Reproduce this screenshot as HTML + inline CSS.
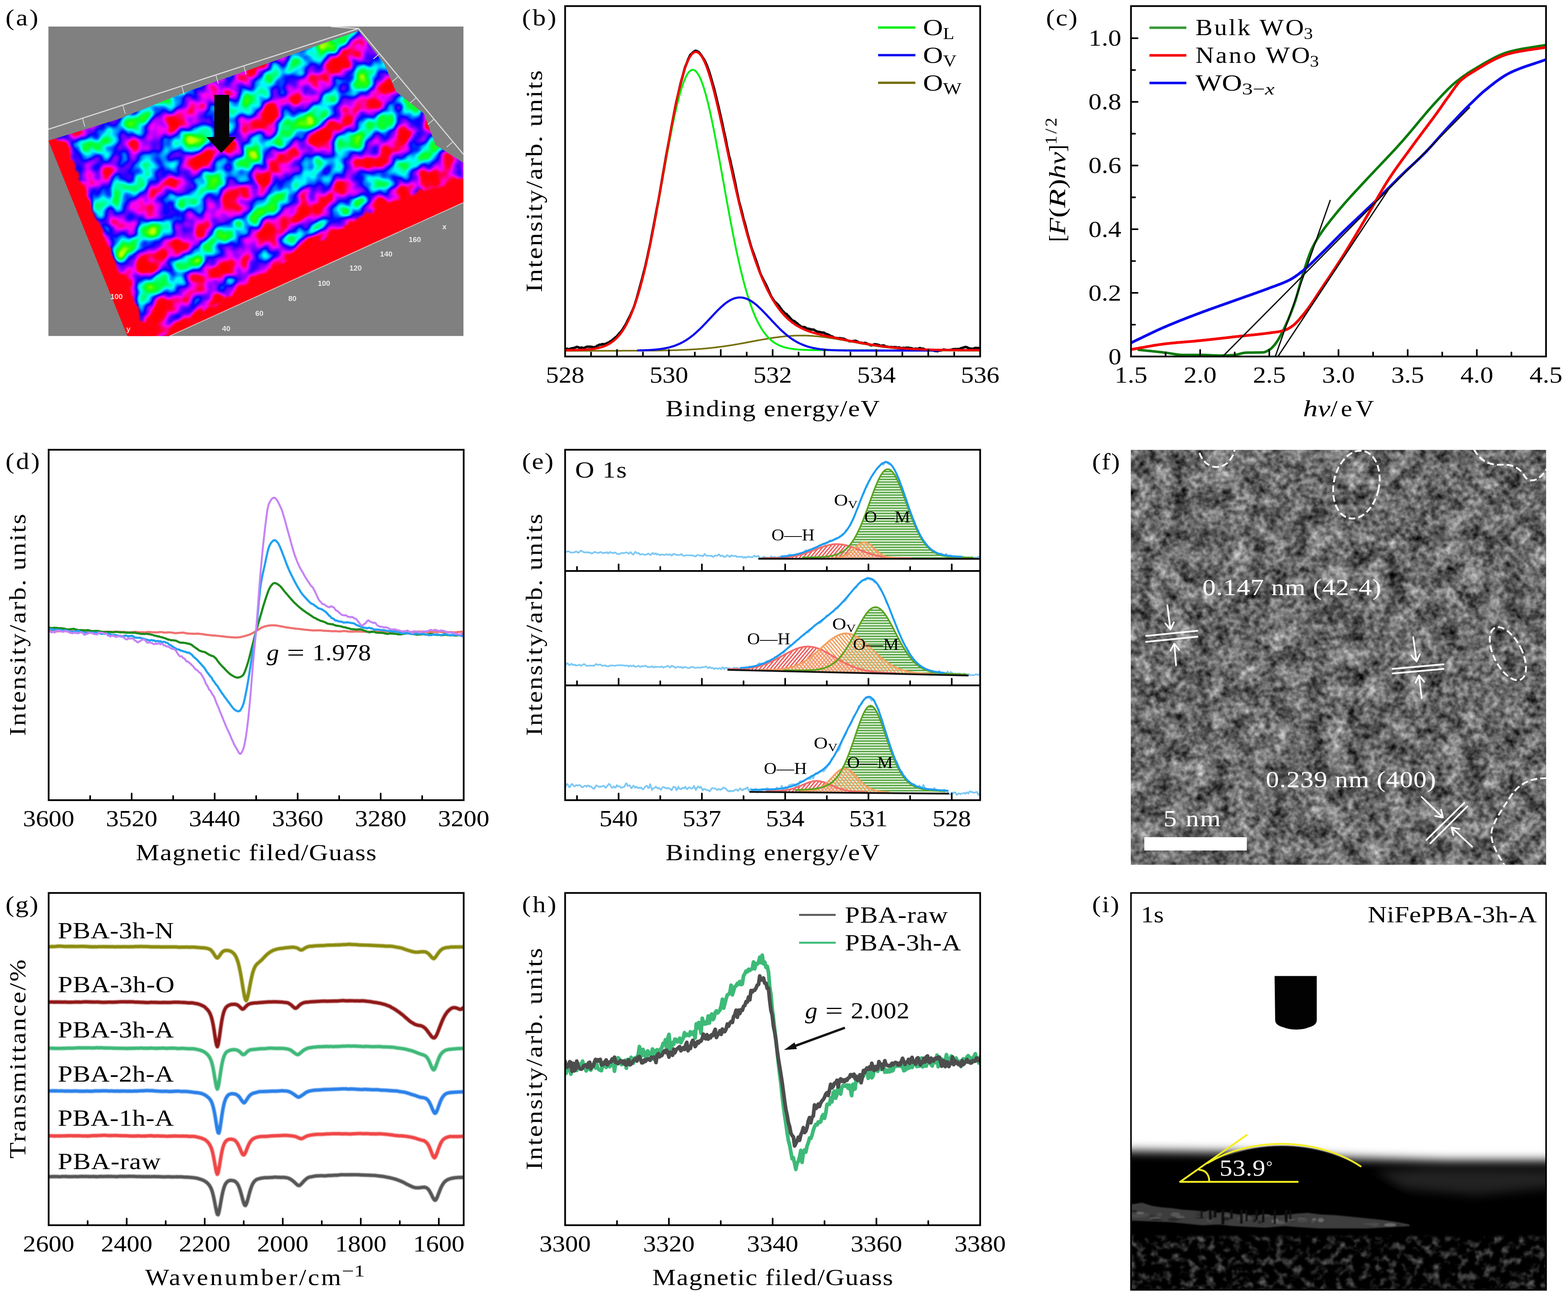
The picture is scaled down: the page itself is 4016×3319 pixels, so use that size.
<!DOCTYPE html>
<html lang="en"><head><meta charset="utf-8"><title>Figure</title>
<style>html,body{margin:0;padding:0;background:#fff}svg{display:block}text{font-family:"Liberation Serif", "DejaVu Serif", serif;white-space:pre}</style></head>
<body>
<svg width="4016" height="3319" viewBox="0 0 4016 3319">
<defs>
<clipPath id="ca"><rect x="124" y="68" width="1063" height="792.4"/></clipPath>
<linearGradient id="ga" gradientUnits="userSpaceOnUse" x1="885.7" y1="308.6" x2="958.9" y2="411.2" spreadMethod="repeat"><stop offset="0.0000" stop-color="rgb(255,255,255)"/><stop offset="0.0625" stop-color="rgb(246,246,246)"/><stop offset="0.1250" stop-color="rgb(221,221,221)"/><stop offset="0.1875" stop-color="rgb(183,183,183)"/><stop offset="0.2500" stop-color="rgb(137,137,137)"/><stop offset="0.3125" stop-color="rgb(89,89,89)"/><stop offset="0.3750" stop-color="rgb(45,45,45)"/><stop offset="0.4375" stop-color="rgb(13,13,13)"/><stop offset="0.5000" stop-color="rgb(0,0,0)"/><stop offset="0.5625" stop-color="rgb(13,13,13)"/><stop offset="0.6250" stop-color="rgb(45,45,45)"/><stop offset="0.6875" stop-color="rgb(89,89,89)"/><stop offset="0.7500" stop-color="rgb(137,137,137)"/><stop offset="0.8125" stop-color="rgb(183,183,183)"/><stop offset="0.8750" stop-color="rgb(221,221,221)"/><stop offset="0.9375" stop-color="rgb(246,246,246)"/><stop offset="1.0000" stop-color="rgb(255,255,255)"/></linearGradient>
<filter id="afm" x="0" y="0" width="100%" height="100%" filterUnits="objectBoundingBox" color-interpolation-filters="sRGB">
<feTurbulence type="fractalNoise" baseFrequency="0.021" numOctaves="2" seed="5" result="t0"/>
<feColorMatrix in="t0" type="matrix" values="1 0 0 0 0  1 0 0 0 0  1 0 0 0 0  0 0 0 0 1" result="n"/>
<feComposite in="SourceGraphic" in2="n" operator="arithmetic" k1="0" k2="0.60" k3="1.0" k4="-0.235" result="h"/>
<feGaussianBlur in="h" stdDeviation="2.2" result="hb"/>
<feComponentTransfer in="hb"><feFuncR type="table" tableValues="0.745 0.561 0.377 0.194 0.118 0.069 0.020 0.000 0.000 0.000 0.000 0.000 0.000 0.000 0.000 0.000 0.000 0.048 0.181 0.313 0.446 0.589 0.743 0.896 1.000 1.000 1.000 1.000 1.000 1.000 1.000 1.000 1.000"/><feFuncG type="table" tableValues="1.000 1.000 1.000 1.000 1.000 1.000 1.000 1.000 1.000 1.000 1.000 0.979 0.806 0.632 0.458 0.285 0.111 0.000 0.000 0.000 0.000 0.000 0.000 0.000 0.000 0.000 0.000 0.000 0.000 0.000 0.000 0.000 0.000"/><feFuncB type="table" tableValues="0.000 0.000 0.000 0.000 0.059 0.132 0.206 0.338 0.508 0.679 0.850 1.000 1.000 1.000 1.000 1.000 1.000 1.000 1.000 1.000 1.000 1.000 1.000 1.000 0.930 0.710 0.491 0.271 0.140 0.105 0.070 0.035 0.000"/><feFuncA type="linear" slope="0" intercept="1"/></feComponentTransfer>
</filter>
<filter id="ab" x="-20%" y="-20%" width="140%" height="140%"><feGaussianBlur stdDeviation="9"/></filter>
<filter id="afm2" x="-5%" y="-5%" width="110%" height="110%" color-interpolation-filters="sRGB">
<feTurbulence type="fractalNoise" baseFrequency="0.035" numOctaves="2" seed="11" result="t0"/>
<feColorMatrix in="t0" type="matrix" values="1 0 0 0 0  0 1 0 0 0  0 0 1 0 0  0 0 0 0 1" result="t"/>
<feDisplacementMap in="SourceGraphic" in2="t" scale="30" xChannelSelector="R" yChannelSelector="G" result="d"/>
<feGaussianBlur in="d" stdDeviation="2.5"/>
</filter>
<linearGradient id="gad" gradientUnits="userSpaceOnUse" x1="300" y1="150" x2="800" y2="760"><stop offset="0" stop-color="#000" stop-opacity="0.22"/><stop offset="0.55" stop-color="#000" stop-opacity="0.08"/><stop offset="1" stop-color="#000" stop-opacity="0"/></linearGradient>
<clipPath id="cas"><path d="M103.8 366.5 L301.1 305.8 L478.2 235 L680.5 164.1 L918.3 79.1 L984.1 164.1 L1014.5 235 L1085.3 290.6 L1115.7 371.6 L1187 417.1 L1211.8 432.3 L1237.1 495.5 L351.7 897.7 L341.6 897.7 L124 360.4 Z"/></clipPath>
<clipPath id="cb"><rect x="1447.4" y="15.6" width="1063" height="897.4"/></clipPath>
<clipPath id="cc"><rect x="2896.7" y="15.6" width="1063" height="897.4"/></clipPath>
<clipPath id="cd"><rect x="124.6" y="1151.8" width="1063" height="897.4"/></clipPath>
<clipPath id="ce"><rect x="1447.4" y="1151.8" width="1063" height="897.4"/></clipPath>
<pattern id="hg" width="8" height="6.7" patternUnits="userSpaceOnUse"><rect width="8" height="6.7" fill="#e6f6e0"/><rect y="0" width="8" height="3.3" fill="#4fa03c"/></pattern>
<pattern id="hr" width="7" height="7" patternUnits="userSpaceOnUse" patternTransform="rotate(-50)"><rect width="7" height="7" fill="#fff" fill-opacity="0.55"/><rect width="7" height="3.4" fill="#ee5555"/></pattern>
<pattern id="ho" width="7" height="7" patternUnits="userSpaceOnUse" patternTransform="rotate(50)"><rect width="7" height="7" fill="#fff" fill-opacity="0.45"/><rect width="7" height="3.2" fill="#f29a55"/></pattern>
<clipPath id="cf"><rect x="2896.8" y="1152.3" width="1063.2" height="1061.9"/></clipPath>
<filter id="tem" x="0" y="0" width="100%" height="100%" filterUnits="objectBoundingBox" color-interpolation-filters="sRGB">
<feTurbulence type="fractalNoise" baseFrequency="0.075" numOctaves="2" seed="7" result="n1"/>
<feColorMatrix in="n1" type="matrix" values="1 0 0 0 0  1 0 0 0 0  1 0 0 0 0  0 0 0 0 1" result="g1"/>
<feTurbulence type="fractalNoise" baseFrequency="0.02" numOctaves="2" seed="19" result="n2"/>
<feColorMatrix in="n2" type="matrix" values="0 1 0 0 0  0 1 0 0 0  0 1 0 0 0  0 0 0 0 1" result="g2"/>
<feComposite in="g1" in2="g2" operator="arithmetic" k1="0" k2="0.72" k3="0.72" k4="-0.305" result="s"/>
<feGaussianBlur in="s" stdDeviation="1.3"/>
</filter>
<filter id="blb" x="-50%" y="-50%" width="200%" height="200%"><feGaussianBlur stdDeviation="14"/></filter>
<clipPath id="cg"><rect x="124.6" y="2286.8" width="1063" height="850.9"/></clipPath>
<filter id="soft" x="-2%" y="-20%" width="104%" height="140%"><feGaussianBlur stdDeviation="1.1"/></filter>
<clipPath id="ch"><rect x="1447.4" y="2286.8" width="1063" height="850.9"/></clipPath>
<clipPath id="ci"><rect x="2896.7" y="2286.8" width="1063.2" height="1016.5"/></clipPath>
<filter id="b14" x="-10%" y="-30%" width="120%" height="160%"><feGaussianBlur stdDeviation="13"/></filter>
<filter id="b3" x="-10%" y="-50%" width="120%" height="200%"><feGaussianBlur stdDeviation="1.8"/></filter>
<filter id="b5" x="-10%" y="-50%" width="120%" height="200%"><feGaussianBlur stdDeviation="3.5"/></filter>
<filter id="spk" x="0" y="0" width="100%" height="100%" color-interpolation-filters="sRGB">
<feTurbulence type="fractalNoise" baseFrequency="0.045 0.05" numOctaves="3" seed="4" result="n"/>
<feColorMatrix in="n" type="matrix" values="1.0 0 0 0 -0.48  1.0 0 0 0 -0.48  1.0 0 0 0 -0.48  0 0 0 0 1"/>
<feGaussianBlur stdDeviation="1.6"/>
</filter>
</defs>
<rect width="4016" height="3319" fill="#fff"/>
<rect x="124" y="68" width="1063" height="792.4" fill="#808080"/>
<g clip-path="url(#ca)">
<g clip-path="url(#cas)">
<g filter="url(#afm)">
<rect x="114" y="58" width="1083" height="812.4" fill="url(#ga)"/>
<rect x="114" y="58" width="1083" height="812.4" fill="url(#gad)"/>
<g filter="url(#ab)">
<path d="M351.7 897.7 1237.1 495.5 1237.1 412 984.1 498.1 781.7 614.4 629.9 705.5 498.4 791.5 316.3 897.7Z" stroke="none" stroke-width="0" fill="#fff" stroke-linejoin="round" stroke-linecap="round"/>
<path d="M93.6 341.2 164.5 371.6 215.1 487.9 275.8 629.6 346.6 776.3 412.4 897.7 275.8 897.7 93.6 432.3Z" stroke="none" stroke-width="0" fill="#fff" stroke-linejoin="round" stroke-linecap="round"/>
</g>
</g>
<g filter="url(#afm2)">
<path d="M351.7 907.9 1247.2 495.5 1247.2 434.8 984.1 520.8 781.7 637.2 629.9 728.3 508.5 809.2 336.5 907.9Z" stroke="none" stroke-width="0" fill="#ff0010" stroke-linejoin="round" stroke-linecap="round"/>
<path d="M103.8 341.2 169.5 366.5 217.6 493 275.8 629.6 346.6 776.3 412.4 897.7 275.8 897.7 93.6 412Z" stroke="none" stroke-width="0" fill="#ff0010" stroke-linejoin="round" stroke-linecap="round"/>
</g>
</g>
<path d="M124 331.1L918.3 73.1L1187 395.3" stroke="#d8d8d8" stroke-width="3" fill="none"/>
<path d="M847.5 68L918.3 73.1" stroke="#d8d8d8" stroke-width="3" fill="none"/>
<path d="M435.2 860.3L1187 518.8" stroke="#d8c8c8" stroke-width="2.4" fill="none" opacity="0.85"/>
<path d="M211.4 302.6l6 22" stroke="#d0d0d0" stroke-width="2.2"/>
<path d="M314.6 269.1l6 22" stroke="#d0d0d0" stroke-width="2.2"/>
<path d="M465.5 220.1l6 22" stroke="#d0d0d0" stroke-width="2.2"/>
<path d="M552.9 191.7l6 22" stroke="#d0d0d0" stroke-width="2.2"/>
<path d="M624.4 168.5l6 22" stroke="#d0d0d0" stroke-width="2.2"/>
<path d="M972 137.4l-16 14" stroke="#d0d0d0" stroke-width="2.2"/>
<path d="M1020.4 195.4l-16 14" stroke="#d0d0d0" stroke-width="2.2"/>
<path d="M1066.1 250.1l-16 14" stroke="#d0d0d0" stroke-width="2.2"/>
<path d="M1111.8 304.8l-16 14" stroke="#d0d0d0" stroke-width="2.2"/>
<path d="M1160.1 362.8l-16 14" stroke="#d0d0d0" stroke-width="2.2"/>
<path d="M549 243H587V351H605L566.7 392L528.5 351H549Z" fill="#050505"/>
</g>
<text x="1138.4" y="587" style="font-family:'Liberation Sans', 'DejaVu Sans', sans-serif;font-weight:bold" font-size="19" text-anchor="middle" fill="#f4f4f4" opacity="0.9">x</text>
<text x="1062.5" y="620.4" style="font-family:'Liberation Sans', 'DejaVu Sans', sans-serif;font-weight:bold" font-size="19" text-anchor="middle" fill="#f4f4f4" opacity="0.9">160</text>
<text x="989.2" y="656.8" style="font-family:'Liberation Sans', 'DejaVu Sans', sans-serif;font-weight:bold" font-size="19" text-anchor="middle" fill="#f4f4f4" opacity="0.9">140</text>
<text x="910.7" y="693.3" style="font-family:'Liberation Sans', 'DejaVu Sans', sans-serif;font-weight:bold" font-size="19" text-anchor="middle" fill="#f4f4f4" opacity="0.9">120</text>
<text x="829.8" y="731.7" style="font-family:'Liberation Sans', 'DejaVu Sans', sans-serif;font-weight:bold" font-size="19" text-anchor="middle" fill="#f4f4f4" opacity="0.9">100</text>
<text x="748.8" y="770.7" style="font-family:'Liberation Sans', 'DejaVu Sans', sans-serif;font-weight:bold" font-size="19" text-anchor="middle" fill="#f4f4f4" opacity="0.9">80</text>
<text x="664.3" y="808.6" style="font-family:'Liberation Sans', 'DejaVu Sans', sans-serif;font-weight:bold" font-size="19" text-anchor="middle" fill="#f4f4f4" opacity="0.9">60</text>
<text x="579.4" y="848.1" style="font-family:'Liberation Sans', 'DejaVu Sans', sans-serif;font-weight:bold" font-size="19" text-anchor="middle" fill="#f4f4f4" opacity="0.9">40</text>
<text x="298.6" y="765.6" style="font-family:'Liberation Sans', 'DejaVu Sans', sans-serif;font-weight:bold" font-size="19" text-anchor="middle" fill="#f4f4f4" opacity="0.9">100</text>
<text x="328.9" y="849.1" style="font-family:'Liberation Sans', 'DejaVu Sans', sans-serif;font-weight:bold" font-size="19" text-anchor="middle" fill="#f4f4f4" opacity="0.9">y</text>
<text transform="translate(14,64.8) scale(1.130,1)" x="0" y="0" font-size="60" textLength="74.5" lengthAdjust="spacing">(a)</text>
<g clip-path="url(#cb)">
<path d="M1447.4 894.7 1450.1 893.6 1452.7 893 1455.4 894.1 1458.1 894.3 1460.7 893 1463.4 892.4 1466 891.6 1468.7 891.5 1471.4 890.6 1474 889.8 1476.7 888.5 1479.4 888.7 1482 889.8 1484.7 890.8 1487.4 890.5 1490 890 1492.7 891.4 1495.4 891 1498 890.2 1500.7 888.9 1503.3 888 1506 887.7 1508.7 888.3 1511.3 887.6 1514 888.2 1516.7 888.4 1519.3 889.6 1522 889.3 1524.7 888.4 1527.3 888.3 1530 885.1 1532.7 884.6 1535.3 882.7 1538 882.9 1540.6 882 1543.3 881 1546 882.2 1548.6 881.1 1551.3 880.6 1554 879.3 1556.6 877.7 1559.3 877.3 1562 874.8 1564.6 873.8 1567.3 871.8 1570 869.4 1572.6 867.2 1575.3 865 1577.9 863.2 1580.6 860.4 1583.3 857.4 1585.9 854.1 1588.6 851.4 1591.3 848.1 1593.9 844.6 1596.6 840.4 1599.3 836 1601.9 832.1 1604.6 827.1 1607.3 821.3 1609.9 816.2 1612.6 810.7 1615.3 805.5 1617.9 799.3 1620.6 793.5 1623.3 787 1625.9 779.4 1628.6 770.8 1631.3 762.2 1633.9 752.7 1636.6 742.8 1639.3 732.9 1641.9 723.4 1644.6 713.7 1647.3 702.8 1649.9 692.8 1652.6 682.4 1655.3 670.1 1658 658.1 1660.6 645.6 1663.3 633.5 1666 621 1668.7 605.9 1671.3 592.4 1674 578.5 1676.7 564.5 1679.3 550.5 1682 535.7 1684.7 522.3 1687.4 508.1 1690.1 492.5 1692.7 477.2 1695.4 461.9 1698.1 445.3 1700.8 430.2 1703.5 414.6 1706.1 399.3 1708.8 384.6 1711.5 370.5 1714.2 356.8 1716.9 341.5 1719.6 327.1 1722.3 312.6 1724.9 299.1 1727.6 284.4 1730.3 270.3 1733 257.7 1735.7 247 1738.4 235.6 1741.1 222.4 1743.8 211 1746.5 201.7 1749.2 192.2 1751.9 181.8 1754.5 172.5 1757.2 165.9 1759.9 159.4 1762.6 151.8 1765.3 146.2 1768 140.5 1770.7 138.3 1773.4 135.7 1776.1 132.9 1778.8 131.3 1781.5 130 1784.2 130.7 1786.9 132 1789.6 133.4 1792.3 136.3 1795 140.2 1797.6 143.7 1800.3 148.3 1803 151.7 1805.7 156.7 1808.4 162.7 1811.1 169.1 1813.8 176.5 1816.4 183.6 1819.1 192.7 1821.8 201.8 1824.5 211.7 1827.2 220.6 1829.8 230.1 1832.5 241.2 1835.2 252 1837.9 263.7 1840.5 274.2 1843.2 286.6 1845.9 298 1848.5 309.7 1851.2 322 1853.8 334.9 1856.5 346.5 1859.2 358.9 1861.8 373.5 1864.5 385.9 1867.1 398.8 1869.8 407.8 1872.4 420.3 1875.1 432.3 1877.7 443.6 1880.4 456.9 1883 468 1885.7 482.6 1888.3 494.5 1890.9 507.4 1893.6 519.1 1896.2 528.2 1898.9 538.1 1901.5 548.5 1904.1 560.2 1906.8 568.7 1909.4 577.7 1912 588.7 1914.7 599.6 1917.3 608.7 1919.9 617.6 1922.6 627.4 1925.2 635.8 1927.8 643.3 1930.5 649.9 1933.1 657.5 1935.7 664.6 1938.4 672.3 1941 680.4 1943.7 688.6 1946.3 697.6 1948.9 703.7 1951.6 709.2 1954.2 714.4 1956.8 719.5 1959.5 724.3 1962.1 729.3 1964.7 734.9 1967.4 741.1 1970 747.1 1972.7 753.6 1975.3 759.2 1978 763.1 1980.6 767.3 1983.2 771.4 1985.9 773.8 1988.5 776.4 1991.2 778.8 1993.8 781.5 1996.5 785.3 1999.1 789.3 2001.8 792.8 2004.4 796.2 2007.1 798.6 2009.7 801.8 2012.4 803.4 2015 804.4 2017.7 808.5 2020.3 810.1 2023 813.6 2025.6 816.4 2028.3 819.4 2031 821.5 2033.6 821.9 2036.3 823.7 2038.9 826.1 2041.6 827.8 2044.2 830.7 2046.9 832.8 2049.6 834.5 2052.2 837 2054.9 837.3 2057.5 838.1 2060.2 837.4 2062.9 839 2065.5 840.8 2068.2 841.8 2070.8 841.9 2073.5 842.2 2076.2 843.7 2078.8 843.8 2081.5 844 2084.2 844.1 2086.8 846 2089.5 847.5 2092.1 848.8 2094.8 850 2097.5 849.8 2100.1 850.4 2102.8 851 2105.5 851.7 2108.1 851.7 2110.8 852 2113.4 854.1 2116.1 855.2 2118.8 856 2121.4 857.2 2124.1 858.5 2126.8 860.2 2129.4 861.3 2132.1 861.7 2134.8 864 2137.4 864.6 2140.1 865.3 2142.7 865.8 2145.4 865.9 2148.1 866.5 2150.7 865.8 2153.4 866.4 2156.1 867 2158.7 867.3 2161.4 867.5 2164.1 868.9 2166.7 870.2 2169.4 871.4 2172.1 872.3 2174.7 873.5 2177.4 874 2180 874.1 2182.7 874.1 2185.4 873.1 2188 873.3 2190.7 872.6 2193.4 873.3 2196 874.9 2198.7 876.1 2201.4 878 2204 877.6 2206.7 877.7 2209.3 879.4 2212 878.4 2214.7 878.2 2217.3 878.3 2220 879.6 2222.7 881 2225.3 881.8 2228 883.4 2230.7 884.3 2233.3 884.2 2236 883.1 2238.7 881.8 2241.3 881.4 2244 882.2 2246.6 882.1 2249.3 883.3 2252 883.7 2254.6 885.3 2257.3 885.9 2260 884.8 2262.6 884.6 2265.3 885.3 2268 887.1 2270.6 887.8 2273.3 887.7 2276 888.5 2278.6 889.3 2281.3 888.5 2283.9 888.9 2286.6 889.5 2289.3 888.9 2291.9 889.1 2294.6 888.9 2297.3 890.1 2299.9 890.1 2302.6 889.4 2305.3 891.2 2307.9 891 2310.6 891.7 2313.3 890.8 2315.9 890.9 2318.6 891.5 2321.2 890.2 2323.9 891.3 2326.6 890.3 2329.2 891.2 2331.9 891.8 2334.6 891.6 2337.2 893.1 2339.9 893.2 2342.6 893.7 2345.2 892.7 2347.9 893.4 2350.6 893.6 2353.2 892.1 2355.9 891.4 2358.5 892.2 2361.2 893.4 2363.9 892.7 2366.5 893.9 2369.2 895.4 2371.9 896.4 2374.5 896.6 2377.2 895.9 2379.9 896.2 2382.5 896.6 2385.2 896.2 2387.8 897 2390.5 897.5 2393.2 898.5 2395.8 898.8 2398.5 898.7 2401.2 899.6 2403.8 897.8 2406.5 897.9 2409.2 897.9 2411.8 897 2414.5 895.8 2417.2 895.1 2419.8 895.7 2422.5 896.2 2425.1 896.4 2427.8 896.8 2430.5 896.7 2433.1 896.2 2435.8 896.2 2438.5 895 2441.1 894.2 2443.8 894.1 2446.5 893.9 2449.1 893.9 2451.8 893.9 2454.5 893.8 2457.1 893.8 2459.8 892.6 2462.4 891.5 2465.1 891 2467.8 890.1 2470.4 889 2473.1 888.6 2475.8 889 2478.4 890.6 2481.1 891.5 2483.8 892.7 2486.4 892.8 2489.1 893.1 2491.8 893.4 2494.4 892.3 2497.1 891.1 2499.7 890.9 2502.4 891.7 2505.1 891 2507.7 891.9 2510.4 892.3" stroke="#0a0a0a" stroke-width="6.4" fill="none" stroke-linejoin="round" stroke-linecap="round"/>
<path d="M1447.4 898.3 1450.1 898.3 1452.7 898.3 1455.4 898.3 1458.1 898.3 1460.7 898.3 1463.4 898.3 1466 898.3 1468.7 898.3 1471.4 898.3 1474 898.3 1476.7 898.3 1479.4 898.3 1482 898.3 1484.7 898.3 1487.4 898.3 1490 898.3 1492.7 898.3 1495.4 898.3 1498 898.3 1500.7 898.3 1503.3 898.3 1506 898.3 1508.7 898.3 1511.3 898.3 1514 898.3 1516.7 898.3 1519.3 898.3 1522 898.3 1524.7 898.3 1527.3 898.3 1530 898.3 1532.7 898.3 1535.3 898.3 1538 898.3 1540.6 898.3 1543.3 898.3 1546 898.3 1548.6 898.3 1551.3 898.3 1554 898.3 1556.6 898.3 1559.3 898.3 1562 898.3 1564.6 898.3 1567.3 898.3 1570 898.3 1572.6 898.3 1575.3 898.3 1577.9 898.3 1580.6 898.3 1583.3 898.3 1585.9 898.3 1588.6 898.3 1591.3 898.3 1593.9 898.2 1596.6 898.2 1599.3 898.2 1601.9 898.2 1604.6 898.2 1607.2 898.2 1609.9 898.2 1612.6 898.2 1615.2 898.2 1617.9 898.2 1620.6 898.2 1623.2 898.2 1625.9 898.2 1628.6 898.2 1631.2 898.1 1633.9 898.1 1636.6 898.1 1639.2 898.1 1641.9 898.1 1644.5 898.1 1647.2 898.1 1649.9 898.1 1652.5 898 1655.2 898 1657.9 898 1660.5 898 1663.2 898 1665.9 897.9 1668.5 897.9 1671.2 897.9 1673.9 897.9 1676.5 897.8 1679.2 897.8 1681.8 897.8 1684.5 897.7 1687.2 897.7 1689.8 897.7 1692.5 897.6 1695.2 897.6 1697.8 897.5 1700.5 897.5 1703.2 897.4 1705.8 897.4 1708.5 897.3 1711.2 897.3 1713.8 897.2 1716.5 897.2 1719.1 897.1 1721.8 897 1724.5 897 1727.1 896.9 1729.8 896.8 1732.5 896.7 1735.1 896.6 1737.8 896.5 1740.5 896.4 1743.1 896.3 1745.8 896.2 1748.5 896.1 1751.1 896 1753.8 895.9 1756.4 895.8 1759.1 895.7 1761.8 895.5 1764.4 895.4 1767.1 895.2 1769.8 895.1 1772.4 894.9 1775.1 894.8 1777.8 894.6 1780.4 894.4 1783.1 894.3 1785.7 894.1 1788.4 893.9 1791.1 893.7 1793.7 893.5 1796.4 893.3 1799.1 893.1 1801.7 892.8 1804.4 892.6 1807.1 892.4 1809.7 892.1 1812.4 891.9 1815.1 891.6 1817.7 891.3 1820.4 891.1 1823 890.8 1825.7 890.5 1828.4 890.2 1831 889.9 1833.7 889.6 1836.4 889.2 1839 888.9 1841.7 888.6 1844.4 888.2 1847 887.9 1849.7 887.5 1852.4 887.1 1855 886.8 1857.7 886.4 1860.3 886 1863 885.6 1865.7 885.2 1868.3 884.8 1871 884.3 1873.7 883.9 1876.3 883.5 1879 883.1 1881.7 882.6 1884.3 882.2 1887 881.7 1889.7 881.2 1892.3 880.8 1895 880.3 1897.6 879.8 1900.3 879.4 1903 878.9 1905.6 878.4 1908.3 877.9 1911 877.4 1913.6 876.9 1916.3 876.4 1919 875.9 1921.6 875.4 1924.3 874.9 1926.9 874.4 1929.6 873.9 1932.3 873.4 1934.9 872.9 1937.6 872.4 1940.3 871.9 1942.9 871.4 1945.6 871 1948.3 870.5 1950.9 870 1953.6 869.5 1956.3 869 1958.9 868.6 1961.6 868.1 1964.2 867.7 1966.9 867.2 1969.6 866.8 1972.2 866.4 1974.9 865.9 1977.6 865.5 1980.2 865.1 1982.9 864.7 1985.6 864.3 1988.2 864 1990.9 863.6 1993.6 863.3 1996.2 862.9 1998.9 862.6 2001.5 862.3 2004.2 862 2006.9 861.7 2009.5 861.4 2012.2 861.2 2014.9 860.9 2017.5 860.7 2020.2 860.5 2022.9 860.3 2025.5 860.1 2028.2 860 2030.9 859.8 2033.5 859.7 2036.2 859.6 2038.8 859.5 2041.5 859.4 2044.2 859.4 2046.8 859.3 2049.5 859.3 2052.2 859.3 2054.8 859.3 2057.5 859.3 2060.2 859.4 2062.8 859.4 2065.5 859.5 2068.1 859.6 2070.8 859.7 2073.5 859.9 2076.1 860 2078.8 860.2 2081.5 860.3 2084.1 860.5 2086.8 860.8 2089.5 861 2092.1 861.2 2094.8 861.5 2097.5 861.8 2100.1 862 2102.8 862.3 2105.4 862.6 2108.1 863 2110.8 863.3 2113.4 863.7 2116.1 864 2118.8 864.4 2121.4 864.8 2124.1 865.2 2126.8 865.6 2129.4 866 2132.1 866.4 2134.8 866.8 2137.4 867.3 2140.1 867.7 2142.7 868.2 2145.4 868.6 2148.1 869.1 2150.7 869.6 2153.4 870.1 2156.1 870.5 2158.7 871 2161.4 871.5 2164.1 872 2166.7 872.5 2169.4 873 2172.1 873.5 2174.7 874 2177.4 874.5 2180 875 2182.7 875.5 2185.4 876 2188 876.5 2190.7 877 2193.4 877.5 2196 878 2198.7 878.5 2201.4 878.9 2204 879.4 2206.7 879.9 2209.3 880.4 2212 880.8 2214.7 881.3 2217.3 881.8 2220 882.2 2222.7 882.7 2225.3 883.1 2228 883.5 2230.7 884 2233.3 884.4 2236 884.8 2238.7 885.2 2241.3 885.6 2244 886 2246.6 886.4 2249.3 886.8 2252 887.2 2254.6 887.6 2257.3 887.9 2260 888.3 2262.6 888.6 2265.3 888.9 2268 889.3 2270.6 889.6 2273.3 889.9 2276 890.2 2278.6 890.5 2281.3 890.8 2283.9 891.1 2286.6 891.4 2289.3 891.6 2291.9 891.9 2294.6 892.2 2297.3 892.4 2299.9 892.6 2302.6 892.9 2305.3 893.1 2307.9 893.3 2310.6 893.5 2313.3 893.7 2315.9 893.9 2318.6 894.1 2321.2 894.3 2323.9 894.5 2326.6 894.6 2329.2 894.8 2331.9 895 2334.6 895.1 2337.2 895.3 2339.9 895.4 2342.6 895.5 2345.2 895.7 2347.9 895.8 2350.6 895.9 2353.2 896 2355.9 896.1 2358.5 896.3 2361.2 896.4 2363.9 896.5 2366.5 896.6 2369.2 896.6 2371.9 896.7 2374.5 896.8 2377.2 896.9 2379.9 897 2382.5 897 2385.2 897.1 2387.8 897.2 2390.5 897.2 2393.2 897.3 2395.8 897.3 2398.5 897.4 2401.2 897.5 2403.8 897.5 2406.5 897.5 2409.2 897.6 2411.8 897.6 2414.5 897.7 2417.2 897.7 2419.8 897.7 2422.5 897.8 2425.1 897.8 2427.8 897.8 2430.5 897.9 2433.1 897.9 2435.8 897.9 2438.5 897.9 2441.1 898 2443.8 898 2446.5 898 2449.1 898 2451.8 898 2454.5 898.1 2457.1 898.1 2459.8 898.1 2462.4 898.1 2465.1 898.1 2467.8 898.1 2470.4 898.1 2473.1 898.2 2475.8 898.2 2478.4 898.2 2481.1 898.2 2483.8 898.2 2486.4 898.2 2489.1 898.2 2491.8 898.2 2494.4 898.2 2497.1 898.2 2499.7 898.2 2502.4 898.2 2505.1 898.2 2507.7 898.2 2510.4 898.2" stroke="#77700a" stroke-width="4.2" fill="none" stroke-linejoin="round" stroke-linecap="round"/>
<path d="M1487.4 896 1490 895.9 1492.7 895.8 1495.4 895.7 1498 895.5 1500.7 895.3 1503.3 895.1 1506 894.9 1508.7 894.7 1511.3 894.4 1514 894.2 1516.7 893.8 1519.3 893.5 1522 893.1 1524.7 892.7 1527.3 892.2 1530 891.7 1532.7 891.1 1535.3 890.4 1538 889.7 1540.6 889 1543.3 888.1 1546 887.2 1548.6 886.2 1551.3 885.1 1554 883.9 1556.6 882.6 1559.3 881.1 1562 879.6 1564.6 877.9 1567.3 876.1 1570 874.1 1572.6 872 1575.3 869.7 1577.9 867.2 1580.6 864.6 1583.3 861.7 1585.9 858.7 1588.6 855.4 1591.3 851.9 1593.9 848.1 1596.6 844.1 1599.3 839.9 1601.9 835.3 1604.6 830.5 1607.2 825.4 1609.9 820 1612.6 814.3 1615.2 808.2 1617.9 801.9 1620.6 795.1 1623.2 788.1 1625.9 780.7 1628.6 772.9 1631.2 764.7 1633.9 756.2 1636.6 747.3 1639.2 738.1 1641.9 728.4 1644.5 718.4 1647.2 708 1649.9 697.3 1652.5 686.1 1655.2 674.7 1657.9 662.8 1660.5 650.6 1663.2 638.1 1665.9 625.3 1668.5 612.2 1671.2 598.8 1673.9 585.1 1676.5 571.2 1679.2 557 1681.8 542.7 1684.5 528.2 1687.2 513.5 1689.8 498.8 1692.5 483.9 1695.2 469 1697.8 454.1 1700.5 439.2 1703.2 424.3 1705.8 409.6 1708.5 394.9 1711.2 380.5 1713.8 366.2 1716.5 352.2 1719.1 338.5 1721.8 325.1 1724.5 312 1727.1 299.4 1729.8 287.2 1732.5 275.5 1735.1 264.3 1737.8 253.7 1740.5 243.6 1743.1 234.2 1745.8 225.4 1748.5 217.3 1751.1 210 1753.8 203.3 1756.4 197.4 1759.1 192.3 1761.8 188 1764.4 184.5 1767.1 181.9 1769.8 180 1772.4 179 1775.1 178.8 1777.8 179.5 1780.4 181 1783.1 183.4 1785.7 186.6 1788.4 190.6 1791.1 195.4 1793.7 201 1796.4 207.3 1799.1 214.4 1801.7 222.2 1804.4 230.7 1807.1 239.9 1809.7 249.7 1812.4 260.1 1815.1 271.1 1817.7 282.6 1820.4 294.6 1823 307.1 1825.7 320 1828.4 333.3 1831 346.9 1833.7 360.8 1836.4 374.9 1839 389.3 1841.7 403.9 1844.4 418.6 1847 433.4 1849.7 448.3 1852.4 463.3 1855 478.2 1857.7 493.1 1860.3 507.9 1863 522.6 1865.7 537.1 1868.3 551.5 1871 565.8 1873.7 579.8 1876.3 593.5 1879 607.1 1881.7 620.3 1884.3 633.2 1887 645.9 1889.7 658.2 1892.3 670.1 1895 681.8 1897.6 693 1900.3 703.9 1903 714.5 1905.6 724.6 1908.3 734.4 1911 743.8 1913.6 752.9 1916.3 761.5 1919 769.8 1921.6 777.7 1924.3 785.3 1926.9 792.5 1929.6 799.3 1932.3 805.8 1934.9 812 1937.6 817.8 1940.3 823.4 1942.9 828.6 1945.6 833.5 1948.3 838.2 1950.9 842.5 1953.6 846.6 1956.3 850.5 1958.9 854.1 1961.6 857.4 1964.2 860.6 1966.9 863.5 1969.6 866.2 1972.2 868.8 1974.9 871.1 1977.6 873.3 1980.2 875.3 1982.9 877.2 1985.6 878.9 1988.2 880.5 1990.9 882 1993.6 883.4 1996.2 884.6 1998.9 885.8 2001.5 886.8 2004.2 887.8 2006.9 888.6 2009.5 889.4 2012.2 890.2 2014.9 890.8 2017.5 891.4 2020.2 892 2022.9 892.5 2025.5 892.9 2028.2 893.3 2030.9 893.7 2033.5 894 2036.2 894.3 2038.8 894.6 2041.5 894.9 2044.2 895.1 2046.8 895.3 2049.5 895.4 2052.2 895.6 2054.8 895.7 2057.5 895.9 2060.2 896 2062.8 896.1 2065.5 896.2 2068.1 896.2 2070.8 896.3 2073.5 896.4 2076.1 896.4 2078.8 896.5 2081.5 896.5 2084.1 896.5 2086.8 896.6 2089.5 896.6 2092.1 896.6 2094.8 896.7 2097.5 896.7 2100.1 896.7 2102.8 896.7 2105.4 896.7 2108.1 896.7 2110.8 896.7 2113.4 896.7 2116.1 896.8 2118.8 896.8 2121.4 896.8 2124.1 896.8 2126.8 896.8 2129.4 896.8 2132.1 896.8 2134.8 896.8 2137.4 896.8 2140.1 896.8 2142.7 896.8 2145.4 896.8 2148.1 896.8 2150.7 896.8 2153.4 896.8 2156.1 896.8 2158.7 896.8 2161.4 896.8 2164.1 896.8 2166.7 896.8 2169.4 896.8 2172.1 896.8 2174.7 896.8 2177.4 896.8 2180 896.8 2182.7 896.8 2185.4 896.8 2188 896.8 2190.7 896.8 2193.4 896.8 2196 896.8 2198.7 896.8 2201.4 896.8 2204 896.8 2206.7 896.8 2209.3 896.8 2212 896.8 2214.7 896.8 2217.3 896.8 2220 896.8 2222.7 896.8 2225.3 896.8 2228 896.8 2230.7 896.8 2233.3 896.8 2236 896.8 2238.7 896.8 2241.3 896.8 2244 896.8" stroke="#00ee10" stroke-width="4.8" fill="none" stroke-linejoin="round" stroke-linecap="round"/>
<path d="M1633.9 897.4 1636.6 897.4 1639.2 897.3 1641.9 897.2 1644.5 897.2 1647.2 897.1 1649.9 897 1652.5 896.9 1655.2 896.8 1657.9 896.7 1660.5 896.6 1663.2 896.4 1665.9 896.3 1668.5 896.1 1671.2 896 1673.9 895.8 1676.5 895.5 1679.2 895.3 1681.8 895 1684.5 894.8 1687.2 894.5 1689.8 894.1 1692.5 893.8 1695.2 893.4 1697.8 893 1700.5 892.5 1703.2 892 1705.8 891.5 1708.5 890.9 1711.2 890.3 1713.8 889.7 1716.5 889 1719.1 888.2 1721.8 887.4 1724.5 886.6 1727.1 885.7 1729.8 884.7 1732.5 883.7 1735.1 882.6 1737.8 881.5 1740.5 880.3 1743.1 879 1745.8 877.7 1748.5 876.3 1751.1 874.8 1753.8 873.3 1756.4 871.7 1759.1 870 1761.8 868.2 1764.4 866.4 1767.1 864.4 1769.8 862.5 1772.4 860.4 1775.1 858.3 1777.8 856.1 1780.4 853.8 1783.1 851.5 1785.7 849 1788.4 846.6 1791.1 844.1 1793.7 841.5 1796.4 838.8 1799.1 836.2 1801.7 833.4 1804.4 830.7 1807.1 827.9 1809.7 825 1812.4 822.2 1815.1 819.3 1817.7 816.5 1820.4 813.6 1823 810.7 1825.7 807.9 1828.4 805 1831 802.2 1833.7 799.4 1836.4 796.7 1839 794 1841.7 791.4 1844.4 788.8 1847 786.3 1849.7 783.9 1852.4 781.6 1855 779.4 1857.7 777.2 1860.3 775.2 1863 773.3 1865.7 771.6 1868.3 769.9 1871 768.4 1873.7 767.1 1876.3 765.9 1879 764.8 1881.7 763.9 1884.3 763.2 1887 762.6 1889.7 762.2 1892.3 761.9 1895 761.8 1897.6 761.9 1900.3 762.1 1903 762.5 1905.6 763.1 1908.3 763.8 1911 764.7 1913.6 765.7 1916.3 766.9 1919 768.2 1921.6 769.7 1924.3 771.3 1926.9 773.1 1929.6 774.9 1932.3 776.9 1934.9 779 1937.6 781.2 1940.3 783.5 1942.9 785.9 1945.6 788.4 1948.3 791 1950.9 793.6 1953.6 796.3 1956.3 799 1958.9 801.8 1961.6 804.6 1964.2 807.4 1966.9 810.3 1969.6 813.1 1972.2 816 1974.9 818.9 1977.6 821.8 1980.2 824.6 1982.9 827.4 1985.6 830.2 1988.2 833 1990.9 835.7 1993.6 838.4 1996.2 841.1 1998.9 843.7 2001.5 846.2 2004.2 848.7 2006.9 851.1 2009.5 853.4 2012.2 855.7 2014.9 857.9 2017.5 860.1 2020.2 862.1 2022.9 864.1 2025.5 866.1 2028.2 867.9 2030.9 869.7 2033.5 871.4 2036.2 873 2038.8 874.6 2041.5 876.1 2044.2 877.5 2046.8 878.8 2049.5 880.1 2052.2 881.3 2054.8 882.5 2057.5 883.6 2060.2 884.6 2062.8 885.5 2065.5 886.5 2068.1 887.3 2070.8 888.1 2073.5 888.9 2076.1 889.6 2078.8 890.2 2081.5 890.8 2084.1 891.4 2086.8 891.9 2089.5 892.4 2092.1 892.9 2094.8 893.3 2097.5 893.7 2100.1 894.1 2102.8 894.4 2105.4 894.7 2108.1 895 2110.8 895.3 2113.4 895.5 2116.1 895.7 2118.8 895.9 2121.4 896.1 2124.1 896.3 2126.8 896.4 2129.4 896.6 2132.1 896.7 2134.8 896.8 2137.4 896.9 2140.1 897 2142.7 897.1 2145.4 897.2 2148.1 897.2 2150.7 897.3 2153.4 897.3 2156.1 897.4 2158.7 897.4 2161.4 897.5 2164.1 897.5 2166.7 897.6 2169.4 897.6 2172.1 897.6 2174.7 897.6 2177.4 897.7 2180 897.7 2182.7 897.7 2185.4 897.7 2188 897.7 2190.7 897.7 2193.4 897.7 2196 897.7 2198.7 897.7 2201.4 897.8 2204 897.8 2206.7 897.8 2209.3 897.8 2212 897.8 2214.7 897.8 2217.3 897.8 2220 897.8 2222.7 897.8 2225.3 897.8 2228 897.8 2230.7 897.8 2233.3 897.8 2236 897.8 2238.7 897.8 2241.3 897.8 2244 897.8 2246.6 897.8 2249.3 897.8 2252 897.8 2254.6 897.8 2257.3 897.8 2260 897.8 2262.6 897.8 2265.3 897.8 2268 897.8 2270.6 897.8 2273.3 897.8 2276 897.8 2278.6 897.8 2281.3 897.8 2283.9 897.8 2286.6 897.8 2289.3 897.8 2291.9 897.8 2294.6 897.8 2297.3 897.8 2299.9 897.8 2302.6 897.8 2305.3 897.8 2307.9 897.8 2310.6 897.8 2313.3 897.8 2315.9 897.8 2318.6 897.8 2321.2 897.8 2323.9 897.8 2326.6 897.8 2329.2 897.8 2331.9 897.8 2334.6 897.8 2337.2 897.8 2339.9 897.8 2342.6 897.8 2345.2 897.8 2347.9 897.8 2350.6 897.8 2353.2 897.8 2355.9 897.8 2358.5 897.8 2361.2 897.8 2363.9 897.8 2366.5 897.8 2369.2 897.8 2371.9 897.8 2374.5 897.8 2377.2 897.8 2379.9 897.8 2382.5 897.8 2385.2 897.8 2387.8 897.8 2390.5 897.8 2393.2 897.8 2395.8 897.8 2398.5 897.8 2401.2 897.8 2403.8 897.8" stroke="#0a0aee" stroke-width="5.4" fill="none" stroke-linejoin="round" stroke-linecap="round"/>
<path d="M1447.4 896.7 1450.1 896.7 1452.7 896.7 1455.4 896.6 1458.1 896.6 1460.7 896.6 1463.4 896.6 1466 896.5 1468.7 896.5 1471.4 896.4 1474 896.4 1476.7 896.3 1479.4 896.3 1482 896.2 1484.7 896.1 1487.4 896 1490 895.9 1492.7 895.8 1495.4 895.6 1498 895.5 1500.7 895.3 1503.3 895.1 1506 894.9 1508.7 894.7 1511.3 894.4 1514 894.2 1516.7 893.8 1519.3 893.5 1522 893.1 1524.7 892.7 1527.3 892.2 1530 891.6 1532.7 891.1 1535.3 890.4 1538 889.7 1540.6 888.9 1543.3 888.1 1546 887.2 1548.6 886.2 1551.3 885 1554 883.8 1556.6 882.5 1559.3 881.1 1562 879.5 1564.6 877.9 1567.3 876 1570 874.1 1572.6 871.9 1575.3 869.6 1577.9 867.2 1580.6 864.5 1583.3 861.6 1585.9 858.6 1588.6 855.3 1591.3 851.8 1593.9 848 1596.6 844 1599.3 839.7 1601.9 835.2 1604.6 830.4 1607.2 825.2 1609.9 819.8 1612.6 814.1 1615.2 808 1617.9 801.6 1620.6 794.8 1623.2 787.7 1625.9 780.3 1628.6 772.4 1631.2 764.2 1633.9 755.7 1636.6 746.7 1639.2 737.4 1641.9 727.7 1644.5 717.6 1647.2 707.1 1649.9 696.2 1652.5 685 1655.2 673.4 1657.9 661.4 1660.5 649.1 1663.2 636.4 1665.9 623.5 1668.5 610.1 1671.2 596.5 1673.9 582.6 1676.5 568.5 1679.2 554 1681.8 539.4 1684.5 524.6 1687.2 509.6 1689.8 494.5 1692.5 479.2 1695.2 463.9 1697.8 448.5 1700.5 433.1 1703.2 417.7 1705.8 402.3 1708.5 387.1 1711.2 372 1713.8 357 1716.5 342.2 1719.1 327.7 1721.8 313.4 1724.5 299.5 1727.1 285.9 1729.8 272.6 1732.5 259.8 1735.1 247.5 1737.8 235.6 1740.5 224.3 1743.1 213.5 1745.8 203.3 1748.5 193.7 1751.1 184.7 1753.8 176.4 1756.4 168.8 1759.1 161.9 1761.8 155.6 1764.4 150.2 1767.1 145.4 1769.8 141.5 1772.4 138.2 1775.1 135.8 1777.8 134.1 1780.4 133.2 1783.1 133 1785.7 133.6 1788.4 135 1791.1 137 1793.7 139.8 1796.4 143.3 1799.1 147.5 1801.7 152.4 1804.4 157.9 1807.1 164.1 1809.7 170.8 1812.4 178.1 1815.1 186 1817.7 194.3 1820.4 203.2 1823 212.5 1825.7 222.2 1828.4 232.3 1831 242.8 1833.7 253.6 1836.4 264.8 1839 276.1 1841.7 287.7 1844.4 299.5 1847 311.5 1849.7 323.6 1852.4 335.9 1855 348.2 1857.7 360.6 1860.3 373 1863 385.4 1865.7 397.8 1868.3 410.2 1871 422.5 1873.7 434.7 1876.3 446.8 1879 458.8 1881.7 470.7 1884.3 482.5 1887 494.1 1889.7 505.5 1892.3 516.7 1895 527.8 1897.6 538.6 1900.3 549.3 1903 559.7 1905.6 570 1908.3 580 1911 589.8 1913.6 599.4 1916.3 608.7 1919 617.8 1921.6 626.7 1924.3 635.4 1926.9 643.8 1929.6 652.1 1932.3 660.1 1934.9 667.8 1937.6 675.4 1940.3 682.7 1942.9 689.9 1945.6 696.8 1948.3 703.5 1950.9 710 1953.6 716.3 1956.3 722.4 1958.9 728.3 1961.6 734 1964.2 739.5 1966.9 744.9 1969.6 750 1972.2 755 1974.9 759.8 1977.6 764.5 1980.2 769 1982.9 773.3 1985.6 777.4 1988.2 781.4 1990.9 785.3 1993.6 789 1996.2 792.5 1998.9 795.9 2001.5 799.2 2004.2 802.3 2006.9 805.3 2009.5 808.2 2012.2 811 2014.9 813.6 2017.5 816.1 2020.2 818.5 2022.9 820.8 2025.5 823 2028.2 825.1 2030.9 827.1 2033.5 829 2036.2 830.9 2038.8 832.6 2041.5 834.3 2044.2 835.8 2046.8 837.3 2049.5 838.8 2052.2 840.1 2054.8 841.4 2057.5 842.7 2060.2 843.8 2062.8 845 2065.5 846 2068.1 847.1 2070.8 848 2073.5 849 2076.1 849.9 2078.8 850.8 2081.5 851.6 2084.1 852.4 2086.8 853.2 2089.5 853.9 2092.1 854.6 2094.8 855.4 2097.5 856 2100.1 856.7 2102.8 857.3 2105.4 858 2108.1 858.6 2110.8 859.2 2113.4 859.8 2116.1 860.4 2118.8 861 2121.4 861.5 2124.1 862.1 2126.8 862.7 2129.4 863.2 2132.1 863.8 2134.8 864.3 2137.4 864.9 2140.1 865.4 2142.7 866 2145.4 866.5 2148.1 867 2150.7 867.6 2153.4 868.1 2156.1 868.6 2158.7 869.2 2161.4 869.7 2164.1 870.2 2166.7 870.8 2169.4 871.3 2172.1 871.8 2174.7 872.3 2177.4 872.8 2180 873.4 2182.7 873.9 2185.4 874.4 2188 874.9 2190.7 875.4 2193.4 875.9 2196 876.4 2198.7 876.9 2201.4 877.4 2204 877.9 2206.7 878.4 2209.3 878.8 2212 879.3 2214.7 879.8 2217.3 880.2 2220 880.7 2222.7 881.2 2225.3 881.6 2228 882 2230.7 882.5 2233.3 882.9 2236 883.3 2238.7 883.7 2241.3 884.1 2244 884.5 2246.6 884.9 2249.3 885.3 2252 885.7 2254.6 886 2257.3 886.4 2260 886.8 2262.6 887.1 2265.3 887.4 2268 887.8 2270.6 888.1 2273.3 888.4 2276 888.7 2278.6 889 2281.3 889.3 2283.9 889.6 2286.6 889.9 2289.3 890.1 2291.9 890.4 2294.6 890.6 2297.3 890.9 2299.9 891.1 2302.6 891.4 2305.3 891.6 2307.9 891.8 2310.6 892 2313.3 892.2 2315.9 892.4 2318.6 892.6 2321.2 892.8 2323.9 893 2326.6 893.1 2329.2 893.3 2331.9 893.5 2334.6 893.6 2337.2 893.8 2339.9 893.9 2342.6 894 2345.2 894.2 2347.9 894.3 2350.6 894.4 2353.2 894.5 2355.9 894.6 2358.5 894.8 2361.2 894.9 2363.9 895 2366.5 895.1 2369.2 895.1 2371.9 895.2 2374.5 895.3 2377.2 895.4 2379.9 895.5 2382.5 895.5 2385.2 895.6 2387.8 895.7 2390.5 895.7 2393.2 895.8 2395.8 895.8 2398.5 895.9 2401.2 896 2403.8 896 2406.5 896 2409.2 896.1 2411.8 896.1 2414.5 896.2 2417.2 896.2 2419.8 896.2 2422.5 896.3 2425.1 896.3 2427.8 896.3 2430.5 896.4 2433.1 896.4 2435.8 896.4 2438.5 896.4 2441.1 896.5 2443.8 896.5 2446.5 896.5 2449.1 896.5 2451.8 896.5 2454.5 896.6 2457.1 896.6 2459.8 896.6 2462.4 896.6 2465.1 896.6 2467.8 896.6 2470.4 896.6 2473.1 896.7 2475.8 896.7 2478.4 896.7 2481.1 896.7 2483.8 896.7 2486.4 896.7 2489.1 896.7 2491.8 896.7 2494.4 896.7 2497.1 896.7 2499.7 896.7 2502.4 896.7 2505.1 896.7 2507.7 896.7 2510.4 896.7" stroke="#f50000" stroke-width="5.8" fill="none" stroke-linejoin="round" stroke-linecap="round"/>
</g>
<rect x="1447.4" y="15.6" width="1063" height="897.4" fill="none" stroke="#000" stroke-width="4.4"/>
<path d="M1580.3 913v-17M1713.2 913v-17M1846 913v-17M1978.9 913v-17M2111.8 913v-17M2244.7 913v-17M2377.5 913v-17" stroke="#000" stroke-width="4.2" stroke-linecap="round" fill="none"/>
<path d="M1513.8 913v-10.5M1646.7 913v-10.5M1779.6 913v-10.5M1912.5 913v-10.5M2045.3 913v-10.5M2178.2 913v-10.5M2311.1 913v-10.5M2444 913v-10.5" stroke="#000" stroke-width="4.2" stroke-linecap="round" fill="none"/>
<text transform="translate(1447.4,980) scale(1.099,1)" x="-45" y="0" font-size="60" textLength="90" lengthAdjust="spacing">528</text>
<text transform="translate(1713.2,980) scale(1.099,1)" x="-45" y="0" font-size="60" textLength="90" lengthAdjust="spacing">530</text>
<text transform="translate(1978.9,980) scale(1.099,1)" x="-45" y="0" font-size="60" textLength="90" lengthAdjust="spacing">532</text>
<text transform="translate(2244.7,980) scale(1.099,1)" x="-45" y="0" font-size="60" textLength="90" lengthAdjust="spacing">534</text>
<text transform="translate(2510.4,980) scale(1.099,1)" x="-45" y="0" font-size="60" textLength="90" lengthAdjust="spacing">536</text>
<text transform="translate(1978.9,1066.3) scale(1.130,1)" x="-242.7" y="0" font-size="60" textLength="485.5" lengthAdjust="spacing">Binding energy/eV</text>
<text transform="translate(1387.6,464.3) rotate(-90) scale(1.130,1)" x="-251.6" y="0" font-size="60" textLength="503.2" lengthAdjust="spacing">Intensity/arb. units</text>
<text transform="translate(1337,64.6) scale(1.130,1)" x="0" y="0" font-size="60" textLength="77.8" lengthAdjust="spacing">(b)</text>
<path d="M2249 70.5H2344.5" stroke="#00ee10" stroke-width="6" fill="none"/>
<text transform="translate(2364,90) scale(1.09,1)" font-size="60"><tspan x="0" y="0" textLength="47" lengthAdjust="spacingAndGlyphs">O</tspan><tspan x="47" y="9.5" font-size="42" textLength="26.5" lengthAdjust="spacingAndGlyphs">L</tspan></text>
<path d="M2249 141.3H2344.5" stroke="#0a0aee" stroke-width="6" fill="none"/>
<text transform="translate(2364,160.8) scale(1.09,1)" font-size="60"><tspan x="0" y="0" textLength="47" lengthAdjust="spacingAndGlyphs">O</tspan><tspan x="47" y="9.5" font-size="42" textLength="31.7" lengthAdjust="spacingAndGlyphs">V</tspan></text>
<path d="M2249 212.1H2344.5" stroke="#77700a" stroke-width="6" fill="none"/>
<text transform="translate(2364,231.6) scale(1.09,1)" font-size="60"><tspan x="0" y="0" textLength="47" lengthAdjust="spacingAndGlyphs">O</tspan><tspan x="47" y="9.5" font-size="42" textLength="43.5" lengthAdjust="spacingAndGlyphs">W</tspan></text>
<g clip-path="url(#cc)">
<path d="M2916.5 895.9 2919.7 896.2 2922.8 896.5 2925.9 896.9 2929 897.2 2932.2 897.5 2935.3 897.8 2938.4 898.2 2941.5 898.5 2944.7 898.8 2947.8 899.1 2950.9 899.5 2954 899.8 2957.2 900.1 2960.3 900.4 2963.4 900.8 2966.5 901.1 2969.7 901.5 2972.8 901.8 2975.9 902.1 2979 902.5 2982.2 902.9 2985.3 903.2 2988.5 903.6 2991.7 904.1 2994.9 904.6 2998 905.1 3001.2 905.7 3004.4 906.2 3007.6 906.7 3010.8 907.2 3014 907.7 3017.2 908.1 3020.4 908.4 3023.6 908.7 3026.7 908.9 3029.9 908.9 3033.1 908.9 3036.2 908.9 3039.3 908.9 3042.5 908.9 3045.6 908.9 3048.8 908.9 3051.9 908.9 3055 908.9 3058.2 908.9 3061.3 908.9 3064.5 908.9 3067.6 908.9 3070.7 908.9 3073.9 908.9 3076.9 908.9 3080 909 3083 909 3086.1 909.1 3089.1 909.2 3092.2 909.3 3095.2 909.5 3098.3 909.6 3101.3 909.7 3104.4 909.9 3107.4 910 3110.5 910.1 3113.5 910.2 3116.6 910.3 3119.6 910.4 3122.7 910.5 3125.7 910.5 3128.8 910.6 3131.8 910.5 3134.9 910.5 3138 910.4 3141 910.3 3144.1 910.2 3147.1 910 3150.2 909.8 3153.3 909.6 3156.3 909.4 3159.4 909.2 3162.4 908.9 3165.6 908.5 3168.7 907.9 3171.9 907.2 3175 906.3 3178.2 905.5 3181.3 904.7 3184.5 904 3187.6 903.5 3190.8 903.2 3194 903.1 3197.2 903 3200.4 903 3203.6 902.9 3206.7 902.9 3209.9 902.9 3213.1 902.8 3216.3 902.8 3219.5 902.8 3222.7 902.7 3225.9 902.7 3229.1 902.6 3232.3 902.5 3235.4 902.4 3238.6 901.9 3241.7 900.9 3244.8 899.4 3247.9 897.7 3251 895.9 3254.2 893.7 3257.3 891 3260.4 887.8 3263.5 884.2 3266.6 880.4 3269.9 875.9 3273.2 870.8 3276.5 865.1 3279.9 859 3283.2 852.7 3286.5 846.2 3289.6 839.8 3292.8 833.1 3295.9 826.2 3299.1 819 3302.2 811.5 3305.4 803.7 3308.5 795.6 3311.7 787.2 3314.8 778.5 3317.9 769.2 3321 759 3324.1 748.1 3327.2 736.9 3330.3 725.5 3333.4 714.4 3336.5 703.7 3339.6 693.7 3343 683.4 3346.3 673.2 3349.7 663.3 3353.1 653.9 3356.4 645.2 3359.8 637.5 3363.1 630.8 3366.3 624.7 3369.5 618.9 3372.8 613.5 3376 608.3 3379.3 603.3 3382.5 598.4 3385.7 593.7 3388.9 589.1 3392.1 584.7 3395.2 580.5 3398.4 576.3 3401.6 572.3 3404.8 568.2 3408 564.1 3411.2 560 3414.5 556 3417.7 552 3420.9 548 3424.1 544.1 3427.3 540.2 3430.6 536.4 3433.8 532.5 3437 528.8 3440.2 525 3443.4 521.4 3446.5 517.9 3449.6 514.3 3452.8 510.8 3455.9 507.4 3459 503.9 3462.1 500.5 3465.3 497.1 3468.4 493.7 3471.5 490.3 3474.6 486.9 3477.8 483.6 3480.9 480.2 3484 476.8 3487.1 473.5 3490.3 470.1 3493.4 466.7 3496.4 463.5 3499.4 460.2 3502.4 457 3505.5 453.8 3508.5 450.6 3511.5 447.4 3514.5 444.2 3517.5 441 3520.6 437.8 3523.6 434.6 3526.6 431.4 3529.6 428.3 3532.6 425.1 3535.6 421.9 3538.7 418.7 3541.7 415.6 3544.7 412.4 3547.7 409.2 3550.7 406 3553.7 402.8 3556.8 399.6 3559.8 396.4 3562.8 393.2 3565.8 390 3568.8 386.7 3571.9 383.4 3574.9 380.2 3577.9 376.9 3580.9 373.6 3583.9 370.2 3586.9 366.9 3589.9 363.5 3593 360.1 3596 356.7 3599 353.2 3602 349.7 3605 346.2 3608 342.7 3611 339.1 3614 335.6 3617 332 3620 328.4 3623 324.8 3626 321.2 3629 317.6 3632 314 3635 310.3 3638 306.7 3641.1 303.2 3644.1 299.6 3647.1 296 3650.1 292.5 3653.1 288.9 3656.1 285.4 3659.1 281.9 3662.1 278.5 3665.1 275.1 3668.1 271.7 3671.1 268.3 3674.1 265 3677.1 261.7 3680.1 258.5 3683.2 255.1 3686.4 251.8 3689.5 248.4 3692.6 245.1 3695.7 241.8 3698.8 238.5 3702 235.2 3705.1 232 3708.2 228.9 3711.3 225.8 3714.4 222.8 3717.5 219.8 3720.7 217 3723.8 214.2 3726.9 211.6 3730 209.1 3733.1 206.6 3736.2 204.2 3739.3 201.8 3742.4 199.5 3745.5 197.2 3748.6 195 3751.7 192.8 3754.8 190.7 3757.8 188.6 3760.9 186.6 3764 184.6 3767.1 182.6 3770.2 180.7 3773.3 178.8 3776.3 177 3779.4 175.2 3782.4 173.4 3785.4 171.6 3788.4 169.8 3791.4 168 3794.4 166.2 3797.5 164.4 3800.5 162.7 3803.5 160.9 3806.5 159.2 3809.5 157.5 3812.5 155.8 3815.6 154.1 3818.6 152.5 3821.6 150.9 3824.6 149.3 3827.6 147.7 3830.7 146.2 3833.7 144.8 3836.7 143.4 3839.7 142 3842.7 140.7 3845.7 139.4 3848.8 138.2 3851.8 137 3854.8 135.9 3857.8 134.9 3860.8 133.9 3863.8 133 3866.9 132.1 3870 131.3 3873.1 130.5 3876.1 129.8 3879.2 129.1 3882.3 128.4 3885.4 127.7 3888.5 127.1 3891.6 126.4 3894.7 125.8 3897.8 125.3 3900.9 124.7 3904 124.2 3907.1 123.6 3910.2 123.1 3913.3 122.6 3916.4 122.1 3919.5 121.6 3922.6 121.1 3925.7 120.6 3928.8 120.1 3931.8 119.7 3934.9 119.2 3938 118.7 3941.1 118.2 3944.2 117.7 3947.3 117.2 3950.4 116.7 3953.5 116.1 3956.6 115.6 3959.7 115" stroke="#0a7a0a" stroke-width="6.5" fill="none" stroke-linejoin="round" stroke-linecap="round"/>
<path d="M2896.7 878 2899.8 876.5 2902.8 875.1 2905.9 873.6 2908.9 872.2 2912 870.7 2915 869.2 2918.1 867.8 2921.1 866.3 2924.2 864.8 2927.2 863.3 2930.3 861.9 2933.4 860.4 2936.4 858.9 2939.5 857.5 2942.5 856 2945.6 854.5 2948.6 853.1 2951.7 851.6 2954.7 850.2 2957.8 848.8 2960.8 847.3 2963.9 845.9 2967 844.5 2970 843.1 2973.1 841.8 2976.1 840.4 2979.2 839 2982.2 837.7 2985.3 836.4 2988.3 835.1 2991.4 833.8 2994.4 832.5 2997.5 831.2 3000.6 829.9 3003.6 828.7 3006.7 827.4 3009.7 826.2 3012.8 824.9 3015.8 823.7 3018.9 822.5 3021.9 821.3 3025 820.1 3028 818.9 3031.1 817.7 3034.2 816.5 3037.2 815.3 3040.3 814.1 3043.3 812.9 3046.4 811.8 3049.4 810.6 3052.5 809.4 3055.5 808.3 3058.6 807.1 3061.6 805.9 3064.7 804.8 3067.8 803.6 3070.8 802.5 3073.9 801.3 3076.9 800.2 3080 799 3083 797.9 3086.1 796.8 3089.1 795.7 3092.2 794.6 3095.2 793.4 3098.3 792.3 3101.4 791.2 3104.4 790.1 3107.5 789 3110.5 788 3113.6 786.9 3116.6 785.8 3119.7 784.7 3122.7 783.6 3125.8 782.5 3128.8 781.5 3131.9 780.4 3135 779.3 3138 778.2 3141.1 777.1 3144.1 776.1 3147.2 775 3150.2 773.9 3153.3 772.8 3156.3 771.7 3159.4 770.6 3162.4 769.5 3165.5 768.4 3168.6 767.4 3171.6 766.3 3174.7 765.2 3177.7 764.1 3180.8 763 3183.8 762 3186.9 760.9 3189.9 759.8 3193 758.7 3196.1 757.7 3199.1 756.6 3202.2 755.5 3205.2 754.4 3208.3 753.4 3211.3 752.3 3214.4 751.2 3217.4 750.1 3220.5 749 3223.5 747.9 3226.6 746.8 3229.7 745.7 3232.7 744.6 3235.8 743.5 3238.8 742.3 3241.9 741.2 3244.9 740.1 3248 738.9 3251 737.8 3254.1 736.6 3257.2 735.4 3260.3 734.3 3263.4 733.2 3266.5 732.1 3269.5 730.9 3272.6 729.8 3275.7 728.6 3278.8 727.5 3281.9 726.3 3285 725 3288.1 723.8 3291.1 722.4 3294.2 721.1 3297.3 719.6 3300.4 718.1 3303.5 716.6 3306.5 714.9 3309.5 713.2 3312.5 711.3 3315.5 709.4 3318.5 707.3 3321.5 705.2 3324.6 703 3327.6 700.7 3330.6 698.4 3333.6 696.1 3336.6 693.7 3339.6 691.3 3342.7 688.8 3345.7 686.3 3348.7 683.6 3351.8 680.9 3354.8 678.2 3357.8 675.3 3360.9 672.4 3363.9 669.5 3366.9 666.6 3370 663.6 3373 660.6 3376 657.6 3379.1 654.6 3382.1 651.6 3385.1 648.6 3388.2 645.6 3391.2 642.7 3394.3 639.6 3397.4 636.6 3400.4 633.5 3403.5 630.5 3406.5 627.4 3409.6 624.3 3412.7 621.2 3415.7 618 3418.8 614.9 3421.9 611.8 3424.9 608.7 3428 605.6 3431.1 602.6 3434.1 599.5 3437.2 596.5 3440.2 593.5 3443.4 590.4 3446.5 587.4 3449.6 584.4 3452.8 581.4 3455.9 578.5 3459 575.5 3462.2 572.5 3465.3 569.6 3468.4 566.7 3471.5 563.7 3474.7 560.8 3477.8 557.8 3480.9 554.9 3484.1 552 3487.2 549 3490.3 546 3493.5 543.1 3496.6 540.1 3499.7 537.1 3502.8 534.1 3505.9 531.2 3509 528.2 3512.2 525.2 3515.3 522.2 3518.4 519.3 3521.5 516.3 3524.6 513.3 3527.7 510.3 3530.8 507.2 3533.9 504.2 3537.1 501.2 3540.2 498.1 3543.3 495 3546.4 491.9 3549.5 488.8 3552.6 485.7 3555.8 482.5 3558.9 479.4 3562 476.2 3565.1 473 3568.2 469.9 3571.4 466.7 3574.5 463.6 3577.6 460.4 3580.7 457.3 3583.8 454.2 3586.9 451.2 3590 448.1 3593.1 445.2 3596.2 442.2 3599.3 439.3 3602.4 436.4 3605.5 433.5 3608.6 430.6 3611.7 427.7 3614.8 424.9 3617.9 422 3621 419.1 3624.1 416.2 3627.2 413.3 3630.3 410.4 3633.4 407.4 3636.5 404.5 3639.6 401.4 3642.7 398.4 3645.8 395.3 3648.9 392.2 3652.1 389 3655.2 385.7 3658.3 382.4 3661.4 379 3664.5 375.7 3667.6 372.2 3670.7 368.8 3673.8 365.3 3676.9 361.8 3680 358.3 3683.1 354.8 3686.2 351.3 3689.3 347.8 3692.4 344.3 3695.5 340.8 3698.6 337.3 3701.7 333.8 3704.8 330.4 3707.9 327 3711 323.7 3714.1 320.3 3717.3 316.9 3720.5 313.5 3723.6 310.1 3726.8 306.7 3730 303.3 3733.1 300 3736.3 296.6 3739.5 293.3 3742.6 290 3745.8 286.7 3749 283.4 3752.1 280.1 3755.3 276.9 3758.5 273.7 3761.6 270.6 3764.8 267.4 3767.9 264.4 3771 261.4 3774.1 258.4 3777.1 255.4 3780.2 252.4 3783.3 249.4 3786.4 246.5 3789.5 243.6 3792.5 240.8 3795.6 238 3798.7 235.3 3801.8 232.7 3804.9 230.2 3808 227.7 3811.1 225.2 3814.2 222.7 3817.3 220.2 3820.4 217.8 3823.5 215.4 3826.6 213 3829.7 210.6 3832.8 208.3 3835.9 206 3839 203.8 3842.1 201.6 3845.2 199.5 3848.3 197.5 3851.4 195.5 3854.5 193.6 3857.6 191.7 3860.7 190 3863.8 188.3 3866.9 186.7 3870 185.2 3873.1 183.8 3876.1 182.4 3879.2 181 3882.3 179.7 3885.4 178.4 3888.5 177.2 3891.6 176 3894.7 174.8 3897.8 173.6 3900.9 172.5 3904 171.4 3907.1 170.3 3910.2 169.2 3913.3 168.2 3916.4 167.1 3919.5 166.1 3922.6 165.1 3925.7 164.1 3928.8 163.1 3931.8 162.1 3934.9 161 3938 160 3941.1 159 3944.2 157.9 3947.3 156.9 3950.4 155.8 3953.5 154.7 3956.6 153.6 3959.7 152.5" stroke="#0a0aee" stroke-width="7" fill="none" stroke-linejoin="round" stroke-linecap="round"/>
<path d="M2896.7 895.1 2899.8 894.6 2902.8 894 2905.9 893.5 2908.9 893 2912 892.4 2915 891.9 2918.1 891.3 2921.1 890.8 2924.2 890.2 2927.2 889.7 2930.3 889.1 2933.4 888.6 2936.4 888 2939.5 887.5 2942.5 886.9 2945.6 886.4 2948.6 885.9 2951.7 885.3 2954.7 884.8 2957.8 884.3 2960.8 883.8 2963.9 883.4 2967 882.9 2970 882.4 2973.1 882 2976.1 881.6 2979.2 881.2 2982.2 880.8 2985.3 880.4 2988.3 880 2991.4 879.7 2994.4 879.4 2997.5 879 3000.6 878.7 3003.6 878.4 3006.7 878.1 3009.7 877.9 3012.8 877.6 3015.8 877.3 3018.9 877 3021.9 876.8 3025 876.5 3028 876.2 3031.1 876 3034.2 875.7 3037.2 875.5 3040.3 875.2 3043.3 875 3046.4 874.7 3049.4 874.5 3052.5 874.2 3055.5 873.9 3058.6 873.7 3061.6 873.4 3064.7 873.1 3067.8 872.8 3070.8 872.5 3073.9 872.2 3076.9 871.9 3080 871.6 3083 871.3 3086.1 871 3089.1 870.7 3092.2 870.3 3095.2 870 3098.3 869.7 3101.4 869.3 3104.4 869 3107.5 868.7 3110.5 868.3 3113.6 868 3116.6 867.6 3119.7 867.3 3122.7 866.9 3125.8 866.6 3128.8 866.3 3131.9 865.9 3135 865.6 3138 865.2 3141.1 864.9 3144.1 864.5 3147.2 864.2 3150.2 863.8 3153.3 863.5 3156.3 863.1 3159.4 862.8 3162.4 862.5 3165.5 862.1 3168.6 861.8 3171.6 861.5 3174.7 861.1 3177.7 860.8 3180.8 860.5 3183.8 860.2 3186.9 859.9 3189.9 859.6 3193 859.3 3196.1 858.9 3199.1 858.6 3202.2 858.3 3205.2 858 3208.3 857.7 3211.3 857.4 3214.4 857 3217.4 856.7 3220.5 856.4 3223.5 856 3226.6 855.7 3229.7 855.3 3232.7 855 3235.8 854.6 3238.8 854.3 3241.9 853.9 3244.9 853.5 3248 853.1 3251 852.7 3254.3 852.3 3257.5 851.8 3260.7 851.4 3263.9 851 3267.1 850.6 3270.4 850.1 3273.6 849.6 3276.8 849.1 3280 848.4 3283.2 847.7 3286.5 847 3289.7 846 3292.9 844.8 3296.2 843.3 3299.4 841.6 3302.7 839.7 3305.9 837.7 3309.1 835.6 3312.2 833.4 3315.2 830.8 3318.3 828 3321.3 824.9 3324.4 821.7 3327.4 818.3 3330.5 814.7 3333.5 811.1 3336.6 807.4 3339.6 803.8 3342.7 800.1 3345.7 796.2 3348.7 792.2 3351.8 788 3354.8 783.8 3357.8 779.4 3360.9 775 3363.9 770.4 3366.9 765.9 3370 761.3 3373 756.6 3376 752 3379.1 747.4 3382.1 742.8 3385.1 738.2 3388.2 733.7 3391.2 729.1 3394.3 724.6 3397.4 720.1 3400.4 715.5 3403.5 710.9 3406.5 706.3 3409.6 701.8 3412.7 697.1 3415.7 692.5 3418.8 687.9 3421.9 683.2 3424.9 678.5 3428 673.8 3431.1 669 3434.1 664.3 3437.2 659.5 3440.2 654.6 3443.4 649.6 3446.5 644.6 3449.6 639.6 3452.7 634.5 3455.9 629.4 3459 624.2 3462.1 619.1 3465.2 613.9 3468.4 608.7 3471.5 603.4 3474.6 598.2 3477.7 592.9 3480.9 587.7 3484 582.4 3487.1 577.1 3490.2 571.8 3493.4 566.5 3496.5 561.2 3499.6 555.9 3502.7 550.6 3505.9 545.4 3509 540.1 3512.1 534.8 3515.2 529.5 3518.3 524.1 3521.5 518.6 3524.6 513.2 3527.7 507.7 3530.8 502.3 3533.9 496.8 3537.1 491.4 3540.2 486.1 3543.3 480.8 3546.4 475.6 3549.5 470.5 3552.6 465.5 3555.8 460.6 3558.9 455.9 3562 451.2 3565.1 446.6 3568.2 442 3571.3 437.5 3574.4 433.1 3577.5 428.7 3580.6 424.3 3583.7 420 3586.8 415.7 3589.9 411.4 3593 407.2 3596.1 403 3599.2 398.7 3602.3 394.5 3605.4 390.3 3608.5 386.1 3611.6 381.9 3614.7 377.7 3617.8 373.4 3620.9 369.1 3624 364.9 3627.1 360.7 3630.2 356.5 3633.4 352.3 3636.5 348.1 3639.6 343.9 3642.7 339.8 3645.8 335.6 3648.9 331.5 3652.1 327.4 3655.2 323.2 3658.3 319 3661.4 314.9 3664.5 310.7 3667.7 306.5 3670.8 302.3 3673.9 298 3677 293.8 3680.1 289.4 3683.2 285.1 3686.3 280.8 3689.4 276.4 3692.5 271.9 3695.5 267.5 3698.6 263 3701.7 258.6 3704.8 254.3 3707.9 250 3711 245.8 3714.1 241.5 3717.2 237.1 3720.3 232.7 3723.4 228.2 3726.5 223.9 3729.7 219.7 3732.8 215.7 3735.9 212 3739 208.5 3742.1 205.5 3745.3 202.7 3748.4 200.2 3751.5 197.7 3754.6 195.4 3757.7 193.3 3760.8 191.2 3764 189.2 3767.1 187.3 3770.2 185.4 3773.3 183.5 3776.3 181.7 3779.4 179.9 3782.4 178 3785.4 176.2 3788.4 174.4 3791.4 172.6 3794.4 170.8 3797.5 169 3800.5 167.2 3803.5 165.5 3806.5 163.7 3809.5 162 3812.5 160.3 3815.6 158.7 3818.6 157 3821.6 155.4 3824.6 153.8 3827.6 152.3 3830.7 150.8 3833.7 149.4 3836.7 148 3839.7 146.6 3842.7 145.3 3845.7 144.1 3848.8 142.9 3851.8 141.7 3854.8 140.7 3857.8 139.7 3860.8 138.7 3863.8 137.8 3866.9 137 3870 136.3 3873.1 135.5 3876.1 134.8 3879.2 134.1 3882.3 133.5 3885.4 132.9 3888.5 132.3 3891.6 131.7 3894.7 131.1 3897.8 130.6 3900.9 130.1 3904 129.6 3907.1 129.1 3910.2 128.6 3913.3 128.1 3916.4 127.6 3919.5 127.2 3922.6 126.7 3925.7 126.3 3928.8 125.9 3931.8 125.4 3934.9 125 3938 124.5 3941.1 124.1 3944.2 123.6 3947.3 123.1 3950.4 122.7 3953.5 122.2 3956.6 121.7 3959.7 121.1" stroke="#f50000" stroke-width="7" fill="none" stroke-linejoin="round" stroke-linecap="round"/>
<path d="M3131.6 913L3764.8 274.4" stroke="#111" stroke-width="3.4" fill="none"/>
<path d="M3266.3 913L3407.3 512" stroke="#111" stroke-width="3.4" fill="none"/>
<path d="M3273 913L3559.3 481" stroke="#111" stroke-width="3.4" fill="none"/>
</g>
<rect x="2896.7" y="15.6" width="1063" height="897.4" fill="none" stroke="#000" stroke-width="4.4"/>
<path d="M3073.9 913v-17M3251 913v-17M3428.2 913v-17M3605.4 913v-17M3782.5 913v-17" stroke="#000" stroke-width="4.2" stroke-linecap="round" fill="none"/>
<path d="M2985.3 913v-10.5M3162.4 913v-10.5M3339.6 913v-10.5M3516.8 913v-10.5M3693.9 913v-10.5M3871.1 913v-10.5" stroke="#000" stroke-width="4.2" stroke-linecap="round" fill="none"/>
<path d="M2896.7 750h17M2896.7 587h17M2896.7 423.9h17M2896.7 260.9h17M2896.7 97.9h17" stroke="#000" stroke-width="4.2" stroke-linecap="round" fill="none"/>
<path d="M2896.7 831.5h10.5M2896.7 668.5h10.5M2896.7 505.4h10.5M2896.7 342.4h10.5M2896.7 179.4h10.5" stroke="#000" stroke-width="4.2" stroke-linecap="round" fill="none"/>
<text transform="translate(2896.7,980) scale(1.123,1)" x="-37.5" y="0" font-size="60" textLength="75" lengthAdjust="spacing">1.5</text>
<text transform="translate(3073.9,980) scale(1.123,1)" x="-37.5" y="0" font-size="60" textLength="75" lengthAdjust="spacing">2.0</text>
<text transform="translate(3251,980) scale(1.123,1)" x="-37.5" y="0" font-size="60" textLength="75" lengthAdjust="spacing">2.5</text>
<text transform="translate(3428.2,980) scale(1.123,1)" x="-37.5" y="0" font-size="60" textLength="75" lengthAdjust="spacing">3.0</text>
<text transform="translate(3605.4,980) scale(1.123,1)" x="-37.5" y="0" font-size="60" textLength="75" lengthAdjust="spacing">3.5</text>
<text transform="translate(3782.5,980) scale(1.123,1)" x="-37.5" y="0" font-size="60" textLength="75" lengthAdjust="spacing">4.0</text>
<text transform="translate(3959.7,980) scale(1.123,1)" x="-37.5" y="0" font-size="60" textLength="75" lengthAdjust="spacing">4.5</text>
<text transform="translate(2872,769.5) scale(1.123,1)" x="-75" y="0" font-size="60" textLength="75" lengthAdjust="spacing">0.2</text>
<text transform="translate(2872,606.5) scale(1.123,1)" x="-75" y="0" font-size="60" textLength="75" lengthAdjust="spacing">0.4</text>
<text transform="translate(2872,443.4) scale(1.123,1)" x="-75" y="0" font-size="60" textLength="75" lengthAdjust="spacing">0.6</text>
<text transform="translate(2872,280.4) scale(1.123,1)" x="-75" y="0" font-size="60" textLength="75" lengthAdjust="spacing">0.8</text>
<text transform="translate(2872,117.4) scale(1.123,1)" x="-75" y="0" font-size="60" textLength="75" lengthAdjust="spacing">1.0</text>
<text transform="translate(2872,932.5) scale(1.099,1)" x="-30" y="0" font-size="60" textLength="30" lengthAdjust="spacing">0</text>
<text transform="translate(3428.2,1066.3) scale(1.09,1)" font-size="60"><tspan x="-83.5" y="0" font-style="italic" textLength="34.6" lengthAdjust="spacingAndGlyphs">h</tspan><tspan x="-48.8" y="0" font-style="italic" textLength="29.9" lengthAdjust="spacingAndGlyphs">ν</tspan><tspan x="-19" y="0" textLength="102.4" lengthAdjust="spacing">/eV</tspan></text>
<text transform="translate(2727.5,460.3) rotate(-90) scale(1.09,1)" font-size="60"><tspan x="-145.8" y="0" textLength="16.8" lengthAdjust="spacingAndGlyphs">[</tspan><tspan x="-129" y="0" font-style="italic" textLength="39.5" lengthAdjust="spacingAndGlyphs">F</tspan><tspan x="-89.5" y="0" textLength="23.5" lengthAdjust="spacingAndGlyphs">(</tspan><tspan x="-66" y="0" font-style="italic" textLength="44.5" lengthAdjust="spacingAndGlyphs">R</tspan><tspan x="-21.5" y="0" textLength="23.5" lengthAdjust="spacingAndGlyphs">)</tspan><tspan x="2" y="0" font-style="italic" textLength="33.6" lengthAdjust="spacingAndGlyphs">h</tspan><tspan x="35.6" y="0" font-style="italic" textLength="29.9" lengthAdjust="spacingAndGlyphs">ν</tspan><tspan x="65.5" y="0" textLength="16.8" lengthAdjust="spacingAndGlyphs">]</tspan><tspan x="82.3" y="-22" font-size="42" textLength="63.5" lengthAdjust="spacing">1/2</tspan></text>
<text transform="translate(2679,64.6) scale(1.130,1)" x="0" y="0" font-size="60" textLength="71.3" lengthAdjust="spacing">(c)</text>
<path d="M2944 70.9H3038.5" stroke="#3a9a3a" stroke-width="6.5" fill="none"/>
<text transform="translate(3062,90.4) scale(1.09,1)" font-size="60"><tspan x="0" y="0" textLength="254.5" lengthAdjust="spacing">Bulk WO</tspan><tspan x="254.5" y="9.5" font-size="42" textLength="21.2" lengthAdjust="spacingAndGlyphs">3</tspan></text>
<path d="M2944 141.7H3038.5" stroke="#f50000" stroke-width="6.5" fill="none"/>
<text transform="translate(3062,161.2) scale(1.09,1)" font-size="60"><tspan x="0" y="0" textLength="268.8" lengthAdjust="spacing">Nano WO</tspan><tspan x="268.8" y="9.5" font-size="42" textLength="21.2" lengthAdjust="spacingAndGlyphs">3</tspan></text>
<path d="M2944 212.5H3038.5" stroke="#0a0aee" stroke-width="6.5" fill="none"/>
<text transform="translate(3062,232) scale(1.09,1)" font-size="60"><tspan x="0" y="0" textLength="109.2" lengthAdjust="spacingAndGlyphs">WO</tspan><tspan x="109.2" y="9.5" font-size="42" textLength="54.1" lengthAdjust="spacingAndGlyphs">3−</tspan><tspan x="163.3" y="9.5" font-size="42" font-style="italic" textLength="22.3" lengthAdjust="spacingAndGlyphs">x</tspan></text>
<g clip-path="url(#cd)">
<path d="M124.6 1615.6 127.6 1615.8 130.6 1615.7 133.6 1615.8 136.6 1616.3 139.7 1616.6 142.7 1617 145.7 1616.9 148.7 1616.8 151.7 1616.4 154.7 1616.6 157.7 1616.3 160.7 1616.3 163.7 1616.6 166.8 1616.6 169.8 1616.8 172.8 1617.4 175.8 1617.3 178.8 1617.2 181.8 1617.3 184.8 1616.8 187.8 1616.7 190.8 1616.8 193.8 1617.2 196.9 1617.3 199.9 1617.5 202.9 1617.7 205.9 1617.7 208.9 1617.7 211.9 1617.6 214.9 1618 217.9 1617.3 220.9 1617.3 224 1617.6 227 1617.6 230 1617.7 233 1617.3 236 1617.3 239 1616.8 242 1616.9 245 1617.5 248 1617.5 251.1 1617.7 254.1 1617.7 257.1 1617.9 260.1 1618.1 263.1 1618.1 266.1 1618.1 269.1 1618.1 272.1 1617.9 275.1 1617.7 278.1 1617.7 281.2 1617.8 284.2 1617.7 287.2 1617.9 290.2 1618.1 293.2 1617.9 296.2 1617.9 299.2 1617.6 302.2 1618 305.2 1618.1 308.3 1617.9 311.3 1618.5 314.3 1618.3 317.3 1618.3 320.3 1618.7 323.3 1619 326.3 1619.1 329.3 1619.4 332.3 1619.7 335.4 1619 338.4 1618.9 341.4 1618.7 344.4 1618 347.4 1618.2 350.4 1618.6 353.4 1618.7 356.4 1619.2 359.4 1618.9 362.4 1619.2 365.5 1619.1 368.5 1619.2 371.5 1619.7 374.5 1618.9 377.5 1618.6 380.5 1618.2 383.5 1618.6 386.5 1618.8 389.5 1619.1 392.6 1619.3 395.6 1619.1 398.6 1619.4 401.6 1619.6 404.6 1619.4 407.6 1618.7 410.7 1618.7 413.7 1618.8 416.8 1619.3 419.8 1620 422.9 1619.9 425.9 1620 429 1619.5 432 1619.4 435.1 1619.4 438.1 1619.5 441.2 1620.3 444.2 1620.8 447.3 1621.3 450.3 1621.4 453.3 1621.1 456.4 1621 459.4 1620.8 462.5 1620.4 465.5 1620.2 468.6 1620.1 471.6 1620.5 474.7 1621.2 477.7 1621.8 480.8 1622.5 483.8 1622.4 486.9 1622.6 489.9 1622.9 493 1622.8 496 1623.2 499 1623.1 502.1 1622.6 505.1 1622.9 508.2 1622.8 511.2 1623.1 514.3 1623.6 517.3 1624 520.4 1624 523.4 1624.8 526.5 1625.5 529.5 1625.7 532.5 1626.3 535.6 1626.2 538.6 1626.5 541.7 1627 544.7 1627.6 547.8 1627.5 550.8 1627.5 553.9 1627.9 556.9 1628.2 559.9 1628.6 563 1629.1 566 1629.2 569.1 1629.5 572.1 1630 575.2 1630.3 578.2 1630.8 581.3 1631.2 584.4 1631.3 587.4 1631.6 590.5 1631.9 593.5 1632 596.6 1632.2 599.6 1632.5 602.7 1632.4 605.7 1632.5 608.7 1632.6 611.8 1632.1 614.8 1631.8 617.8 1631.2 620.9 1630.4 623.9 1629.7 626.9 1628.9 629.9 1628.1 633 1627.2 636 1626.3 639.3 1625.1 642.7 1623.6 646 1621.8 649.3 1620 652.7 1618 656 1616 659.3 1614.1 662.6 1611.9 665.9 1609.9 669.1 1608 672.4 1606.3 675.7 1605.1 678.7 1604.2 681.8 1603.4 684.8 1602.7 687.9 1602.2 690.9 1601.8 694 1601.5 697 1601.4 700.1 1601.4 703.1 1601.5 706.2 1601.8 709.2 1602.1 712.3 1602.6 715.3 1603.2 718.4 1603.7 721.4 1604.3 724.5 1604.9 727.5 1605.5 730.6 1606.2 733.6 1606.7 736.7 1607.1 739.7 1607.5 742.8 1608 745.8 1608.4 748.9 1608.8 751.9 1609.2 755 1609.5 758 1609.9 761.1 1610.2 764.1 1610.6 767.2 1610.9 770.2 1611.2 773.2 1611.6 776.3 1612 779.3 1612.4 782.4 1612.8 785.4 1613 788.5 1613.3 791.5 1613.5 794.6 1613.9 797.6 1614.1 800.7 1614.6 803.7 1614.5 806.7 1614.3 809.8 1614.4 812.8 1614.5 815.9 1614.2 818.9 1614.2 822 1614.6 825 1614.6 828.1 1615.3 831.1 1615.4 834.2 1615.4 837.2 1615.8 840.2 1615.6 843.3 1615.8 846.3 1616.5 849.4 1616.4 852.4 1616.5 855.5 1616.6 858.5 1616.2 861.6 1616.4 864.6 1616.8 867.6 1617.1 870.6 1617.1 873.7 1617 876.7 1616.6 879.7 1616.1 882.7 1616.1 885.7 1616.4 888.7 1616.7 891.8 1617.2 894.8 1617.6 897.8 1617.4 900.8 1617.9 903.8 1617.6 906.9 1617.4 909.9 1617.3 912.9 1617.2 915.9 1617.3 918.9 1617.3 922 1617.5 925 1617.5 928 1617.5 931 1617.7 934 1617.8 937 1617.8 940.1 1618.1 943.1 1618 946.1 1617.8 949.1 1617.7 952.1 1617.2 955.2 1617.6 958.2 1617.6 961.2 1617.5 964.2 1618.3 967.2 1618.1 970.3 1618 973.3 1618.1 976.3 1617.7 979.3 1617.9 982.3 1618 985.3 1617.9 988.4 1617.7 991.4 1617.3 994.4 1617.2 997.4 1617.3 1000.4 1617.4 1003.5 1617.6 1006.5 1617.7 1009.5 1617.5 1012.5 1617.6 1015.5 1617.5 1018.6 1617.9 1021.6 1617.9 1024.6 1618 1027.6 1618.1 1030.6 1617.6 1033.6 1618 1036.7 1618 1039.7 1617.6 1042.7 1618 1045.7 1618 1048.7 1617.9 1051.8 1618.6 1054.8 1618.6 1057.8 1618.1 1060.8 1618.4 1063.8 1618 1066.9 1617.7 1069.9 1617.6 1072.9 1617.5 1075.9 1617.4 1078.9 1617.9 1081.9 1618.4 1085 1618.2 1088 1618.3 1091 1618.5 1094 1618.8 1097 1619.1 1100.1 1619.1 1103.1 1618.6 1106.1 1618.2 1109.1 1618.4 1112.1 1618.6 1115.2 1618.7 1118.2 1618.6 1121.2 1618.3 1124.2 1618 1127.2 1618.1 1130.2 1618.5 1133.3 1618.7 1136.3 1618.9 1139.3 1618.9 1142.3 1618.8 1145.3 1618.9 1148.4 1619 1151.4 1618.8 1154.4 1619.1 1157.4 1618.8 1160.4 1619.4 1163.5 1619.6 1166.5 1619.3 1169.5 1619.2 1172.5 1618.6 1175.5 1618.6 1178.5 1618.3 1181.6 1618 1184.6 1617.9 1187.6 1618" stroke="#f07272" stroke-width="5.5" fill="none" stroke-linejoin="round" stroke-linecap="round"/>
<path d="M124.6 1607.5 127.6 1607.8 130.7 1608.2 133.7 1608.6 136.8 1607.9 139.8 1607.6 142.8 1607.9 145.9 1607.9 148.9 1608.4 152 1609 155 1608.7 158 1608.8 161.1 1609.7 164.1 1609.7 167.2 1610.8 170.2 1611.5 173.2 1611.7 176.3 1612.6 179.3 1611.3 182.4 1611.3 185.4 1610.7 188.4 1610.3 191.5 1611.3 194.5 1612.1 197.6 1612.8 200.6 1613.9 203.7 1613.9 206.7 1613.6 209.7 1613.9 212.8 1613.8 215.8 1614.2 218.9 1614.2 221.9 1614.3 224.9 1613.5 228 1614.3 231 1615.1 234.1 1615.6 237.1 1616.5 240.1 1615.9 243.2 1615.7 246.2 1616 249.3 1615.8 252.3 1615.9 255.3 1616.9 258.4 1617.4 261.4 1618.1 264.5 1618.8 267.5 1618.4 270.6 1618.5 273.6 1618.4 276.6 1618.3 279.7 1618.6 282.7 1618.8 285.8 1619 288.8 1619.2 291.9 1619 294.9 1618.3 297.9 1618.3 301 1618.4 304 1619.1 307.1 1619.2 310.1 1619.4 313.1 1619.3 316.2 1619.3 319.2 1620 322.3 1619.9 325.3 1620.4 328.4 1620 331.4 1620.2 334.4 1620.5 337.5 1620.1 340.5 1620.4 343.6 1620.3 346.6 1620.5 349.7 1621.2 352.7 1621.8 355.7 1622.1 358.8 1622.9 361.8 1623.4 364.9 1623.3 367.9 1623.6 371 1623.7 374 1622.9 377.1 1623.7 380.1 1623.7 383.2 1623.9 386.2 1625.1 389.3 1625.5 392.3 1626.5 395.4 1627.6 398.4 1628.1 401.5 1629 404.5 1629.7 407.6 1630.1 410.6 1631.1 413.7 1631.9 416.7 1632.6 419.8 1633.8 422.9 1634.6 425.9 1635.6 428.9 1637.3 432 1638.1 435.1 1638.5 438.1 1639.7 441.2 1639.6 444.2 1639.8 447.2 1640.4 450.3 1640.6 453.3 1642 456.4 1643.6 459.4 1645 462.5 1645.9 465.5 1645.9 468.6 1645.8 471.6 1646.5 474.6 1646.6 477.7 1647.3 480.7 1648.4 483.8 1648.3 486.8 1649.8 489.9 1650.9 492.9 1652.9 495.9 1655.6 499 1657.5 502.1 1660.1 505.1 1661.7 508.1 1664.3 511.2 1666.3 514.2 1667.4 517.3 1668.4 520.4 1669.1 523.4 1669.6 526.5 1671.1 529.5 1672.9 532.6 1674.9 535.6 1676.7 538.7 1678 541.7 1679.7 544.7 1679.9 547.8 1681.7 550.8 1684.3 553.8 1687.3 556.9 1691.9 559.9 1695.8 562.9 1699.7 565.9 1703 569 1706.3 572 1709.3 575.1 1712.3 578.1 1715.6 581.2 1718.7 584.2 1721.8 587.3 1724.6 590.3 1727.2 593.4 1729.1 596.5 1730.8 599.5 1732.7 602.6 1734 605.6 1735 608.7 1735.5 611.8 1734.8 614.8 1733.9 617.9 1732.5 620.9 1730.7 623.9 1727.1 627 1720.5 630 1712.3 633 1703.4 636 1693.6 639.1 1681.9 642.2 1669.6 645.2 1657.6 648.8 1643.5 652.4 1629.5 656 1615.8 659.8 1602.7 663.6 1590 666.6 1579.3 669.7 1568.7 672.7 1558.1 675.7 1547.8 678.8 1538.1 681.8 1529.1 685.2 1519.1 688.6 1509.9 692 1503.4 695.5 1498.6 699.1 1494.7 702.6 1493.1 706.4 1493.8 710.2 1495.6 714 1498.1 717.3 1500.6 720.6 1504.3 724 1508.5 727.3 1512.8 730.6 1516.9 733.6 1520.3 736.7 1523.8 739.7 1527.4 742.8 1530.9 745.8 1534.5 748.9 1537.8 751.9 1541.1 755 1544.3 758 1547 761 1550 764.1 1552.7 767.1 1555.4 770.2 1558 773.2 1560.2 776.3 1562.8 779.4 1564.9 782.4 1567.1 785.5 1569.3 788.5 1571.1 791.5 1573.1 794.6 1575.3 797.6 1577.1 800.7 1579.5 803.7 1581.5 806.7 1582.5 809.8 1584.2 812.8 1586.2 815.9 1587.4 818.9 1588.9 821.9 1590.4 825 1590.6 828 1591.9 831.1 1593 834.1 1594.3 837.1 1596.1 840.2 1597.6 843.2 1597.8 846.3 1598.3 849.3 1598.7 852.4 1598.6 855.4 1600.3 858.5 1601.3 861.5 1602.3 864.6 1602.8 867.6 1602.9 870.7 1603.6 873.7 1604.1 876.8 1605.1 879.8 1606.1 882.8 1606.6 885.9 1607 888.9 1608.5 892 1608.8 895 1609.7 898.1 1610.9 901.1 1611.2 904.2 1611.7 907.2 1611.5 910.3 1612 913.3 1612.2 916.4 1611.9 919.4 1611.7 922.5 1611.8 925.5 1612 928.5 1613.2 931.6 1614.9 934.6 1615.2 937.7 1616.8 940.7 1617.8 943.8 1618.6 946.8 1619.5 949.9 1618.1 952.9 1618.3 956 1617.9 959 1618.4 962 1619.6 965.1 1620.1 968.1 1620.4 971.2 1620.4 974.2 1620.7 977.3 1620.5 980.3 1620.9 983.4 1621.5 986.4 1622.4 989.4 1622.8 992.5 1623.5 995.5 1622.9 998.6 1622.1 1001.6 1622.5 1004.7 1622.5 1007.7 1622.6 1010.8 1623.2 1013.8 1623.2 1016.9 1623.6 1019.9 1624.5 1023 1624.6 1026 1624.4 1029.1 1624.1 1032.1 1623.5 1035.1 1623 1038.2 1622.5 1041.2 1622 1044.3 1621.9 1047.3 1622.3 1050.4 1623.1 1053.4 1623.2 1056.5 1623.7 1059.5 1624 1062.6 1624.4 1065.6 1625 1068.7 1625.2 1071.7 1625 1074.8 1625.1 1077.8 1624.6 1080.8 1624.7 1083.9 1624 1087 1624.4 1090 1625.5 1093 1624.6 1096.1 1625.4 1099.1 1624.3 1102.2 1623.3 1105.2 1624.1 1108.3 1624 1111.3 1625.1 1114.4 1625.7 1117.5 1625.5 1120.5 1625.9 1123.5 1625.7 1126.6 1626.3 1129.6 1627 1132.7 1626.6 1135.8 1626.2 1138.8 1625.9 1141.8 1625.4 1144.9 1626.4 1147.9 1626.6 1151 1626.8 1154 1627 1157.1 1626.8 1160.1 1626.5 1163.2 1627.4 1166.2 1627.4 1169.3 1627.2 1172.3 1627.2 1175.4 1626.4 1178.4 1626.2 1181.5 1626.7 1184.5 1627.9 1187.6 1628.3" stroke="#1c8c1c" stroke-width="5.5" fill="none" stroke-linejoin="round" stroke-linecap="round"/>
<path d="M124.6 1610.2 127.6 1611.4 130.6 1611 133.6 1611.8 136.6 1613.3 139.6 1612.5 142.6 1612.5 145.6 1612.9 148.6 1612.4 151.6 1613.2 154.6 1613.9 157.6 1614.1 160.6 1615.3 163.6 1614.3 166.6 1613.9 169.6 1614.8 172.6 1615.3 175.6 1616.5 178.6 1617.2 181.6 1617.7 184.6 1617.5 187.6 1618.2 190.6 1617.8 193.6 1617.2 196.6 1616.5 199.6 1615.5 202.6 1617.1 205.6 1617.9 208.6 1618.4 211.6 1619.2 214.6 1619.9 217.6 1620 220.6 1620.5 223.6 1621.1 226.6 1620.6 229.6 1619.7 232.6 1619.7 235.7 1619.8 238.7 1620.4 241.7 1620.6 244.7 1620.7 247.7 1620.4 250.7 1619.4 253.7 1621 256.7 1622 259.7 1623.4 262.7 1623.3 265.7 1622.4 268.7 1623.5 271.7 1622.1 274.7 1622.6 277.7 1623.5 280.7 1623.6 283.7 1625.1 286.7 1625.9 289.7 1626.4 292.7 1626 295.7 1626.1 298.7 1627.2 301.7 1627.7 304.7 1628.4 307.7 1629.4 310.7 1630.1 313.7 1629.9 316.7 1628.5 319.7 1628.3 322.7 1627.2 325.7 1629 328.7 1629.7 331.7 1628.7 334.7 1628.9 337.7 1628.1 340.7 1629.4 343.7 1631.3 346.7 1633 349.8 1632.8 352.8 1633.6 355.9 1633.4 358.9 1633 362 1634.6 365 1635.1 368.1 1635.7 371.1 1637.1 374.2 1637.8 377.2 1638.7 380.3 1639.3 383.3 1640.7 386.4 1639.2 389.4 1639.2 392.4 1640.6 395.5 1640.3 398.5 1642.3 401.6 1641.6 404.6 1641.7 407.6 1642.5 410.7 1642.3 413.7 1643.8 416.8 1644.3 419.8 1643.4 422.9 1644.5 425.9 1645.9 428.9 1646.6 432 1649.6 435.1 1651.9 438.1 1652.6 441.2 1655.2 444.2 1657.4 447.2 1659.2 450.3 1660.7 453.3 1662.6 456.4 1663.2 459.4 1663.7 462.5 1666 465.5 1666.6 468.6 1667.4 471.6 1668.8 474.7 1669.2 477.7 1670.6 480.8 1671.5 483.8 1671.2 486.8 1673.5 489.9 1675.4 492.9 1678.3 496 1682.3 499 1684.4 502.1 1687.3 505.1 1689.8 508.2 1693.6 511.2 1697 514.2 1699.7 517.3 1703.8 520.3 1706.7 523.4 1710.3 526.4 1715 529.5 1720.3 532.5 1723.8 535.6 1728 538.6 1732.2 541.6 1735.1 544.7 1741.1 547.8 1745.2 550.8 1749.2 553.9 1753.7 556.9 1756.7 560 1762.2 563 1766.8 566 1771.2 569.1 1775.9 572.1 1780 575.2 1784.4 578.2 1788.5 581.3 1792.7 584.4 1796.9 587.4 1800.6 590.4 1804.9 593.5 1809.1 596.5 1812.9 599.6 1816.2 602.6 1818.7 606.8 1820.7 611 1821.7 614.3 1820.5 617.6 1815.8 620.9 1809.5 623.9 1801.6 627 1788.9 630 1773.6 633 1758.2 636 1741 639.1 1721.4 642.2 1701.2 645.2 1681.7 648.8 1660.8 652.4 1640.5 656 1616.1 659.5 1580.6 663.1 1538.6 666.6 1505.2 669.6 1486.2 672.7 1470.7 675.8 1457.1 678.8 1443.7 682.5 1425.8 686.3 1409 690 1397.7 693.3 1391.8 696.6 1387.6 699.9 1384.4 703.2 1383.2 706.5 1384.6 709.7 1387.9 713 1392.2 716.8 1399.7 720.7 1409.4 724.5 1419.5 727.5 1427.3 730.6 1435.1 733.6 1443.5 736.7 1451.1 739.8 1458.6 742.8 1465.3 745.8 1471.4 748.9 1477.6 751.9 1483.6 755 1489.6 758 1495.1 761 1500.6 764.1 1505.9 767.1 1510.8 770.2 1515.7 773.2 1520.2 776.2 1524 779.3 1527.4 782.4 1530.8 785.4 1534 788.5 1537.4 791.5 1540.5 794.6 1543.4 797.6 1546 800.7 1547.1 803.7 1548.5 806.7 1551.6 809.8 1553.1 812.8 1555.9 815.9 1558 818.9 1558.5 821.9 1559.8 825 1560.6 828 1563 831 1564.8 834.1 1566.8 837.1 1570 840.2 1573.4 843.2 1576.9 846.3 1579 849.3 1583 852.4 1583.7 855.4 1585.6 858.5 1588.9 861.5 1588.8 864.6 1590.6 867.6 1591 870.7 1592 873.7 1592 876.8 1592.6 879.8 1594.5 882.8 1594.2 885.9 1593.9 889 1593.8 892 1593.9 895 1594.7 898.1 1595.1 901.2 1595.7 904.2 1595.9 907.2 1596.7 910.3 1598.9 913.3 1600.5 916.4 1601.7 919.4 1603 922.5 1604.6 925.5 1605.5 928.5 1606.2 931.6 1607.7 934.6 1607.8 937.7 1608.1 940.7 1609.2 943.8 1607.9 946.8 1607.8 949.9 1609.3 952.9 1609.3 956 1611 959 1612.5 962.1 1611.9 965.1 1612.6 968.2 1612.4 971.2 1612.4 974.2 1613.5 977.3 1613.6 980.3 1613.5 983.4 1614 986.4 1614.3 989.5 1615.1 992.5 1615.6 995.6 1616 998.6 1616.3 1001.7 1616.1 1004.7 1617 1007.8 1617.1 1010.8 1616.8 1013.9 1617.2 1016.9 1617.4 1020 1618.2 1023 1619.3 1026.1 1620.8 1029.1 1621.7 1032.2 1621.9 1035.2 1622.4 1038.3 1621 1041.3 1621.1 1044.4 1621.9 1047.4 1621.4 1050.4 1623.2 1053.5 1623.6 1056.5 1623.2 1059.6 1623.7 1062.6 1623.1 1065.7 1622.5 1068.7 1622.5 1071.8 1622.9 1074.8 1623.1 1077.9 1623 1080.9 1623.7 1084 1623.4 1087 1623.8 1090.1 1625 1093.1 1624.5 1096.2 1626.4 1099.2 1626.4 1102.3 1626.4 1105.3 1626.5 1108.4 1625.4 1111.4 1624.7 1114.5 1624.9 1117.5 1625 1120.5 1624.6 1123.6 1625.9 1126.6 1626.2 1129.7 1626.2 1132.7 1626 1135.8 1624.5 1138.8 1623.5 1141.9 1624.2 1144.9 1625.2 1148 1625.8 1151 1626.5 1154.1 1627 1157.1 1626.3 1160.2 1626.8 1163.2 1626.3 1166.3 1626.1 1169.3 1625.5 1172.4 1625.9 1175.4 1626.8 1178.5 1626.7 1181.5 1628.5 1184.6 1629 1187.6 1628.6" stroke="#22a2f2" stroke-width="5.5" fill="none" stroke-linejoin="round" stroke-linecap="round"/>
<path d="M124.6 1617.2 127.6 1617.1 130.7 1619.2 133.7 1619.3 136.8 1617.2 139.8 1620.1 142.8 1616.8 145.9 1614.9 148.9 1615.5 152 1615.1 155 1615.9 158.1 1617.3 161.1 1618.2 164.1 1616.5 167.2 1616.6 170.2 1616.2 173.3 1616.4 176.3 1618.7 179.3 1620.7 182.4 1620.4 185.4 1622.1 188.5 1620.6 191.5 1619.7 194.5 1621.6 197.6 1620.6 200.6 1622.1 203.7 1620.2 206.7 1619.2 209.8 1620.6 212.8 1621.5 215.8 1625.6 218.9 1625 221.9 1623.4 225 1622.9 228 1620.3 231 1621.2 234.1 1621.6 237.1 1621.6 240.2 1623.5 243.2 1624.3 246.3 1624.2 249.3 1625 252.3 1620.4 255.4 1619.8 258.4 1620.3 261.5 1620.6 264.5 1621.4 267.6 1622.6 270.6 1622.4 273.7 1623.6 276.7 1627.9 279.7 1628 282.8 1630.3 285.8 1628 288.9 1627.6 291.9 1628.9 295 1630.1 298 1631.4 301 1628.8 304.1 1630 307.1 1627.7 310.2 1628 313.2 1630.8 316.3 1632.3 319.3 1634.2 322.4 1636.8 325.4 1637.8 328.5 1634.5 331.5 1635.6 334.6 1635.3 337.6 1634.9 340.7 1635.1 343.7 1638.6 346.7 1641 349.8 1642.6 352.8 1645.5 355.9 1643.4 358.9 1641.7 362 1639.6 365 1637.6 368.1 1637.8 371.1 1639.1 374.2 1642.7 377.2 1645.9 380.3 1645.2 383.3 1645.2 386.3 1646.4 389.4 1646.6 392.4 1648.9 395.5 1650 398.5 1647.9 401.6 1649.6 404.6 1648 407.6 1646.2 410.7 1650.2 413.7 1647.7 416.8 1649.5 419.8 1652.9 422.9 1652.5 425.9 1655.3 428.9 1655.7 432 1656.6 435.1 1658.3 438.1 1660.3 441.1 1662.1 444.2 1661.5 447.2 1663.1 450.3 1665.9 453.3 1671.2 456.4 1675.7 459.4 1679.8 462.4 1681.1 465.5 1680.6 468.6 1684.9 471.6 1686 474.6 1689.2 477.7 1693.9 480.8 1694 483.8 1696.8 486.8 1698.8 489.9 1701.7 492.9 1705 496 1707.9 499 1712.1 502.1 1715.1 505.1 1716.5 508.2 1719.8 511.2 1722.8 514.2 1724.4 517.3 1730.2 520.3 1734.9 523.4 1740.4 526.4 1749.2 529.5 1754.1 532.5 1758.9 535.6 1766.2 538.6 1768.5 541.6 1773.7 544.7 1779.4 547.8 1782.9 550.8 1790.7 553.9 1799.1 556.9 1806.1 560 1812.6 563 1821.4 566 1828.2 569.1 1835.5 572.1 1843.4 575.2 1850.8 578.2 1858.2 581.3 1865.3 584.4 1871.9 587.4 1878.3 590.4 1885.3 593.5 1892.5 596.5 1899.3 599.5 1906 602.6 1911.4 605.6 1916.5 609 1922.7 612.3 1928.4 615.7 1930.9 619.8 1926 623.9 1916 626.9 1903.9 630 1885.5 633 1864.4 636.1 1838.3 639.1 1806.9 642.2 1772.7 645.2 1734.5 648.3 1695.8 652.1 1654.9 656 1614.4 659.5 1568.9 663.1 1518.8 666.6 1474.2 669.6 1440.4 672.7 1408.1 675.8 1379 678.8 1352.6 681.9 1327.5 684.9 1305.1 688 1291.8 691.4 1284.8 694.8 1279.3 698.2 1275.8 701.6 1274.4 705 1275.4 708.3 1279.6 711.7 1284.5 715 1291.1 718.4 1298.6 721.5 1305.2 724.5 1314.6 727.5 1324.9 730.6 1335.3 733.7 1347.2 736.7 1358 739.7 1369 742.8 1379.9 745.8 1391.2 748.9 1402.2 751.9 1412.2 755 1422.2 758 1429.9 761 1438 764.1 1444.9 767.1 1451.5 770.2 1457.5 773.2 1462.3 776.3 1467.8 779.3 1473.4 782.3 1478.5 785.4 1483.3 788.5 1488.4 791.5 1492.3 794.5 1497.3 797.6 1501.6 800.7 1503.6 803.7 1509.2 806.7 1514.8 809.8 1521.8 812.8 1528.3 815.9 1534.6 818.9 1539 822 1541.9 825 1546.5 828 1547.2 831.1 1548.1 834.1 1550.8 837.2 1552.7 840.2 1554.2 843.3 1555.5 846.3 1553.1 849.3 1552.7 852.4 1554.9 855.5 1555.6 858.5 1561 861.5 1563.6 864.6 1564.8 867.6 1567.7 870.7 1570.7 873.8 1573.5 876.8 1575.3 879.9 1575.5 882.9 1576 886 1575.5 889 1578.2 892 1579.8 895.1 1579.4 898.1 1581.3 901.2 1579.2 904.2 1581.4 907.3 1583.5 910.3 1583.9 913.3 1586.3 916.4 1590.5 919.5 1594.4 922.5 1598.6 925.5 1601.6 928.6 1601.9 931.6 1599.3 934.7 1596.8 937.7 1594.5 940.8 1589.7 943.8 1588.5 946.8 1591.4 949.9 1592.5 952.9 1593.7 956 1595.8 959 1594.2 962 1595.8 965.1 1600.3 968.1 1602.5 971.2 1603.8 974.2 1605.3 977.2 1605.1 980.3 1605.3 983.4 1607.2 986.4 1606.5 989.5 1606.8 992.5 1607.8 995.6 1609.1 998.6 1611.3 1001.7 1611.8 1004.7 1612 1007.7 1611.9 1010.8 1611.6 1013.8 1612.2 1016.8 1614.1 1019.9 1613.7 1022.9 1614.9 1025.9 1616 1028.9 1616.5 1032 1617.4 1035 1616.3 1038.1 1616.6 1041.1 1615.6 1044.2 1614.7 1047.2 1617.4 1050.3 1618.3 1053.3 1618.1 1056.4 1621.3 1059.5 1616.8 1062.5 1616.2 1065.6 1618 1068.6 1616.7 1071.7 1619 1074.7 1619.3 1077.8 1619.1 1080.8 1617.3 1083.9 1616.7 1086.9 1616.9 1090 1617.1 1093 1617 1096.1 1616 1099.1 1615.2 1102.2 1613.1 1105.2 1613.5 1108.2 1614.6 1111.3 1614.3 1114.3 1612.7 1117.4 1614.4 1120.4 1614.5 1123.5 1615.3 1126.5 1616.3 1129.6 1614.2 1132.6 1615.2 1135.7 1615.3 1138.7 1616.6 1141.8 1617.3 1144.8 1618.6 1147.9 1618.9 1150.9 1619.7 1154 1620.3 1157 1620.6 1160.1 1620.7 1163.2 1620.5 1166.2 1623.2 1169.3 1623.6 1172.3 1623.7 1175.4 1625.3 1178.4 1625.1 1181.5 1623.7 1184.5 1622.5 1187.6 1623.9" stroke="#c583f5" stroke-width="5.0" fill="none" stroke-linejoin="round" stroke-linecap="round"/>
</g>
<rect x="124.6" y="1151.8" width="1063" height="897.4" fill="none" stroke="#000" stroke-width="4.4"/>
<path d="M337.2 2049.2v-17M549.8 2049.2v-17M762.4 2049.2v-17M975 2049.2v-17" stroke="#000" stroke-width="4.2" stroke-linecap="round" fill="none"/>
<path d="M230.9 2049.2v-10.5M443.5 2049.2v-10.5M656.1 2049.2v-10.5M868.7 2049.2v-10.5M1081.3 2049.2v-10.5" stroke="#000" stroke-width="4.2" stroke-linecap="round" fill="none"/>
<text transform="translate(124.6,2116.2) scale(1.099,1)" x="-60" y="0" font-size="60" textLength="120" lengthAdjust="spacing">3600</text>
<text transform="translate(337.2,2116.2) scale(1.099,1)" x="-60" y="0" font-size="60" textLength="120" lengthAdjust="spacing">3520</text>
<text transform="translate(549.8,2116.2) scale(1.099,1)" x="-60" y="0" font-size="60" textLength="120" lengthAdjust="spacing">3440</text>
<text transform="translate(762.4,2116.2) scale(1.099,1)" x="-60" y="0" font-size="60" textLength="120" lengthAdjust="spacing">3360</text>
<text transform="translate(975,2116.2) scale(1.099,1)" x="-60" y="0" font-size="60" textLength="120" lengthAdjust="spacing">3280</text>
<text transform="translate(1187.6,2116.2) scale(1.099,1)" x="-60" y="0" font-size="60" textLength="120" lengthAdjust="spacing">3200</text>
<text transform="translate(656.1,2202.5) scale(1.130,1)" x="-272.8" y="0" font-size="60" textLength="545.5" lengthAdjust="spacing">Magnetic filed/Guass</text>
<text transform="translate(64.8,1600.5) rotate(-90) scale(1.130,1)" x="-251.6" y="0" font-size="60" textLength="503.2" lengthAdjust="spacing">Intensity/arb. units</text>
<text transform="translate(14,1201) scale(1.130,1)" x="0" y="0" font-size="60" textLength="77.8" lengthAdjust="spacing">(d)</text>
<text transform="translate(683,1691) scale(1.09,1)" font-size="60"><tspan x="0" y="0" font-style="italic" textLength="29" lengthAdjust="spacingAndGlyphs">g</tspan><tspan x="29" y="0" textLength="78.3" lengthAdjust="spacingAndGlyphs"> = </tspan><tspan x="107.3" y="0" textLength="137.8" lengthAdjust="spacing">1.978</tspan></text>
<g clip-path="url(#ce)">
<path d="M1447.4 1413.3 1449.9 1413.4 1452.4 1412.5 1454.9 1411.8 1457.4 1412 1459.9 1414.4 1462.4 1415.1 1464.9 1415.1 1467.4 1415 1469.9 1414.3 1472.4 1414.3 1474.9 1412.1 1477.4 1412.9 1479.9 1415.4 1482.4 1415.1 1484.9 1412.7 1487.4 1410.2 1489.9 1411.2 1492.4 1412.7 1494.9 1414.1 1497.4 1414.6 1499.9 1415 1502.4 1414.3 1504.9 1414.2 1507.4 1415.4 1509.9 1414.4 1512.4 1415.9 1514.9 1417.4 1517.4 1416.9 1519.9 1415.6 1522.4 1413.5 1524.9 1413.9 1527.4 1414.6 1529.9 1415.8 1532.4 1416.3 1534.9 1415.1 1537.4 1413.8 1539.9 1413.8 1542.4 1416.4 1544.9 1416.1 1547.4 1415.1 1549.9 1416.5 1552.4 1414.6 1554.9 1414.3 1557.4 1417.5 1559.9 1415.2 1562.4 1413.5 1564.9 1415.7 1567.4 1415.2 1569.9 1415.9 1572.4 1416.9 1574.9 1414.7 1577.4 1415.8 1579.9 1418.3 1582.4 1418.5 1584.9 1419.4 1587.4 1418.8 1589.9 1417.4 1592.4 1415.6 1594.9 1416.2 1597.4 1417.1 1599.9 1415.9 1602.4 1415.2 1604.9 1414.7 1607.4 1415.6 1609.9 1418.2 1612.4 1416.6 1614.9 1413.6 1617.4 1416.2 1619.9 1419.6 1622.4 1420 1624.9 1416.3 1627.4 1412.9 1629.9 1415.5 1632.4 1417.6 1634.9 1416 1637.4 1418 1639.9 1420.5 1642.4 1419.7 1644.9 1418.8 1647.4 1419.2 1649.9 1420.8 1652.4 1421 1654.9 1419.9 1657.4 1419.9 1659.9 1417.6 1662.4 1418.5 1664.9 1421.4 1667.4 1420.6 1669.9 1417.4 1672.4 1416.1 1674.9 1419.4 1677.4 1418.1 1679.9 1417 1682.4 1420.3 1684.9 1419.1 1687.4 1419.8 1689.9 1422 1692.4 1420.1 1694.9 1419.9 1697.4 1420.8 1699.9 1420.7 1702.4 1421.3 1704.9 1420.5 1707.4 1418.8 1709.9 1420.8 1712.4 1421.4 1714.9 1419.3 1717.4 1420.4 1719.9 1423.1 1722.4 1421.6 1724.9 1418.4 1727.4 1418.8 1729.9 1420.3 1732.4 1420.2 1734.9 1422 1737.4 1421.3 1739.9 1421.2 1742.4 1421 1744.9 1418.7 1747.4 1420.9 1749.9 1423.2 1752.4 1423.5 1754.9 1422.7 1757.4 1421.9 1759.9 1421.8 1762.4 1422.3 1764.9 1422 1767.4 1421.7 1769.9 1422.7 1772.4 1422.4 1774.9 1422.7 1777.4 1423.4 1779.9 1424.9 1782.4 1424.7 1784.9 1422 1787.4 1421.3 1789.9 1421.8 1792.4 1423.3 1794.9 1423 1797.4 1422.5 1799.9 1425 1802.4 1421.8 1804.9 1418.5 1807.4 1421.7 1809.9 1423.5 1812.4 1423.6 1814.9 1422.7 1817.4 1423.2 1819.9 1424.1 1822.4 1422.8 1824.9 1425.3 1827.4 1426.4 1829.9 1423.1 1832.4 1422.6 1834.9 1423.1 1837.4 1423.2 1839.9 1420.4 1842.4 1420 1844.9 1424.3 1847.4 1423.6 1849.9 1422.5 1852.4 1424.9 1854.9 1426 1857.4 1426.7 1859.9 1423.9 1862.4 1421.9 1864.9 1423.5 1867.4 1424.7 1869.9 1426.3 1872.4 1422.7 1874.9 1422.7 1877.4 1424.2 1879.9 1423.8 1882.4 1423.8 1884.9 1423.3 1887.4 1426.4 1889.9 1426.1 1892.4 1425.1 1894.9 1426.2 1897.4 1426.2 1899.9 1425.3 1902.4 1426.9 1904.9 1428.3 1907.4 1426.3 1909.9 1428.3 1912.4 1427.4 1914.9 1425.4 1917.4 1426.4 1919.9 1425.6 1922.4 1426.8 1924.9 1426.9 1927.4 1426.9 1929.9 1425 1932.4 1422.7 1934.9 1425.1 1937.4 1425.8 1939.9 1424 1942.4 1423.5 1944.9 1427.3 1947.4 1429.7 1949.9 1430 1952.4 1428 1954.9 1426.3 1957.4 1426.1 1959.9 1426.9 1962.4 1429.9 1964.9 1428 1967.4 1427.9 1969.9 1430 1972.4 1428 1974.9 1424.6 1977.4 1426.3 1979.9 1428.3 1982.4 1426 1984.9 1426.4 1987.4 1427.5 1989.9 1428.6 1992.4 1426.9 1994.9 1426.3 1997.4 1429 1999.9 1429.2 2002.4 1427.1 2004.9 1424.4 2007.4 1425.5 2009.9 1426.3 2012.4 1425 2014.9 1426.2 2017.4 1425.4 2019.9 1420.9 2022.4 1420.4 2024.9 1420.5 2027.4 1421.4 2029.9 1423.5 2032.4 1421.4 2034.9 1420.5 2037.4 1421.6 2039.9 1421.1 2042.4 1421.1 2044.9 1420.3 2047.4 1419.3 2049.9 1420.3 2052.4 1420.2 2054.9 1417 2057.4 1415.3 2059.9 1413.1 2062.4 1410 2064.9 1409 2067.4 1410.5 2069.9 1410.4 2072.4 1408.2 2074.9 1408.3 2077.4 1407.3 2079.9 1405.7 2082.4 1405 2084.9 1406.6 2087.4 1405.3 2089.9 1402.7 2092.4 1402.7 2094.9 1400.8 2097.4 1397.1 2099.9 1395.6 2102.4 1397.1 2104.9 1394.8 2107.4 1391.8 2109.9 1393.8 2112.4 1394.3 2114.9 1392.1 2117.4 1391.1 2119.9 1390.3 2122.4 1387.1 2124.9 1384.2 2127.4 1383.8 2129.9 1385.6 2132.4 1384.7 2134.9 1381.7 2137.4 1380.4 2139.9 1378.6 2142.4 1378.2 2144.9 1377.4 2147.4 1376.6 2149.9 1373.8 2152.4 1372.1 2154.9 1372.3 2157.4 1367.7 2159.9 1367.1 2162.4 1366.5 2164.9 1360.4 2167.4 1356.7 2169.9 1356.2 2172.4 1352.9 2174.9 1349.4 2177.4 1346.4 2179.9 1341.5 2182.4 1336 2184.9 1331.4 2187.4 1326.1 2189.9 1319.1 2192.4 1309.9 2194.9 1304.1 2197.4 1301.6 2199.9 1293.8 2202.4 1285.3 2204.9 1281.4 2207.4 1273.6 2209.9 1265.7 2212.4 1264.4 2214.9 1257 2217.4 1249.4 2219.9 1247.2 2222.4 1241.2 2224.9 1234.8 2227.4 1231.2 2229.9 1225.1 2232.4 1219.8 2234.9 1217.1 2237.4 1214.2 2239.9 1210.2 2242.4 1205.5 2244.9 1201.1 2247.4 1197.8 2249.9 1197 2252.4 1194.9 2254.9 1190.5 2257.4 1187.3 2259.9 1189.4 2262.4 1190.2 2264.9 1186.9 2267.4 1182 2269.9 1181.8 2272.4 1185.6 2274.9 1187.6 2277.4 1189 2279.9 1188.9 2282.4 1191.4 2284.9 1192.3 2287.4 1196.4 2289.9 1203 2292.4 1205.5 2294.9 1211.6 2297.4 1219.8 2299.9 1222.5 2302.4 1225.8 2304.9 1234.1 2307.4 1241.8 2309.9 1247.9 2312.4 1253.6 2314.9 1263.6 2317.4 1273.2 2319.9 1276.7 2322.4 1281.4 2324.9 1291.9 2327.4 1301.8 2329.9 1309.1 2332.4 1315.9 2334.9 1319.7 2337.4 1325.7 2339.9 1330.8 2342.4 1335.9 2344.9 1344.3 2347.4 1351.5 2349.9 1356.3 2352.4 1360.9 2354.9 1367.2 2357.4 1372.5 2359.9 1377.2 2362.4 1381.2 2364.9 1384.1 2367.4 1388.5 2369.9 1392.3 2372.4 1393.7 2374.9 1395.9 2377.4 1399.6 2379.9 1402.7 2382.4 1405.1 2384.9 1407.4 2387.4 1409.3 2389.9 1411 2392.4 1410.9 2394.9 1413 2397.4 1416.9 2399.9 1418.2 2402.4 1417.8 2404.9 1418.8 2407.4 1418.8 2409.9 1416.9 2412.4 1418.8 2414.9 1420.5 2417.4 1421.8 2419.9 1422.1 2422.4 1418.7 2424.9 1419.2 2427.4 1424.3 2429.9 1425.3 2432.4 1422.3 2434.9 1422.1 2437.4 1424.5 2439.9 1426.1 2442.4 1425.9 2444.9 1427.2 2447.4 1427.9 2449.9 1426.3 2452.4 1426.3 2454.9 1428.3 2457.4 1428.9 2459.9 1428.2 2462.4 1426 2464.9 1424.8 2467.4 1426.9 2469.9 1426.8 2472.4 1427.2 2474.9 1428.3 2477.4 1428.2 2479.9 1427.3 2482.4 1429.2 2484.9 1430.9 2487.4 1427.8 2489.9 1426.6 2492.4 1429.8 2494.9 1429.3 2497.4 1427.4 2499.9 1429 2502.4 1428 2504.9 1425.6 2507.4 1425.9 2509.9 1429.6" stroke="#7cc8f4" stroke-width="4.2" fill="none" stroke-linejoin="round" stroke-linecap="round"/>
<path d="M2056 1427.7 2058 1427.6 2060 1427.6 2062 1427.6 2064 1427.5 2066 1427.5 2068 1427.5 2070 1427.4 2072 1427.4 2074 1427.3 2076 1427.3 2078 1427.2 2080 1427.2 2082 1427.1 2084 1427.1 2086 1427 2088 1427 2090 1426.9 2092 1426.8 2094 1426.7 2096 1426.7 2098 1426.6 2100 1426.5 2102 1426.4 2104 1426.3 2106 1426.1 2108 1426 2110 1425.8 2112 1425.7 2114 1425.5 2116 1425.3 2118 1425.1 2120 1424.9 2122 1424.6 2124 1424.3 2126 1424 2128 1423.7 2130 1423.3 2132 1422.9 2134 1422.5 2136 1422 2138 1421.4 2140 1420.9 2142 1420.2 2144 1419.5 2146 1418.8 2148 1417.9 2150 1417 2152 1416.1 2154 1415 2156 1413.9 2158 1412.7 2160 1411.3 2162 1409.9 2164 1408.3 2166 1406.7 2168 1404.9 2170 1403 2172 1401 2174 1398.8 2176 1396.5 2178 1394 2180 1391.4 2182 1388.7 2184 1385.8 2186 1382.7 2188 1379.5 2190 1376.1 2192 1372.5 2194 1368.8 2196 1364.9 2198 1360.8 2200 1356.6 2202 1352.3 2204 1347.8 2206 1343.1 2208 1338.3 2210 1333.4 2212 1328.3 2214 1323.1 2216 1317.9 2218 1312.5 2220 1307.1 2222 1301.6 2224 1296.1 2226 1290.5 2228 1284.9 2230 1279.4 2232 1273.8 2234 1268.4 2236 1262.9 2238 1257.6 2240 1252.4 2242 1247.3 2244 1242.4 2246 1237.6 2248 1233.1 2250 1228.7 2252 1224.7 2254 1220.9 2256 1217.3 2258 1214.1 2260 1211.3 2262 1208.7 2264 1206.5 2266 1204.8 2268 1203.3 2270 1202.3 2272 1201.7 2274 1201.5 2276 1201.7 2278 1202.3 2280 1203.3 2282 1204.8 2284 1206.6 2286 1208.7 2288 1211.3 2290 1214.1 2292 1217.3 2294 1220.9 2296 1224.7 2298 1228.8 2300 1233.1 2302 1237.6 2304 1242.4 2306 1247.3 2308 1252.4 2310 1257.6 2312 1263 2314 1268.4 2316 1273.9 2318 1279.4 2320 1285 2322 1290.6 2324 1296.1 2326 1301.7 2328 1307.1 2330 1312.6 2332 1317.9 2334 1323.2 2336 1328.4 2338 1333.4 2340 1338.3 2342 1343.1 2344 1347.8 2346 1352.3 2348 1356.7 2350 1360.9 2352 1364.9 2354 1368.8 2356 1372.6 2358 1376.1 2360 1379.5 2362 1382.8 2364 1385.8 2366 1388.7 2368 1391.5 2370 1394.1 2372 1396.6 2374 1398.9 2376 1401 2378 1403.1 2380 1405 2382 1406.8 2384 1408.4 2386 1410 2388 1411.4 2390 1412.7 2392 1414 2394 1415.1 2396 1416.2 2398 1417.1 2400 1418 2402 1418.9 2404 1419.6 2406 1420.3 2408 1420.9 2410 1421.5 2412 1422.1 2414 1422.6 2416 1423 2418 1423.4 2420 1423.8 2422 1424.1 2424 1424.4 2426 1424.7 2428 1425 2430 1425.2 2432 1425.4 2434 1425.6 2436 1425.8 2438 1426 2440 1426.1 2442 1426.2 2444 1426.4 2446 1426.5 2448 1426.6 2450 1426.7 2452 1426.8 2454 1426.9 2456 1427 2458 1427 2460 1427.1 2462 1427.2 2464 1427.2 2466 1427.3 2468 1427.3 2470 1427.4 2472 1427.4 2474 1427.5 2476 1427.5 2478 1427.6 2480 1427.6 2482 1427.7 2484 1427.7 2486 1427.7 2488 1427.8 2490 1427.8 2492 1427.8 2492 1429.6 2056 1429.4Z" stroke="none" stroke-width="0" fill="url(#hg)" stroke-linejoin="round" stroke-linecap="round"/>
<path d="M1954 1429.3 1956 1429.3 1958 1429.3 1960 1429.2 1962 1429.2 1964 1429.2 1966 1429.2 1968 1429.1 1970 1429.1 1972 1429.1 1974 1429 1976 1429 1978 1429 1980 1428.9 1982 1428.9 1984 1428.8 1986 1428.7 1988 1428.7 1990 1428.6 1992 1428.5 1994 1428.4 1996 1428.3 1998 1428.2 2000 1428.1 2002 1428 2004 1427.8 2006 1427.7 2008 1427.5 2010 1427.3 2012 1427.2 2014 1427 2016 1426.8 2018 1426.5 2020 1426.3 2022 1426 2024 1425.8 2026 1425.5 2028 1425.2 2030 1424.8 2032 1424.5 2034 1424.1 2036 1423.8 2038 1423.4 2040 1423 2042 1422.5 2044 1422.1 2046 1421.6 2048 1421.1 2050 1420.6 2052 1420 2054 1419.5 2056 1418.9 2058 1418.3 2060 1417.7 2062 1417 2064 1416.4 2066 1415.7 2068 1415 2070 1414.3 2072 1413.6 2074 1412.9 2076 1412.1 2078 1411.4 2080 1410.6 2082 1409.8 2084 1409.1 2086 1408.3 2088 1407.5 2090 1406.7 2092 1405.9 2094 1405.2 2096 1404.4 2098 1403.7 2100 1402.9 2102 1402.2 2104 1401.5 2106 1400.8 2108 1400.1 2110 1399.4 2112 1398.8 2114 1398.2 2116 1397.6 2118 1397.1 2120 1396.5 2122 1396.1 2124 1395.6 2126 1395.2 2128 1394.9 2130 1394.5 2132 1394.2 2134 1394 2136 1393.8 2138 1393.7 2140 1393.5 2142 1393.5 2144 1393.5 2146 1393.5 2148 1393.6 2150 1393.7 2152 1393.9 2154 1394.1 2156 1394.3 2158 1394.6 2160 1395 2162 1395.3 2164 1395.8 2166 1396.2 2168 1396.7 2170 1397.2 2172 1397.8 2174 1398.4 2176 1399 2178 1399.6 2180 1400.3 2182 1401 2184 1401.7 2186 1402.4 2188 1403.2 2190 1403.9 2192 1404.7 2194 1405.4 2196 1406.2 2198 1407 2200 1407.8 2202 1408.6 2204 1409.3 2206 1410.1 2208 1410.9 2210 1411.6 2212 1412.4 2214 1413.1 2216 1413.9 2218 1414.6 2220 1415.3 2222 1416 2224 1416.6 2226 1417.3 2228 1417.9 2230 1418.5 2232 1419.1 2234 1419.7 2236 1420.2 2238 1420.8 2240 1421.3 2242 1421.8 2244 1422.3 2246 1422.7 2248 1423.2 2250 1423.6 2252 1424 2254 1424.3 2256 1424.7 2258 1425 2260 1425.3 2262 1425.6 2264 1425.9 2266 1426.2 2268 1426.4 2270 1426.7 2272 1426.9 2274 1427.1 2276 1427.3 2278 1427.5 2280 1427.7 2282 1427.8 2284 1428 2286 1428.1 2288 1428.2 2290 1428.3 2292 1428.4 2294 1428.5 2296 1428.6 2298 1428.7 2300 1428.8 2302 1428.9 2304 1428.9 2306 1429 2308 1429 2310 1429.1 2312 1429.1 2314 1429.2 2316 1429.2 2318 1429.2 2320 1429.3 2322 1429.3 2324 1429.3 2326 1429.4 2328 1429.4 2330 1429.4 2332 1429.4 2334 1429.4 2334 1429.5 1954 1429.4Z" stroke="none" stroke-width="0" fill="url(#hr)" stroke-linejoin="round" stroke-linecap="round"/>
<path d="M2126 1429.3 2128 1429.3 2130 1429.2 2132 1429.2 2134 1429.1 2136 1429 2138 1428.9 2140 1428.7 2142 1428.6 2144 1428.3 2146 1428.1 2148 1427.8 2150 1427.4 2152 1427 2154 1426.5 2156 1426 2158 1425.3 2160 1424.6 2162 1423.8 2164 1422.9 2166 1421.9 2168 1420.7 2170 1419.5 2172 1418.2 2174 1416.7 2176 1415.2 2178 1413.5 2180 1411.8 2182 1410 2184 1408.1 2186 1406.2 2188 1404.3 2190 1402.4 2192 1400.5 2194 1398.7 2196 1397 2198 1395.3 2200 1393.8 2202 1392.4 2204 1391.2 2206 1390.3 2208 1389.5 2210 1388.9 2212 1388.6 2214 1388.5 2216 1388.7 2218 1389.1 2220 1389.7 2222 1390.5 2224 1391.6 2226 1392.8 2228 1394.3 2230 1395.8 2232 1397.5 2234 1399.3 2236 1401.1 2238 1403 2240 1404.9 2242 1406.8 2244 1408.7 2246 1410.6 2248 1412.3 2250 1414 2252 1415.7 2254 1417.2 2256 1418.6 2258 1419.9 2260 1421.1 2262 1422.2 2264 1423.2 2266 1424.1 2268 1424.9 2270 1425.6 2272 1426.2 2274 1426.7 2276 1427.2 2278 1427.6 2280 1427.9 2282 1428.2 2284 1428.5 2286 1428.7 2288 1428.8 2290 1429 2292 1429.1 2294 1429.2 2296 1429.3 2298 1429.3 2300 1429.4 2302 1429.4 2302 1429.5 2126 1429.5Z" stroke="none" stroke-width="0" fill="url(#ho)" stroke-linejoin="round" stroke-linecap="round"/>
<path d="M1954 1429.3 1956 1429.3 1958 1429.3 1960 1429.2 1962 1429.2 1964 1429.2 1966 1429.2 1968 1429.1 1970 1429.1 1972 1429.1 1974 1429 1976 1429 1978 1429 1980 1428.9 1982 1428.9 1984 1428.8 1986 1428.7 1988 1428.7 1990 1428.6 1992 1428.5 1994 1428.4 1996 1428.3 1998 1428.2 2000 1428.1 2002 1428 2004 1427.8 2006 1427.7 2008 1427.5 2010 1427.3 2012 1427.2 2014 1427 2016 1426.8 2018 1426.5 2020 1426.3 2022 1426 2024 1425.8 2026 1425.5 2028 1425.2 2030 1424.8 2032 1424.5 2034 1424.1 2036 1423.8 2038 1423.4 2040 1423 2042 1422.5 2044 1422.1 2046 1421.6 2048 1421.1 2050 1420.6 2052 1420 2054 1419.5 2056 1418.9 2058 1418.3 2060 1417.7 2062 1417 2064 1416.4 2066 1415.7 2068 1415 2070 1414.3 2072 1413.6 2074 1412.9 2076 1412.1 2078 1411.4 2080 1410.6 2082 1409.8 2084 1409.1 2086 1408.3 2088 1407.5 2090 1406.7 2092 1405.9 2094 1405.2 2096 1404.4 2098 1403.7 2100 1402.9 2102 1402.2 2104 1401.5 2106 1400.8 2108 1400.1 2110 1399.4 2112 1398.8 2114 1398.2 2116 1397.6 2118 1397.1 2120 1396.5 2122 1396.1 2124 1395.6 2126 1395.2 2128 1394.9 2130 1394.5 2132 1394.2 2134 1394 2136 1393.8 2138 1393.7 2140 1393.5 2142 1393.5 2144 1393.5 2146 1393.5 2148 1393.6 2150 1393.7 2152 1393.9 2154 1394.1 2156 1394.3 2158 1394.6 2160 1395 2162 1395.3 2164 1395.8 2166 1396.2 2168 1396.7 2170 1397.2 2172 1397.8 2174 1398.4 2176 1399 2178 1399.6 2180 1400.3 2182 1401 2184 1401.7 2186 1402.4 2188 1403.2 2190 1403.9 2192 1404.7 2194 1405.4 2196 1406.2 2198 1407 2200 1407.8 2202 1408.6 2204 1409.3 2206 1410.1 2208 1410.9 2210 1411.6 2212 1412.4 2214 1413.1 2216 1413.9 2218 1414.6 2220 1415.3 2222 1416 2224 1416.6 2226 1417.3 2228 1417.9 2230 1418.5 2232 1419.1 2234 1419.7 2236 1420.2 2238 1420.8 2240 1421.3 2242 1421.8 2244 1422.3 2246 1422.7 2248 1423.2 2250 1423.6 2252 1424 2254 1424.3 2256 1424.7 2258 1425 2260 1425.3 2262 1425.6 2264 1425.9 2266 1426.2 2268 1426.4 2270 1426.7 2272 1426.9 2274 1427.1 2276 1427.3 2278 1427.5 2280 1427.7 2282 1427.8 2284 1428 2286 1428.1 2288 1428.2 2290 1428.3 2292 1428.4 2294 1428.5 2296 1428.6 2298 1428.7 2300 1428.8 2302 1428.9 2304 1428.9 2306 1429 2308 1429 2310 1429.1 2312 1429.1 2314 1429.2 2316 1429.2 2318 1429.2 2320 1429.3 2322 1429.3 2324 1429.3 2326 1429.4 2328 1429.4 2330 1429.4 2332 1429.4 2334 1429.4" stroke="#f26a6a" stroke-width="4.4" fill="none" stroke-linejoin="round" stroke-linecap="round"/>
<path d="M2126 1429.3 2128 1429.3 2130 1429.2 2132 1429.2 2134 1429.1 2136 1429 2138 1428.9 2140 1428.7 2142 1428.6 2144 1428.3 2146 1428.1 2148 1427.8 2150 1427.4 2152 1427 2154 1426.5 2156 1426 2158 1425.3 2160 1424.6 2162 1423.8 2164 1422.9 2166 1421.9 2168 1420.7 2170 1419.5 2172 1418.2 2174 1416.7 2176 1415.2 2178 1413.5 2180 1411.8 2182 1410 2184 1408.1 2186 1406.2 2188 1404.3 2190 1402.4 2192 1400.5 2194 1398.7 2196 1397 2198 1395.3 2200 1393.8 2202 1392.4 2204 1391.2 2206 1390.3 2208 1389.5 2210 1388.9 2212 1388.6 2214 1388.5 2216 1388.7 2218 1389.1 2220 1389.7 2222 1390.5 2224 1391.6 2226 1392.8 2228 1394.3 2230 1395.8 2232 1397.5 2234 1399.3 2236 1401.1 2238 1403 2240 1404.9 2242 1406.8 2244 1408.7 2246 1410.6 2248 1412.3 2250 1414 2252 1415.7 2254 1417.2 2256 1418.6 2258 1419.9 2260 1421.1 2262 1422.2 2264 1423.2 2266 1424.1 2268 1424.9 2270 1425.6 2272 1426.2 2274 1426.7 2276 1427.2 2278 1427.6 2280 1427.9 2282 1428.2 2284 1428.5 2286 1428.7 2288 1428.8 2290 1429 2292 1429.1 2294 1429.2 2296 1429.3 2298 1429.3 2300 1429.4 2302 1429.4" stroke="#f4a060" stroke-width="4.4" fill="none" stroke-linejoin="round" stroke-linecap="round"/>
<path d="M2056 1427.7 2058 1427.6 2060 1427.6 2062 1427.6 2064 1427.5 2066 1427.5 2068 1427.5 2070 1427.4 2072 1427.4 2074 1427.3 2076 1427.3 2078 1427.2 2080 1427.2 2082 1427.1 2084 1427.1 2086 1427 2088 1427 2090 1426.9 2092 1426.8 2094 1426.7 2096 1426.7 2098 1426.6 2100 1426.5 2102 1426.4 2104 1426.3 2106 1426.1 2108 1426 2110 1425.8 2112 1425.7 2114 1425.5 2116 1425.3 2118 1425.1 2120 1424.9 2122 1424.6 2124 1424.3 2126 1424 2128 1423.7 2130 1423.3 2132 1422.9 2134 1422.5 2136 1422 2138 1421.4 2140 1420.9 2142 1420.2 2144 1419.5 2146 1418.8 2148 1417.9 2150 1417 2152 1416.1 2154 1415 2156 1413.9 2158 1412.7 2160 1411.3 2162 1409.9 2164 1408.3 2166 1406.7 2168 1404.9 2170 1403 2172 1401 2174 1398.8 2176 1396.5 2178 1394 2180 1391.4 2182 1388.7 2184 1385.8 2186 1382.7 2188 1379.5 2190 1376.1 2192 1372.5 2194 1368.8 2196 1364.9 2198 1360.8 2200 1356.6 2202 1352.3 2204 1347.8 2206 1343.1 2208 1338.3 2210 1333.4 2212 1328.3 2214 1323.1 2216 1317.9 2218 1312.5 2220 1307.1 2222 1301.6 2224 1296.1 2226 1290.5 2228 1284.9 2230 1279.4 2232 1273.8 2234 1268.4 2236 1262.9 2238 1257.6 2240 1252.4 2242 1247.3 2244 1242.4 2246 1237.6 2248 1233.1 2250 1228.7 2252 1224.7 2254 1220.9 2256 1217.3 2258 1214.1 2260 1211.3 2262 1208.7 2264 1206.5 2266 1204.8 2268 1203.3 2270 1202.3 2272 1201.7 2274 1201.5 2276 1201.7 2278 1202.3 2280 1203.3 2282 1204.8 2284 1206.6 2286 1208.7 2288 1211.3 2290 1214.1 2292 1217.3 2294 1220.9 2296 1224.7 2298 1228.8 2300 1233.1 2302 1237.6 2304 1242.4 2306 1247.3 2308 1252.4 2310 1257.6 2312 1263 2314 1268.4 2316 1273.9 2318 1279.4 2320 1285 2322 1290.6 2324 1296.1 2326 1301.7 2328 1307.1 2330 1312.6 2332 1317.9 2334 1323.2 2336 1328.4 2338 1333.4 2340 1338.3 2342 1343.1 2344 1347.8 2346 1352.3 2348 1356.7 2350 1360.9 2352 1364.9 2354 1368.8 2356 1372.6 2358 1376.1 2360 1379.5 2362 1382.8 2364 1385.8 2366 1388.7 2368 1391.5 2370 1394.1 2372 1396.6 2374 1398.9 2376 1401 2378 1403.1 2380 1405 2382 1406.8 2384 1408.4 2386 1410 2388 1411.4 2390 1412.7 2392 1414 2394 1415.1 2396 1416.2 2398 1417.1 2400 1418 2402 1418.9 2404 1419.6 2406 1420.3 2408 1420.9 2410 1421.5 2412 1422.1 2414 1422.6 2416 1423 2418 1423.4 2420 1423.8 2422 1424.1 2424 1424.4 2426 1424.7 2428 1425 2430 1425.2 2432 1425.4 2434 1425.6 2436 1425.8 2438 1426 2440 1426.1 2442 1426.2 2444 1426.4 2446 1426.5 2448 1426.6 2450 1426.7 2452 1426.8 2454 1426.9 2456 1427 2458 1427 2460 1427.1 2462 1427.2 2464 1427.2 2466 1427.3 2468 1427.3 2470 1427.4 2472 1427.4 2474 1427.5 2476 1427.5 2478 1427.6 2480 1427.6 2482 1427.7 2484 1427.7 2486 1427.7 2488 1427.8 2490 1427.8 2492 1427.8" stroke="#5aa41e" stroke-width="4.2" fill="none" stroke-linejoin="round" stroke-linecap="round"/>
<path d="M1944 1430.9 2507.7 1431.1" stroke="#111" stroke-width="4.6" fill="none" stroke-linejoin="round" stroke-linecap="round"/>
<path d="M2000 1425.3 2002 1425.2 2004 1425 2006 1424.9 2008 1424.7 2010 1424.5 2012 1424.3 2014 1424 2016 1423.8 2018 1423.5 2020 1423.3 2022 1423 2024 1422.7 2026 1422.4 2028 1422 2030 1421.7 2032 1421.3 2034 1420.9 2036 1420.5 2038 1420 2040 1419.6 2042 1419.1 2044 1418.6 2046 1418 2048 1417.5 2050 1416.9 2052 1416.3 2054 1415.7 2056 1415.1 2058 1414.4 2060 1413.7 2062 1413 2064 1412.3 2066 1411.6 2068 1410.8 2070 1410 2072 1409.2 2074 1408.4 2076 1407.6 2078 1406.7 2080 1405.9 2082 1405 2084 1404.2 2086 1403.3 2088 1402.4 2090 1401.5 2092 1400.6 2094 1399.8 2096 1398.9 2098 1398 2100 1397.1 2102 1396.2 2104 1395.3 2106 1394.5 2108 1393.6 2110 1392.8 2112 1391.9 2114 1391.1 2116 1390.3 2118 1389.5 2120 1388.7 2122 1387.9 2124 1387.1 2126 1386.3 2128 1385.6 2130 1384.8 2132 1384 2134 1383.2 2136 1382.4 2138 1381.5 2140 1380.7 2142 1379.7 2144 1378.8 2146 1377.8 2148 1376.7 2150 1375.5 2152 1374.2 2154 1372.8 2156 1371.3 2158 1369.7 2160 1367.9 2162 1365.9 2164 1363.8 2166 1361.4 2168 1358.9 2170 1356.2 2172 1353.2 2174 1350.1 2176 1346.7 2178 1343.1 2180 1339.2 2182 1335.2 2184 1330.9 2186 1326.5 2188 1321.9 2190 1317.2 2192 1312.3 2194 1307.3 2196 1302.2 2198 1297 2200 1291.9 2202 1286.7 2204 1281.5 2206 1276.4 2208 1271.4 2210 1266.5 2212 1261.6 2214 1256.9 2216 1252.3 2218 1247.9 2220 1243.6 2222 1239.5 2224 1235.5 2226 1231.7 2228 1228 2230 1224.5 2232 1221 2234 1217.8 2236 1214.6 2238 1211.6 2240 1208.6 2242 1205.8 2244 1203.1 2246 1200.6 2248 1198.1 2250 1195.8 2252 1193.7 2254 1191.7 2256 1189.8 2258 1188.2 2260 1186.8 2262 1185.6 2264 1184.7 2266 1184 2268 1183.6 2270 1183.5 2272 1183.8 2274 1184.3 2276 1185.2 2278 1186.5 2280 1188.1 2282 1190 2284 1192.3 2286 1194.9 2288 1197.9 2290 1201.1 2292 1204.7 2294 1208.6 2296 1212.7 2298 1217.2 2300 1221.8 2302 1226.7 2304 1231.7 2306 1237 2308 1242.4 2310 1247.9 2312 1253.5 2314 1259.2 2316 1265 2318 1270.8 2320 1276.7 2322 1282.6 2324 1288.4 2326 1294.2 2328 1300 2330 1305.7 2332 1311.3 2334 1316.8 2336 1322.2 2338 1327.5 2340 1332.7 2342 1337.7 2344 1342.6 2346 1347.3 2348 1351.9 2350 1356.3 2352 1360.5 2354 1364.6 2356 1368.5 2358 1372.2 2360 1375.7 2362 1379.1 2364 1382.3 2366 1385.4 2368 1388.3 2370 1391 2372 1393.6 2374 1396 2376 1398.3 2378 1400.4 2380 1402.4 2382 1404.2 2384 1406 2386 1407.6 2388 1409.1 2390 1410.5 2392 1411.8 2394 1413 2396 1414.1 2398 1415.1 2400 1416 2402 1416.9 2404 1417.7 2406 1418.4 2408 1419.1 2410 1419.7 2412 1420.2 2414 1420.7 2416 1421.2 2418 1421.6 2420 1422 2422 1422.4 2424 1422.7 2426 1423 2428 1423.3 2430 1423.5 2432 1423.7 2434 1423.9 2436 1424.1 2438 1424.3 2440 1424.5 2442 1424.6 2444 1424.7 2446 1424.9 2448 1425 2450 1425.1 2452 1425.2 2454 1425.3 2456 1425.3 2458 1425.4 2460 1425.5 2462 1425.6" stroke="#1e9cf2" stroke-width="4.8" fill="none" stroke-linejoin="round" stroke-linecap="round"/>
<path d="M1447.4 1704.5 1449.9 1701.6 1452.4 1698.4 1454.9 1699.9 1457.4 1703 1459.9 1703 1462.4 1700.5 1464.9 1700.2 1467.4 1703.5 1469.9 1702.5 1472.4 1702.2 1474.9 1704.4 1477.4 1703.8 1479.9 1704.1 1482.4 1703 1484.9 1702.1 1487.4 1704.8 1489.9 1704.5 1492.4 1702.1 1494.9 1701 1497.4 1701 1499.9 1703.4 1502.4 1705.4 1504.9 1705.4 1507.4 1704.7 1509.9 1704.7 1512.4 1704.4 1514.9 1705 1517.4 1704.5 1519.9 1704.6 1522.4 1704.8 1524.9 1701.8 1527.4 1700.5 1529.9 1702.1 1532.4 1703.1 1534.9 1702 1537.4 1701.7 1539.9 1703.4 1542.4 1704.7 1544.9 1705.5 1547.4 1704.2 1549.9 1703.7 1552.4 1705.9 1554.9 1705.9 1557.4 1706.8 1559.9 1705.9 1562.4 1704 1564.9 1704.7 1567.4 1704.3 1569.9 1704.1 1572.4 1704.9 1574.9 1705 1577.4 1704.2 1579.9 1703.8 1582.4 1704.3 1584.9 1703.2 1587.4 1703.5 1589.9 1704.1 1592.4 1703.6 1594.9 1703.7 1597.4 1704.1 1599.9 1705 1602.4 1704.6 1604.9 1704.3 1607.4 1704.8 1609.9 1707.4 1612.4 1705.3 1614.9 1704.2 1617.4 1706.5 1619.9 1705.5 1622.4 1703.9 1624.9 1706.2 1627.4 1707.8 1629.9 1707.3 1632.4 1706.7 1634.9 1704.8 1637.4 1706.5 1639.9 1708.2 1642.4 1706.7 1644.9 1705.7 1647.4 1706.8 1649.9 1706.2 1652.4 1704.6 1654.9 1705.5 1657.4 1707.6 1659.9 1708.7 1662.4 1707.8 1664.9 1708.4 1667.4 1708.1 1669.9 1706.1 1672.4 1708.9 1674.9 1709 1677.4 1707.1 1679.9 1708.3 1682.4 1707.8 1684.9 1707.5 1687.4 1708.2 1689.9 1708.6 1692.4 1707.3 1694.9 1706.7 1697.4 1708.9 1699.9 1709.8 1702.4 1707.8 1704.9 1707.2 1707.4 1706.6 1709.9 1705.2 1712.4 1705.7 1714.9 1709 1717.4 1708.9 1719.9 1705 1722.4 1705.6 1724.9 1707.1 1727.4 1708.1 1729.9 1710.3 1732.4 1709.2 1734.9 1708 1737.4 1707.4 1739.9 1708.7 1742.4 1708.9 1744.9 1707.7 1747.4 1711.1 1749.9 1710.1 1752.4 1707.8 1754.9 1708.8 1757.4 1709.2 1759.9 1709.8 1762.4 1711 1764.9 1711.1 1767.4 1710.1 1769.9 1708.3 1772.4 1708.1 1774.9 1708.1 1777.4 1709 1779.9 1710.5 1782.4 1710.3 1784.9 1709.8 1787.4 1709.1 1789.9 1709.8 1792.4 1710.2 1794.9 1710 1797.4 1708.8 1799.9 1708.6 1802.4 1708.6 1804.9 1708 1807.4 1707.4 1809.9 1706.9 1812.4 1710.4 1814.9 1711.2 1817.4 1708 1819.9 1709.9 1822.4 1711.5 1824.9 1710.3 1827.4 1711.3 1829.9 1713.6 1832.4 1711.4 1834.9 1711 1837.4 1712.6 1839.9 1712.4 1842.4 1711.2 1844.9 1711.9 1847.4 1713.8 1849.9 1709.1 1852.4 1709.3 1854.9 1713.7 1857.4 1710.8 1859.9 1709.8 1862.4 1711.2 1864.9 1711.1 1867.4 1711.4 1869.9 1711.8 1872.4 1713.5 1874.9 1712.7 1877.4 1711.7 1879.9 1709.9 1882.4 1710.5 1884.9 1710.9 1887.4 1710.3 1889.9 1710.7 1892.4 1713.4 1894.9 1714.2 1897.4 1712.8 1899.9 1712.6 1902.4 1710.7 1904.9 1711.3 1907.4 1711.1 1909.9 1712.6 1912.4 1712.2 1914.9 1711.1 1917.4 1709.6 1919.9 1706.5 1922.4 1708.1 1924.9 1707.2 1927.4 1708.2 1929.9 1709.8 1932.4 1707.2 1934.9 1707.9 1937.4 1706.7 1939.9 1703.2 1942.4 1700.2 1944.9 1698.2 1947.4 1699.9 1949.9 1698.9 1952.4 1699.2 1954.9 1701.7 1957.4 1700.4 1959.9 1696.4 1962.4 1693.9 1964.9 1693.1 1967.4 1693.6 1969.9 1695 1972.4 1692.7 1974.9 1690.3 1977.4 1689.4 1979.9 1688.7 1982.4 1686 1984.9 1682.6 1987.4 1682.9 1989.9 1682.8 1992.4 1680.8 1994.9 1678.6 1997.4 1677.1 1999.9 1675.8 2002.4 1672.4 2004.9 1671.9 2007.4 1671.9 2009.9 1667.7 2012.4 1664.4 2014.9 1661.9 2017.4 1658.4 2019.9 1656 2022.4 1653.9 2024.9 1652.2 2027.4 1652 2029.9 1650.6 2032.4 1646.5 2034.9 1644.2 2037.4 1642.9 2039.9 1639.8 2042.4 1639.5 2044.9 1637.4 2047.4 1635.1 2049.9 1632.2 2052.4 1629.4 2054.9 1628.4 2057.4 1627 2059.9 1626.1 2062.4 1622.1 2064.9 1620.3 2067.4 1620.5 2069.9 1619.2 2072.4 1617.4 2074.9 1613.5 2077.4 1612.3 2079.9 1610 2082.4 1605.5 2084.9 1602.5 2087.4 1600.4 2089.9 1598.6 2092.4 1597 2094.9 1594.8 2097.4 1594.8 2099.9 1595.8 2102.4 1593.6 2104.9 1592.1 2107.4 1588.6 2109.9 1585.9 2112.4 1584 2114.9 1579.4 2117.4 1575.9 2119.9 1575.6 2122.4 1576 2124.9 1572.8 2127.4 1569.9 2129.9 1568.7 2132.4 1567.2 2134.9 1566.6 2137.4 1562.3 2139.9 1557.9 2142.4 1558.4 2144.9 1558.5 2147.4 1554.4 2149.9 1551.7 2152.4 1549.3 2154.9 1546.3 2157.4 1543.1 2159.9 1540.5 2162.4 1540.1 2164.9 1538.3 2167.4 1535 2169.9 1530.6 2172.4 1527.4 2174.9 1523.8 2177.4 1519.4 2179.9 1517.1 2182.4 1513.3 2184.9 1510.4 2187.4 1506.8 2189.9 1505.6 2192.4 1505.7 2194.9 1501.5 2197.4 1497.2 2199.9 1493.7 2202.4 1491.7 2204.9 1488.4 2207.4 1486.4 2209.9 1485.4 2212.4 1485.3 2214.9 1486.5 2217.4 1486.1 2219.9 1482.3 2222.4 1478.6 2224.9 1481.6 2227.4 1484.2 2229.9 1484.3 2232.4 1485.1 2234.9 1485.4 2237.4 1488.7 2239.9 1491.4 2242.4 1492.2 2244.9 1492.9 2247.4 1495.4 2249.9 1501.6 2252.4 1505.9 2254.9 1509.7 2257.4 1513.3 2259.9 1517.9 2262.4 1522.6 2264.9 1527 2267.4 1534.4 2269.9 1542.3 2272.4 1546.7 2274.9 1550.6 2277.4 1556.9 2279.9 1563.3 2282.4 1569.9 2284.9 1577.5 2287.4 1584.3 2289.9 1589.7 2292.4 1596.2 2294.9 1600.5 2297.4 1606 2299.9 1616.4 2302.4 1621.4 2304.9 1624.3 2307.4 1631.5 2309.9 1638.8 2312.4 1643.6 2314.9 1646.5 2317.4 1653.5 2319.9 1656.8 2322.4 1658.7 2324.9 1664.8 2327.4 1667.4 2329.9 1673.7 2332.4 1682.3 2334.9 1682.6 2337.4 1683.3 2339.9 1687.8 2342.4 1692 2344.9 1694.8 2347.4 1697.3 2349.9 1700.4 2352.4 1701.8 2354.9 1703.4 2357.4 1707 2359.9 1709 2362.4 1709.7 2364.9 1711 2367.4 1712.4 2369.9 1715.5 2372.4 1716 2374.9 1714.6 2377.4 1714.7 2379.9 1717.2 2382.4 1718 2384.9 1718.1 2387.4 1722.5 2389.9 1722.8 2392.4 1722.5 2394.9 1722.7 2397.4 1721.1 2399.9 1722.1 2402.4 1721.6 2404.9 1718.5 2407.4 1719.7 2409.9 1722 2412.4 1722.5 2414.9 1725.8 2417.4 1726.5 2419.9 1722.7 2422.4 1722.7 2424.9 1722.6 2427.4 1719.8 2429.9 1724.4 2432.4 1725.9 2434.9 1721.1 2437.4 1722.2 2439.9 1724.6 2442.4 1725.4 2444.9 1725.5 2447.4 1724.9 2449.9 1726.1 2452.4 1726.3 2454.9 1724.5 2457.4 1725.2 2459.9 1725.5 2462.4 1726.5 2464.9 1727.2 2467.4 1725.9 2469.9 1725.4 2472.4 1726.4 2474.9 1728.1 2477.4 1727.2 2479.9 1726.2 2482.4 1727.4 2484.9 1729.1 2487.4 1728.9 2489.9 1729.1 2492.4 1728.8 2494.9 1729.2 2497.4 1727.8 2499.9 1726.6 2502.4 1727.4 2504.9 1729.1 2507.4 1727.3 2509.9 1724.4" stroke="#7cc8f4" stroke-width="4.2" fill="none" stroke-linejoin="round" stroke-linecap="round"/>
<path d="M2009 1716.3 2011 1716.3 2013 1716.4 2015 1716.4 2017 1716.4 2019 1716.5 2021 1716.5 2023 1716.5 2025 1716.5 2027 1716.5 2029 1716.6 2031 1716.6 2033 1716.6 2035 1716.6 2037 1716.6 2039 1716.6 2041 1716.7 2043 1716.7 2045 1716.7 2047 1716.7 2049 1716.7 2051 1716.7 2053 1716.7 2055 1716.6 2057 1716.6 2059 1716.6 2061 1716.6 2063 1716.5 2065 1716.5 2067 1716.4 2069 1716.4 2071 1716.3 2073 1716.2 2075 1716.1 2077 1716 2079 1715.9 2081 1715.8 2083 1715.6 2085 1715.5 2087 1715.3 2089 1715.1 2091 1714.8 2093 1714.6 2095 1714.3 2097 1714 2099 1713.6 2101 1713.2 2103 1712.8 2105 1712.4 2107 1711.9 2109 1711.3 2111 1710.7 2113 1710.1 2115 1709.4 2117 1708.6 2119 1707.8 2121 1706.9 2123 1705.9 2125 1704.9 2127 1703.8 2129 1702.6 2131 1701.3 2133 1700 2135 1698.6 2137 1697 2139 1695.4 2141 1693.7 2143 1691.9 2145 1690 2147 1688 2149 1685.9 2151 1683.6 2153 1681.3 2155 1678.9 2157 1676.3 2159 1673.7 2161 1670.9 2163 1668.1 2165 1665.1 2167 1662.1 2169 1658.9 2171 1655.7 2173 1652.4 2175 1649 2177 1645.5 2179 1641.9 2181 1638.3 2183 1634.7 2185 1631 2187 1627.2 2189 1623.4 2191 1619.7 2193 1615.9 2195 1612.1 2197 1608.3 2199 1604.5 2201 1600.8 2203 1597.2 2205 1593.6 2207 1590.1 2209 1586.7 2211 1583.4 2213 1580.2 2215 1577.1 2217 1574.2 2219 1571.5 2221 1568.9 2223 1566.5 2225 1564.3 2227 1562.3 2229 1560.6 2231 1559 2233 1557.7 2235 1556.6 2237 1555.8 2239 1555.3 2241 1555 2243 1554.9 2245 1555.1 2247 1555.6 2249 1556.4 2251 1557.3 2253 1558.6 2255 1560 2257 1561.7 2259 1563.7 2261 1565.8 2263 1568.2 2265 1570.7 2267 1573.4 2269 1576.3 2271 1579.4 2273 1582.5 2275 1585.9 2277 1589.3 2279 1592.8 2281 1596.5 2283 1600.2 2285 1603.9 2287 1607.8 2289 1611.6 2291 1615.5 2293 1619.4 2295 1623.3 2297 1627.1 2299 1631 2301 1634.8 2303 1638.6 2305 1642.4 2307 1646.1 2309 1649.7 2311 1653.2 2313 1656.7 2315 1660.1 2317 1663.4 2319 1666.6 2321 1669.7 2323 1672.7 2325 1675.7 2327 1678.5 2329 1681.2 2331 1683.8 2333 1686.3 2335 1688.7 2337 1691 2339 1693.1 2341 1695.2 2343 1697.2 2345 1699.1 2347 1700.8 2349 1702.5 2351 1704.1 2353 1705.6 2355 1707 2357 1708.4 2359 1709.6 2361 1710.8 2363 1711.9 2365 1712.9 2367 1713.9 2369 1714.8 2371 1715.6 2373 1716.4 2375 1717.1 2377 1717.8 2379 1718.4 2381 1719 2383 1719.6 2385 1720.1 2387 1720.5 2389 1721 2391 1721.4 2393 1721.8 2395 1722.1 2397 1722.4 2399 1722.7 2401 1723 2403 1723.3 2405 1723.5 2407 1723.7 2409 1723.9 2411 1724.1 2413 1724.3 2415 1724.5 2417 1724.6 2419 1724.8 2421 1724.9 2423 1725.1 2425 1725.2 2427 1725.3 2429 1725.4 2431 1725.5 2433 1725.7 2435 1725.8 2437 1725.9 2439 1725.9 2441 1726 2443 1726.1 2445 1726.2 2447 1726.3 2449 1726.4 2451 1726.5 2453 1726.5 2455 1726.6 2457 1726.7 2459 1726.8 2461 1726.8 2463 1726.9 2465 1727 2467 1727 2469 1727.1 2471 1727.2 2473 1727.2 2475 1727.3 2475 1728.4 2009 1717.4Z" stroke="none" stroke-width="0" fill="url(#hg)" stroke-linejoin="round" stroke-linecap="round"/>
<path d="M1865 1713.5 1867 1713.5 1869 1713.5 1871 1713.5 1873 1713.5 1875 1713.5 1877 1713.4 1879 1713.4 1881 1713.4 1883 1713.3 1885 1713.3 1887 1713.2 1889 1713.1 1891 1713.1 1893 1713 1895 1712.9 1897 1712.8 1899 1712.7 1901 1712.5 1903 1712.4 1905 1712.2 1907 1712.1 1909 1711.9 1911 1711.7 1913 1711.5 1915 1711.3 1917 1711 1919 1710.8 1921 1710.5 1923 1710.2 1925 1709.9 1927 1709.6 1929 1709.2 1931 1708.8 1933 1708.4 1935 1708 1937 1707.6 1939 1707.1 1941 1706.6 1943 1706.1 1945 1705.6 1947 1705 1949 1704.4 1951 1703.8 1953 1703.2 1955 1702.5 1957 1701.8 1959 1701.1 1961 1700.4 1963 1699.6 1965 1698.8 1967 1698 1969 1697.2 1971 1696.3 1973 1695.4 1975 1694.5 1977 1693.6 1979 1692.6 1981 1691.7 1983 1690.7 1985 1689.7 1987 1688.6 1989 1687.6 1991 1686.5 1993 1685.5 1995 1684.4 1997 1683.3 1999 1682.2 2001 1681.1 2003 1680 2005 1678.9 2007 1677.8 2009 1676.6 2011 1675.5 2013 1674.4 2015 1673.4 2017 1672.3 2019 1671.2 2021 1670.2 2023 1669.2 2025 1668.2 2027 1667.2 2029 1666.2 2031 1665.3 2033 1664.4 2035 1663.5 2037 1662.7 2039 1661.9 2041 1661.2 2043 1660.5 2045 1659.8 2047 1659.2 2049 1658.6 2051 1658.1 2053 1657.6 2055 1657.2 2057 1656.9 2059 1656.5 2061 1656.3 2063 1656.1 2065 1655.9 2067 1655.9 2069 1655.8 2071 1655.9 2073 1656 2075 1656.1 2077 1656.3 2079 1656.6 2081 1656.9 2083 1657.3 2085 1657.7 2087 1658.2 2089 1658.7 2091 1659.3 2093 1659.9 2095 1660.6 2097 1661.3 2099 1662.1 2101 1662.9 2103 1663.8 2105 1664.7 2107 1665.6 2109 1666.6 2111 1667.6 2113 1668.6 2115 1669.7 2117 1670.7 2119 1671.9 2121 1673 2123 1674.1 2125 1675.3 2127 1676.5 2129 1677.6 2131 1678.8 2133 1680 2135 1681.2 2137 1682.4 2139 1683.6 2141 1684.9 2143 1686 2145 1687.2 2147 1688.4 2149 1689.6 2151 1690.8 2153 1691.9 2155 1693 2157 1694.2 2159 1695.3 2161 1696.3 2163 1697.4 2165 1698.4 2167 1699.5 2169 1700.4 2171 1701.4 2173 1702.4 2175 1703.3 2177 1704.2 2179 1705.1 2181 1705.9 2183 1706.7 2185 1707.5 2187 1708.3 2189 1709 2191 1709.8 2193 1710.5 2195 1711.1 2197 1711.8 2199 1712.4 2201 1713 2203 1713.6 2205 1714.1 2207 1714.6 2209 1715.1 2211 1715.6 2213 1716.1 2215 1716.5 2217 1716.9 2219 1717.3 2221 1717.7 2223 1718.1 2225 1718.4 2227 1718.7 2229 1719.1 2231 1719.4 2233 1719.6 2235 1719.9 2237 1720.2 2239 1720.4 2241 1720.6 2243 1720.8 2245 1721.1 2247 1721.3 2249 1721.4 2251 1721.6 2253 1721.8 2255 1721.9 2257 1722.1 2259 1722.2 2261 1722.4 2263 1722.5 2265 1722.6 2267 1722.7 2269 1722.9 2271 1723 2273 1723.1 2275 1723.2 2277 1723.3 2279 1723.3 2281 1723.4 2283 1723.5 2285 1723.6 2287 1723.7 2289 1723.7 2291 1723.8 2293 1723.9 2295 1724 2295 1724.2 1865 1714Z" stroke="none" stroke-width="0" fill="url(#hr)" stroke-linejoin="round" stroke-linecap="round"/>
<path d="M1947 1715.6 1949 1715.6 1951 1715.7 1953 1715.7 1955 1715.7 1957 1715.7 1959 1715.7 1961 1715.6 1963 1715.6 1965 1715.6 1967 1715.6 1969 1715.5 1971 1715.5 1973 1715.5 1975 1715.4 1977 1715.3 1979 1715.2 1981 1715.2 1983 1715.1 1985 1715 1987 1714.8 1989 1714.7 1991 1714.5 1993 1714.4 1995 1714.2 1997 1714 1999 1713.8 2001 1713.6 2003 1713.3 2005 1713 2007 1712.7 2009 1712.4 2011 1712.1 2013 1711.7 2015 1711.3 2017 1710.9 2019 1710.5 2021 1710 2023 1709.5 2025 1709 2027 1708.4 2029 1707.8 2031 1707.2 2033 1706.5 2035 1705.8 2037 1705.1 2039 1704.3 2041 1703.5 2043 1702.6 2045 1701.7 2047 1700.8 2049 1699.8 2051 1698.8 2053 1697.7 2055 1696.6 2057 1695.5 2059 1694.3 2061 1693.1 2063 1691.8 2065 1690.5 2067 1689.2 2069 1687.8 2071 1686.4 2073 1684.9 2075 1683.4 2077 1681.9 2079 1680.3 2081 1678.7 2083 1677 2085 1675.4 2087 1673.7 2089 1672 2091 1670.3 2093 1668.5 2095 1666.7 2097 1665 2099 1663.2 2101 1661.4 2103 1659.6 2105 1657.8 2107 1656 2109 1654.2 2111 1652.4 2113 1650.6 2115 1648.9 2117 1647.2 2119 1645.5 2121 1643.8 2123 1642.2 2125 1640.6 2127 1639 2129 1637.5 2131 1636.1 2133 1634.7 2135 1633.3 2137 1632.1 2139 1630.8 2141 1629.7 2143 1628.6 2145 1627.6 2147 1626.7 2149 1625.8 2151 1625.1 2153 1624.4 2155 1623.8 2157 1623.3 2159 1622.9 2161 1622.6 2163 1622.3 2165 1622.2 2167 1622.1 2169 1622.2 2171 1622.3 2173 1622.6 2175 1622.9 2177 1623.3 2179 1623.8 2181 1624.4 2183 1625.1 2185 1625.9 2187 1626.7 2189 1627.7 2191 1628.7 2193 1629.8 2195 1631 2197 1632.2 2199 1633.5 2201 1634.9 2203 1636.3 2205 1637.8 2207 1639.4 2209 1641 2211 1642.6 2213 1644.3 2215 1646 2217 1647.8 2219 1649.6 2221 1651.4 2223 1653.2 2225 1655.1 2227 1657 2229 1658.9 2231 1660.7 2233 1662.6 2235 1664.5 2237 1666.4 2239 1668.3 2241 1670.2 2243 1672 2245 1673.9 2247 1675.7 2249 1677.5 2251 1679.3 2253 1681.1 2255 1682.8 2257 1684.5 2259 1686.1 2261 1687.8 2263 1689.4 2265 1690.9 2267 1692.5 2269 1693.9 2271 1695.4 2273 1696.8 2275 1698.1 2277 1699.5 2279 1700.7 2281 1702 2283 1703.2 2285 1704.3 2287 1705.4 2289 1706.5 2291 1707.5 2293 1708.5 2295 1709.5 2297 1710.4 2299 1711.3 2301 1712.1 2303 1712.9 2305 1713.7 2307 1714.4 2309 1715.1 2311 1715.7 2313 1716.4 2315 1717 2317 1717.5 2319 1718.1 2321 1718.6 2323 1719.1 2325 1719.5 2327 1719.9 2329 1720.4 2331 1720.7 2333 1721.1 2335 1721.4 2337 1721.8 2339 1722.1 2341 1722.4 2343 1722.6 2345 1722.9 2347 1723.1 2349 1723.4 2351 1723.6 2353 1723.8 2355 1724 2357 1724.2 2359 1724.3 2361 1724.5 2363 1724.7 2365 1724.8 2367 1724.9 2369 1725.1 2371 1725.2 2373 1725.3 2375 1725.4 2377 1725.5 2379 1725.6 2381 1725.7 2383 1725.8 2385 1725.9 2387 1726 2389 1726.1 2389 1726.4 1947 1715.9Z" stroke="none" stroke-width="0" fill="url(#ho)" stroke-linejoin="round" stroke-linecap="round"/>
<path d="M1865 1713.5 1867 1713.5 1869 1713.5 1871 1713.5 1873 1713.5 1875 1713.5 1877 1713.4 1879 1713.4 1881 1713.4 1883 1713.3 1885 1713.3 1887 1713.2 1889 1713.1 1891 1713.1 1893 1713 1895 1712.9 1897 1712.8 1899 1712.7 1901 1712.5 1903 1712.4 1905 1712.2 1907 1712.1 1909 1711.9 1911 1711.7 1913 1711.5 1915 1711.3 1917 1711 1919 1710.8 1921 1710.5 1923 1710.2 1925 1709.9 1927 1709.6 1929 1709.2 1931 1708.8 1933 1708.4 1935 1708 1937 1707.6 1939 1707.1 1941 1706.6 1943 1706.1 1945 1705.6 1947 1705 1949 1704.4 1951 1703.8 1953 1703.2 1955 1702.5 1957 1701.8 1959 1701.1 1961 1700.4 1963 1699.6 1965 1698.8 1967 1698 1969 1697.2 1971 1696.3 1973 1695.4 1975 1694.5 1977 1693.6 1979 1692.6 1981 1691.7 1983 1690.7 1985 1689.7 1987 1688.6 1989 1687.6 1991 1686.5 1993 1685.5 1995 1684.4 1997 1683.3 1999 1682.2 2001 1681.1 2003 1680 2005 1678.9 2007 1677.8 2009 1676.6 2011 1675.5 2013 1674.4 2015 1673.4 2017 1672.3 2019 1671.2 2021 1670.2 2023 1669.2 2025 1668.2 2027 1667.2 2029 1666.2 2031 1665.3 2033 1664.4 2035 1663.5 2037 1662.7 2039 1661.9 2041 1661.2 2043 1660.5 2045 1659.8 2047 1659.2 2049 1658.6 2051 1658.1 2053 1657.6 2055 1657.2 2057 1656.9 2059 1656.5 2061 1656.3 2063 1656.1 2065 1655.9 2067 1655.9 2069 1655.8 2071 1655.9 2073 1656 2075 1656.1 2077 1656.3 2079 1656.6 2081 1656.9 2083 1657.3 2085 1657.7 2087 1658.2 2089 1658.7 2091 1659.3 2093 1659.9 2095 1660.6 2097 1661.3 2099 1662.1 2101 1662.9 2103 1663.8 2105 1664.7 2107 1665.6 2109 1666.6 2111 1667.6 2113 1668.6 2115 1669.7 2117 1670.7 2119 1671.9 2121 1673 2123 1674.1 2125 1675.3 2127 1676.5 2129 1677.6 2131 1678.8 2133 1680 2135 1681.2 2137 1682.4 2139 1683.6 2141 1684.9 2143 1686 2145 1687.2 2147 1688.4 2149 1689.6 2151 1690.8 2153 1691.9 2155 1693 2157 1694.2 2159 1695.3 2161 1696.3 2163 1697.4 2165 1698.4 2167 1699.5 2169 1700.4 2171 1701.4 2173 1702.4 2175 1703.3 2177 1704.2 2179 1705.1 2181 1705.9 2183 1706.7 2185 1707.5 2187 1708.3 2189 1709 2191 1709.8 2193 1710.5 2195 1711.1 2197 1711.8 2199 1712.4 2201 1713 2203 1713.6 2205 1714.1 2207 1714.6 2209 1715.1 2211 1715.6 2213 1716.1 2215 1716.5 2217 1716.9 2219 1717.3 2221 1717.7 2223 1718.1 2225 1718.4 2227 1718.7 2229 1719.1 2231 1719.4 2233 1719.6 2235 1719.9 2237 1720.2 2239 1720.4 2241 1720.6 2243 1720.8 2245 1721.1 2247 1721.3 2249 1721.4 2251 1721.6 2253 1721.8 2255 1721.9 2257 1722.1 2259 1722.2 2261 1722.4 2263 1722.5 2265 1722.6 2267 1722.7 2269 1722.9 2271 1723 2273 1723.1 2275 1723.2 2277 1723.3 2279 1723.3 2281 1723.4 2283 1723.5 2285 1723.6 2287 1723.7 2289 1723.7 2291 1723.8 2293 1723.9 2295 1724" stroke="#f26a6a" stroke-width="4.4" fill="none" stroke-linejoin="round" stroke-linecap="round"/>
<path d="M1947 1715.6 1949 1715.6 1951 1715.7 1953 1715.7 1955 1715.7 1957 1715.7 1959 1715.7 1961 1715.6 1963 1715.6 1965 1715.6 1967 1715.6 1969 1715.5 1971 1715.5 1973 1715.5 1975 1715.4 1977 1715.3 1979 1715.2 1981 1715.2 1983 1715.1 1985 1715 1987 1714.8 1989 1714.7 1991 1714.5 1993 1714.4 1995 1714.2 1997 1714 1999 1713.8 2001 1713.6 2003 1713.3 2005 1713 2007 1712.7 2009 1712.4 2011 1712.1 2013 1711.7 2015 1711.3 2017 1710.9 2019 1710.5 2021 1710 2023 1709.5 2025 1709 2027 1708.4 2029 1707.8 2031 1707.2 2033 1706.5 2035 1705.8 2037 1705.1 2039 1704.3 2041 1703.5 2043 1702.6 2045 1701.7 2047 1700.8 2049 1699.8 2051 1698.8 2053 1697.7 2055 1696.6 2057 1695.5 2059 1694.3 2061 1693.1 2063 1691.8 2065 1690.5 2067 1689.2 2069 1687.8 2071 1686.4 2073 1684.9 2075 1683.4 2077 1681.9 2079 1680.3 2081 1678.7 2083 1677 2085 1675.4 2087 1673.7 2089 1672 2091 1670.3 2093 1668.5 2095 1666.7 2097 1665 2099 1663.2 2101 1661.4 2103 1659.6 2105 1657.8 2107 1656 2109 1654.2 2111 1652.4 2113 1650.6 2115 1648.9 2117 1647.2 2119 1645.5 2121 1643.8 2123 1642.2 2125 1640.6 2127 1639 2129 1637.5 2131 1636.1 2133 1634.7 2135 1633.3 2137 1632.1 2139 1630.8 2141 1629.7 2143 1628.6 2145 1627.6 2147 1626.7 2149 1625.8 2151 1625.1 2153 1624.4 2155 1623.8 2157 1623.3 2159 1622.9 2161 1622.6 2163 1622.3 2165 1622.2 2167 1622.1 2169 1622.2 2171 1622.3 2173 1622.6 2175 1622.9 2177 1623.3 2179 1623.8 2181 1624.4 2183 1625.1 2185 1625.9 2187 1626.7 2189 1627.7 2191 1628.7 2193 1629.8 2195 1631 2197 1632.2 2199 1633.5 2201 1634.9 2203 1636.3 2205 1637.8 2207 1639.4 2209 1641 2211 1642.6 2213 1644.3 2215 1646 2217 1647.8 2219 1649.6 2221 1651.4 2223 1653.2 2225 1655.1 2227 1657 2229 1658.9 2231 1660.7 2233 1662.6 2235 1664.5 2237 1666.4 2239 1668.3 2241 1670.2 2243 1672 2245 1673.9 2247 1675.7 2249 1677.5 2251 1679.3 2253 1681.1 2255 1682.8 2257 1684.5 2259 1686.1 2261 1687.8 2263 1689.4 2265 1690.9 2267 1692.5 2269 1693.9 2271 1695.4 2273 1696.8 2275 1698.1 2277 1699.5 2279 1700.7 2281 1702 2283 1703.2 2285 1704.3 2287 1705.4 2289 1706.5 2291 1707.5 2293 1708.5 2295 1709.5 2297 1710.4 2299 1711.3 2301 1712.1 2303 1712.9 2305 1713.7 2307 1714.4 2309 1715.1 2311 1715.7 2313 1716.4 2315 1717 2317 1717.5 2319 1718.1 2321 1718.6 2323 1719.1 2325 1719.5 2327 1719.9 2329 1720.4 2331 1720.7 2333 1721.1 2335 1721.4 2337 1721.8 2339 1722.1 2341 1722.4 2343 1722.6 2345 1722.9 2347 1723.1 2349 1723.4 2351 1723.6 2353 1723.8 2355 1724 2357 1724.2 2359 1724.3 2361 1724.5 2363 1724.7 2365 1724.8 2367 1724.9 2369 1725.1 2371 1725.2 2373 1725.3 2375 1725.4 2377 1725.5 2379 1725.6 2381 1725.7 2383 1725.8 2385 1725.9 2387 1726 2389 1726.1" stroke="#f4a060" stroke-width="4.4" fill="none" stroke-linejoin="round" stroke-linecap="round"/>
<path d="M2009 1716.3 2011 1716.3 2013 1716.4 2015 1716.4 2017 1716.4 2019 1716.5 2021 1716.5 2023 1716.5 2025 1716.5 2027 1716.5 2029 1716.6 2031 1716.6 2033 1716.6 2035 1716.6 2037 1716.6 2039 1716.6 2041 1716.7 2043 1716.7 2045 1716.7 2047 1716.7 2049 1716.7 2051 1716.7 2053 1716.7 2055 1716.6 2057 1716.6 2059 1716.6 2061 1716.6 2063 1716.5 2065 1716.5 2067 1716.4 2069 1716.4 2071 1716.3 2073 1716.2 2075 1716.1 2077 1716 2079 1715.9 2081 1715.8 2083 1715.6 2085 1715.5 2087 1715.3 2089 1715.1 2091 1714.8 2093 1714.6 2095 1714.3 2097 1714 2099 1713.6 2101 1713.2 2103 1712.8 2105 1712.4 2107 1711.9 2109 1711.3 2111 1710.7 2113 1710.1 2115 1709.4 2117 1708.6 2119 1707.8 2121 1706.9 2123 1705.9 2125 1704.9 2127 1703.8 2129 1702.6 2131 1701.3 2133 1700 2135 1698.6 2137 1697 2139 1695.4 2141 1693.7 2143 1691.9 2145 1690 2147 1688 2149 1685.9 2151 1683.6 2153 1681.3 2155 1678.9 2157 1676.3 2159 1673.7 2161 1670.9 2163 1668.1 2165 1665.1 2167 1662.1 2169 1658.9 2171 1655.7 2173 1652.4 2175 1649 2177 1645.5 2179 1641.9 2181 1638.3 2183 1634.7 2185 1631 2187 1627.2 2189 1623.4 2191 1619.7 2193 1615.9 2195 1612.1 2197 1608.3 2199 1604.5 2201 1600.8 2203 1597.2 2205 1593.6 2207 1590.1 2209 1586.7 2211 1583.4 2213 1580.2 2215 1577.1 2217 1574.2 2219 1571.5 2221 1568.9 2223 1566.5 2225 1564.3 2227 1562.3 2229 1560.6 2231 1559 2233 1557.7 2235 1556.6 2237 1555.8 2239 1555.3 2241 1555 2243 1554.9 2245 1555.1 2247 1555.6 2249 1556.4 2251 1557.3 2253 1558.6 2255 1560 2257 1561.7 2259 1563.7 2261 1565.8 2263 1568.2 2265 1570.7 2267 1573.4 2269 1576.3 2271 1579.4 2273 1582.5 2275 1585.9 2277 1589.3 2279 1592.8 2281 1596.5 2283 1600.2 2285 1603.9 2287 1607.8 2289 1611.6 2291 1615.5 2293 1619.4 2295 1623.3 2297 1627.1 2299 1631 2301 1634.8 2303 1638.6 2305 1642.4 2307 1646.1 2309 1649.7 2311 1653.2 2313 1656.7 2315 1660.1 2317 1663.4 2319 1666.6 2321 1669.7 2323 1672.7 2325 1675.7 2327 1678.5 2329 1681.2 2331 1683.8 2333 1686.3 2335 1688.7 2337 1691 2339 1693.1 2341 1695.2 2343 1697.2 2345 1699.1 2347 1700.8 2349 1702.5 2351 1704.1 2353 1705.6 2355 1707 2357 1708.4 2359 1709.6 2361 1710.8 2363 1711.9 2365 1712.9 2367 1713.9 2369 1714.8 2371 1715.6 2373 1716.4 2375 1717.1 2377 1717.8 2379 1718.4 2381 1719 2383 1719.6 2385 1720.1 2387 1720.5 2389 1721 2391 1721.4 2393 1721.8 2395 1722.1 2397 1722.4 2399 1722.7 2401 1723 2403 1723.3 2405 1723.5 2407 1723.7 2409 1723.9 2411 1724.1 2413 1724.3 2415 1724.5 2417 1724.6 2419 1724.8 2421 1724.9 2423 1725.1 2425 1725.2 2427 1725.3 2429 1725.4 2431 1725.5 2433 1725.7 2435 1725.8 2437 1725.9 2439 1725.9 2441 1726 2443 1726.1 2445 1726.2 2447 1726.3 2449 1726.4 2451 1726.5 2453 1726.5 2455 1726.6 2457 1726.7 2459 1726.8 2461 1726.8 2463 1726.9 2465 1727 2467 1727 2469 1727.1 2471 1727.2 2473 1727.2 2475 1727.3" stroke="#5aa41e" stroke-width="4.2" fill="none" stroke-linejoin="round" stroke-linecap="round"/>
<path d="M1865 1715.5 2479 1730" stroke="#111" stroke-width="4.6" fill="none" stroke-linejoin="round" stroke-linecap="round"/>
<path d="M1897 1710.6 1899 1710.5 1901 1710.4 1903 1710.2 1905 1710 1907 1709.8 1909 1709.6 1911 1709.4 1913 1709.2 1915 1708.9 1917 1708.7 1919 1708.4 1921 1708.1 1923 1707.8 1925 1707.4 1927 1707 1929 1706.7 1931 1706.2 1933 1705.8 1935 1705.3 1937 1704.9 1939 1704.3 1941 1703.8 1943 1703.2 1945 1702.6 1947 1702 1949 1701.3 1951 1700.7 1953 1699.9 1955 1699.2 1957 1698.4 1959 1697.6 1961 1696.7 1963 1695.9 1965 1695 1967 1694 1969 1693 1971 1692 1973 1691 1975 1689.9 1977 1688.8 1979 1687.7 1981 1686.5 1983 1685.3 1985 1684 1987 1682.8 1989 1681.5 1991 1680.1 1993 1678.8 1995 1677.4 1997 1676 1999 1674.5 2001 1673.1 2003 1671.6 2005 1670.1 2007 1668.5 2009 1667 2011 1665.4 2013 1663.8 2015 1662.2 2017 1660.6 2019 1658.9 2021 1657.3 2023 1655.6 2025 1653.9 2027 1652.2 2029 1650.5 2031 1648.8 2033 1647.1 2035 1645.4 2037 1643.7 2039 1641.9 2041 1640.2 2043 1638.5 2045 1636.8 2047 1635.1 2049 1633.3 2051 1631.6 2053 1629.9 2055 1628.2 2057 1626.5 2059 1624.8 2061 1623.2 2063 1621.5 2065 1619.8 2067 1618.2 2069 1616.5 2071 1614.9 2073 1613.3 2075 1611.7 2077 1610.1 2079 1608.5 2081 1606.9 2083 1605.3 2085 1603.7 2087 1602.2 2089 1600.6 2091 1599.1 2093 1597.5 2095 1596 2097 1594.5 2099 1593 2101 1591.4 2103 1589.9 2105 1588.4 2107 1586.8 2109 1585.3 2111 1583.8 2113 1582.2 2115 1580.7 2117 1579.1 2119 1577.5 2121 1575.9 2123 1574.3 2125 1572.7 2127 1571.1 2129 1569.4 2131 1567.7 2133 1566 2135 1564.2 2137 1562.5 2139 1560.7 2141 1558.8 2143 1557 2145 1555.1 2147 1553.1 2149 1551.2 2151 1549.1 2153 1547.1 2155 1545 2157 1542.9 2159 1540.8 2161 1538.6 2163 1536.3 2165 1534.1 2167 1531.8 2169 1529.5 2171 1527.2 2173 1524.9 2175 1522.5 2177 1520.2 2179 1517.8 2181 1515.4 2183 1513.1 2185 1510.8 2187 1508.4 2189 1506.2 2191 1503.9 2193 1501.7 2195 1499.6 2197 1497.5 2199 1495.5 2201 1493.6 2203 1491.8 2205 1490.1 2207 1488.5 2209 1487 2211 1485.6 2213 1484.5 2215 1483.4 2217 1482.6 2219 1481.9 2221 1481.4 2223 1481.1 2225 1481 2227 1481.1 2229 1481.5 2231 1482 2233 1482.8 2235 1483.9 2237 1485.2 2239 1486.7 2241 1488.5 2243 1490.5 2245 1492.8 2247 1495.3 2249 1498 2251 1501 2253 1504.2 2255 1507.6 2257 1511.2 2259 1515 2261 1519 2263 1523.2 2265 1527.5 2267 1531.9 2269 1536.5 2271 1541.2 2273 1546 2275 1550.9 2277 1555.9 2279 1560.9 2281 1566 2283 1571.1 2285 1576.2 2287 1581.4 2289 1586.5 2291 1591.6 2293 1596.7 2295 1601.7 2297 1606.7 2299 1611.6 2301 1616.4 2303 1621.2 2305 1625.8 2307 1630.4 2309 1634.9 2311 1639.2 2313 1643.5 2315 1647.6 2317 1651.6 2319 1655.5 2321 1659.2 2323 1662.8 2325 1666.3 2327 1669.7 2329 1672.9 2331 1675.9 2333 1678.9 2335 1681.7 2337 1684.4 2339 1686.9 2341 1689.4 2343 1691.7 2345 1693.8 2347 1695.9 2349 1697.9 2351 1699.7 2353 1701.4 2355 1703.1 2357 1704.6 2359 1706 2361 1707.4 2363 1708.6 2365 1709.8 2367 1710.9 2369 1711.9 2371 1712.9 2373 1713.8 2375 1714.6 2377 1715.4 2379 1716.1 2381 1716.7 2383 1717.3 2385 1717.9 2387 1718.4 2389 1718.9 2391 1719.4 2393 1719.8 2395 1720.2 2397 1720.5 2399 1720.9 2401 1721.2 2403 1721.5 2405 1721.7 2407 1722 2409 1722.2 2411 1722.4 2413 1722.6 2415 1722.8 2417 1723" stroke="#1e9cf2" stroke-width="4.8" fill="none" stroke-linejoin="round" stroke-linecap="round"/>
<path d="M1447.4 2015.4 1449.9 2012.3 1452.4 2007.7 1454.9 2010.2 1457.4 2015.7 1459.9 2015.9 1462.4 2009.9 1464.9 2007.5 1467.4 2009.9 1469.9 2013.6 1472.4 2013.7 1474.9 2011.1 1477.4 2010.7 1479.9 2011.9 1482.4 2010.9 1484.9 2010.6 1487.4 2012.7 1489.9 2016.2 1492.4 2015.6 1494.9 2014.3 1497.4 2012.3 1499.9 2012.2 1502.4 2014.7 1504.9 2011.9 1507.4 2011.5 1509.9 2014.6 1512.4 2014.1 1514.9 2014.4 1517.4 2018.3 1519.9 2019.6 1522.4 2019.9 1524.9 2013.9 1527.4 2011.3 1529.9 2012.6 1532.4 2013.9 1534.9 2015.6 1537.4 2014.1 1539.9 2015 1542.4 2013.4 1544.9 2012.7 1547.4 2012.5 1549.9 2016.7 1552.4 2017.3 1554.9 2013.1 1557.4 2010.4 1559.9 2007.4 1562.4 2009.4 1564.9 2014.2 1567.4 2017.6 1569.9 2016.6 1572.4 2013.7 1574.9 2017 1577.4 2016.3 1579.9 2010.7 1582.4 2013.9 1584.9 2013.7 1587.4 2013.3 1589.9 2017.5 1592.4 2016.9 1594.9 2015.7 1597.4 2016 1599.9 2013.9 1602.4 2007.2 1604.9 2006.2 1607.4 2012.8 1609.9 2012 1612.4 2010.9 1614.9 2014.8 1617.4 2018.9 1619.9 2015.6 1622.4 2011.8 1624.9 2015.2 1627.4 2017.5 1629.9 2014.2 1632.4 2017 1634.9 2018.3 1637.4 2016.7 1639.9 2018.1 1642.4 2016.7 1644.9 2020.7 1647.4 2021.4 1649.9 2018.2 1652.4 2014.7 1654.9 2013.2 1657.4 2012.3 1659.9 2018 1662.4 2017.8 1664.9 2008.2 1667.4 2015 1669.9 2023.1 1672.4 2019 1674.9 2018.2 1677.4 2017.2 1679.9 2014.3 1682.4 2017.2 1684.9 2019.3 1687.4 2017.3 1689.9 2020 1692.4 2022.6 1694.9 2019.5 1697.4 2015.5 1699.9 2015.6 1702.4 2017.5 1704.9 2017.1 1707.4 2019.5 1709.9 2018.5 1712.4 2017.5 1714.9 2020.4 1717.4 2020.7 1719.9 2023.9 1722.4 2019.6 1724.9 2014.7 1727.4 2015.9 1729.9 2016 1732.4 2023.8 1734.9 2020.6 1737.4 2014.7 1739.9 2019.6 1742.4 2020.5 1744.9 2021.1 1747.4 2017.7 1749.9 2017.9 1752.4 2019.2 1754.9 2014.7 1757.4 2017.9 1759.9 2021.6 1762.4 2018.9 1764.9 2016.2 1767.4 2017.4 1769.9 2019.2 1772.4 2019.3 1774.9 2017.3 1777.4 2012.8 1779.9 2017.8 1782.4 2023.1 1784.9 2017.8 1787.4 2014.1 1789.9 2015.4 1792.4 2017.9 1794.9 2014.9 1797.4 2018.8 1799.9 2024.2 1802.4 2020.7 1804.9 2020.6 1807.4 2021.8 1809.9 2023.4 1812.4 2023.3 1814.9 2023.8 1817.4 2026.8 1819.9 2023.5 1822.4 2019.4 1824.9 2018.2 1827.4 2018.7 1829.9 2019.1 1832.4 2019.7 1834.9 2022 1837.4 2023.1 1839.9 2020.1 1842.4 2021.3 1844.9 2023.2 1847.4 2020.7 1849.9 2020.4 1852.4 2016.4 1854.9 2018.1 1857.4 2018.7 1859.9 2020.5 1862.4 2024.4 1864.9 2025.5 1867.4 2026.8 1869.9 2025.1 1872.4 2026.7 1874.9 2025.2 1877.4 2025.6 1879.9 2025.4 1882.4 2022.8 1884.9 2021.7 1887.4 2022.4 1889.9 2025.3 1892.4 2023.1 1894.9 2019.1 1897.4 2020.1 1899.9 2023.8 1902.4 2023.6 1904.9 2020.7 1907.4 2019.6 1909.9 2021.2 1912.4 2017.2 1914.9 2016.6 1917.4 2025.2 1919.9 2023.8 1922.4 2019.9 1924.9 2026.2 1927.4 2028.1 1929.9 2026.5 1932.4 2024.6 1934.9 2019.8 1937.4 2026.2 1939.9 2029.6 1942.4 2024 1944.9 2026.8 1947.4 2028 1949.9 2024.6 1952.4 2020.5 1954.9 2020 1957.4 2021.9 1959.9 2020.8 1962.4 2019.2 1964.9 2018.4 1967.4 2019.9 1969.9 2020.7 1972.4 2021.7 1974.9 2025 1977.4 2024.7 1979.9 2022.5 1982.4 2025 1984.9 2026.2 1987.4 2019.6 1989.9 2016.5 1992.4 2019.8 1994.9 2019.2 1997.4 2020.2 1999.9 2018 2002.4 2012.1 2004.9 2017.5 2007.4 2022.4 2009.9 2016.5 2012.4 2014.9 2014.9 2020.6 2017.4 2017.5 2019.9 2011.5 2022.4 2010.7 2024.9 2010.4 2027.4 2008.5 2029.9 2008.7 2032.4 2008.4 2034.9 2008.6 2037.4 2015.3 2039.9 2011.9 2042.4 2008 2044.9 2011.5 2047.4 2003.4 2049.9 1999.9 2052.4 2003.5 2054.9 2001.2 2057.4 2001.5 2059.9 1999.9 2062.4 1997.6 2064.9 1996.3 2067.4 1993.8 2069.9 1991.5 2072.4 1995.2 2074.9 1995.3 2077.4 1986.7 2079.9 1989.6 2082.4 1993.9 2084.9 1988 2087.4 1981.9 2089.9 1979.4 2092.4 1982 2094.9 1981.4 2097.4 1975.9 2099.9 1976.8 2102.4 1976.2 2104.9 1972.6 2107.4 1975.4 2109.9 1975.4 2112.4 1971.8 2114.9 1968.6 2117.4 1966.1 2119.9 1962.2 2122.4 1958.6 2124.9 1958 2127.4 1951.6 2129.9 1943.1 2132.4 1941.2 2134.9 1939.6 2137.4 1935.5 2139.9 1930 2142.4 1925.2 2144.9 1923.7 2147.4 1922.6 2149.9 1919.3 2152.4 1910.1 2154.9 1904.2 2157.4 1896.9 2159.9 1891.2 2162.4 1887.7 2164.9 1883 2167.4 1878.4 2169.9 1870.1 2172.4 1862.9 2174.9 1861.2 2177.4 1857.9 2179.9 1851.9 2182.4 1848 2184.9 1837.3 2187.4 1832.8 2189.9 1831.5 2192.4 1826.3 2194.9 1823.4 2197.4 1814.1 2199.9 1807.9 2202.4 1807.3 2204.9 1804.6 2207.4 1802.8 2209.9 1796.9 2212.4 1791.2 2214.9 1791.2 2217.4 1785.5 2219.9 1786.4 2222.4 1787.2 2224.9 1785.6 2227.4 1788.2 2229.9 1790.4 2232.4 1794 2234.9 1792.5 2237.4 1789.9 2239.9 1794.2 2242.4 1803.1 2244.9 1809.2 2247.4 1811.6 2249.9 1815 2252.4 1822.7 2254.9 1832.1 2257.4 1839.3 2259.9 1846 2262.4 1857.6 2264.9 1864.8 2267.4 1873.6 2269.9 1883 2272.4 1887.5 2274.9 1897 2277.4 1906.2 2279.9 1910.8 2282.4 1915.8 2284.9 1923.4 2287.4 1932.2 2289.9 1941.2 2292.4 1947.4 2294.9 1949.6 2297.4 1951.9 2299.9 1959.2 2302.4 1967.9 2304.9 1974.5 2307.4 1977 2309.9 1976 2312.4 1982.8 2314.9 1988.8 2317.4 1987.7 2319.9 1994.7 2322.4 2001.9 2324.9 2001.1 2327.4 2002.2 2329.9 2002.6 2332.4 2006.1 2334.9 2008.5 2337.4 2007.1 2339.9 2008.9 2342.4 2008.7 2344.9 2012.7 2347.4 2019.7 2349.9 2020.2 2352.4 2013.2 2354.9 2011.7 2357.4 2015.5 2359.9 2017.5 2362.4 2015 2364.9 2010.2 2367.4 2014.2 2369.9 2021.3 2372.4 2022.3 2374.9 2025.3 2377.4 2024.2 2379.9 2020 2382.4 2021.8 2384.9 2020.2 2387.4 2023.1 2389.9 2022.3 2392.4 2018 2394.9 2020.3 2397.4 2021.7 2399.9 2025 2402.4 2025.1 2404.9 2024 2407.4 2024.3 2409.9 2026.1 2412.4 2027.2 2414.9 2025.2 2417.4 2022 2419.9 2023 2422.4 2025.3 2424.9 2025.8 2427.4 2028.4 2429.9 2033.2 2432.4 2034.5 2434.9 2034.2 2437.4 2030 2439.9 2029.5 2442.4 2031.7 2444.9 2028.9 2447.4 2029.8 2449.9 2035.4 2452.4 2034.6 2454.9 2031.8 2457.4 2032.2 2459.9 2034.3 2462.4 2032.2 2464.9 2031.9 2467.4 2031.5 2469.9 2030.6 2472.4 2033.2 2474.9 2029.4 2477.4 2029.7 2479.9 2032.9 2482.4 2028 2484.9 2026.5 2487.4 2028.7 2489.9 2027.8 2492.4 2030 2494.9 2030.2 2497.4 2029.4 2499.9 2028.8 2502.4 2028.2 2504.9 2034.3 2507.4 2035.7 2509.9 2028.6" stroke="#7cc8f4" stroke-width="4.2" fill="none" stroke-linejoin="round" stroke-linecap="round"/>
<path d="M2037.3 2023.2 2039.3 2023.1 2041.3 2023.1 2043.3 2023 2045.3 2022.9 2047.3 2022.8 2049.3 2022.7 2051.3 2022.7 2053.3 2022.6 2055.3 2022.5 2057.3 2022.4 2059.3 2022.3 2061.3 2022.1 2063.3 2022 2065.3 2021.9 2067.3 2021.8 2069.3 2021.6 2071.3 2021.5 2073.3 2021.3 2075.3 2021.1 2077.3 2021 2079.3 2020.8 2081.3 2020.6 2083.3 2020.3 2085.3 2020.1 2087.3 2019.8 2089.3 2019.6 2091.3 2019.3 2093.3 2018.9 2095.3 2018.6 2097.3 2018.2 2099.3 2017.8 2101.3 2017.3 2103.3 2016.8 2105.3 2016.3 2107.3 2015.7 2109.3 2015 2111.3 2014.3 2113.3 2013.6 2115.3 2012.8 2117.3 2011.9 2119.3 2010.9 2121.3 2009.8 2123.3 2008.7 2125.3 2007.4 2127.3 2006.1 2129.3 2004.6 2131.3 2003 2133.3 2001.3 2135.3 1999.5 2137.3 1997.5 2139.3 1995.4 2141.3 1993.1 2143.3 1990.7 2145.3 1988.1 2147.3 1985.3 2149.3 1982.4 2151.3 1979.3 2153.3 1976 2155.3 1972.5 2157.3 1968.9 2159.3 1965 2161.3 1961 2163.3 1956.8 2165.3 1952.4 2167.3 1947.8 2169.3 1943 2171.3 1938.1 2173.3 1933 2175.3 1927.8 2177.3 1922.4 2179.3 1916.9 2181.3 1911.2 2183.3 1905.5 2185.3 1899.7 2187.3 1893.8 2189.3 1887.9 2191.3 1882 2193.3 1876.1 2195.3 1870.2 2197.3 1864.4 2199.3 1858.7 2201.3 1853.1 2203.3 1847.7 2205.3 1842.4 2207.3 1837.4 2209.3 1832.7 2211.3 1828.2 2213.3 1824.1 2215.3 1820.4 2217.3 1817.1 2219.3 1814.2 2221.3 1811.8 2223.3 1809.9 2225.3 1808.4 2227.3 1807.6 2229.3 1807.2 2231.3 1807.4 2233.3 1808.2 2235.3 1809.5 2237.3 1811.3 2239.3 1813.6 2241.3 1816.4 2243.3 1819.6 2245.3 1823.2 2247.3 1827.3 2249.3 1831.6 2251.3 1836.3 2253.3 1841.3 2255.3 1846.5 2257.3 1851.9 2259.3 1857.5 2261.3 1863.3 2263.3 1869.1 2265.3 1875 2267.3 1880.9 2269.3 1886.9 2271.3 1892.8 2273.3 1898.7 2275.3 1904.6 2277.3 1910.4 2279.3 1916.1 2281.3 1921.7 2283.3 1927.1 2285.3 1932.4 2287.3 1937.6 2289.3 1942.6 2291.3 1947.5 2293.3 1952.1 2295.3 1956.6 2297.3 1961 2299.3 1965.1 2301.3 1969 2303.3 1972.8 2305.3 1976.3 2307.3 1979.7 2309.3 1982.9 2311.3 1985.9 2313.3 1988.8 2315.3 1991.4 2317.3 1993.9 2319.3 1996.3 2321.3 1998.5 2323.3 2000.6 2325.3 2002.5 2327.3 2004.2 2329.3 2005.9 2331.3 2007.4 2333.3 2008.9 2335.3 2010.2 2337.3 2011.4 2339.3 2012.5 2341.3 2013.6 2343.3 2014.5 2345.3 2015.4 2347.3 2016.2 2349.3 2017 2351.3 2017.7 2353.3 2018.3 2355.3 2018.9 2357.3 2019.4 2359.3 2019.9 2361.3 2020.4 2363.3 2020.8 2365.3 2021.2 2367.3 2021.6 2369.3 2021.9 2371.3 2022.3 2373.3 2022.6 2375.3 2022.9 2377.3 2023.1 2379.3 2023.4 2381.3 2023.6 2383.3 2023.8 2385.3 2024 2387.3 2024.2 2389.3 2024.4 2391.3 2024.6 2393.3 2024.8 2395.3 2024.9 2397.3 2025.1 2399.3 2025.2 2401.3 2025.4 2403.3 2025.5 2405.3 2025.7 2407.3 2025.8 2409.3 2025.9 2411.3 2026 2413.3 2026.1 2415.3 2026.3 2417.3 2026.4 2419.3 2026.5 2421.3 2026.6 2421.3 2030.9 2037.3 2027.5Z" stroke="none" stroke-width="0" fill="url(#hg)" stroke-linejoin="round" stroke-linecap="round"/>
<path d="M1963.3 2026.2 1965.3 2026.2 1967.3 2026.2 1969.3 2026.1 1971.3 2026.1 1973.3 2026.1 1975.3 2026.1 1977.3 2026 1979.3 2026 1981.3 2025.9 1983.3 2025.9 1985.3 2025.8 1987.3 2025.7 1989.3 2025.6 1991.3 2025.5 1993.3 2025.4 1995.3 2025.3 1997.3 2025.1 1999.3 2025 2001.3 2024.8 2003.3 2024.6 2005.3 2024.4 2007.3 2024.2 2009.3 2023.9 2011.3 2023.6 2013.3 2023.3 2015.3 2023 2017.3 2022.6 2019.3 2022.2 2021.3 2021.8 2023.3 2021.4 2025.3 2020.9 2027.3 2020.4 2029.3 2019.8 2031.3 2019.3 2033.3 2018.6 2035.3 2018 2037.3 2017.3 2039.3 2016.6 2041.3 2015.9 2043.3 2015.2 2045.3 2014.4 2047.3 2013.6 2049.3 2012.8 2051.3 2012 2053.3 2011.1 2055.3 2010.3 2057.3 2009.4 2059.3 2008.6 2061.3 2007.8 2063.3 2007 2065.3 2006.1 2067.3 2005.4 2069.3 2004.6 2071.3 2003.9 2073.3 2003.2 2075.3 2002.6 2077.3 2002 2079.3 2001.5 2081.3 2001.1 2083.3 2000.7 2085.3 2000.4 2087.3 2000.2 2089.3 2000.1 2091.3 2000 2093.3 2000 2095.3 2000.2 2097.3 2000.4 2099.3 2000.6 2101.3 2001 2103.3 2001.4 2105.3 2001.9 2107.3 2002.5 2109.3 2003.1 2111.3 2003.8 2113.3 2004.5 2115.3 2005.3 2117.3 2006 2119.3 2006.9 2121.3 2007.7 2123.3 2008.6 2125.3 2009.4 2127.3 2010.3 2129.3 2011.2 2131.3 2012.1 2133.3 2012.9 2135.3 2013.8 2137.3 2014.6 2139.3 2015.5 2141.3 2016.3 2143.3 2017 2145.3 2017.8 2147.3 2018.5 2149.3 2019.2 2151.3 2019.9 2153.3 2020.5 2155.3 2021.1 2157.3 2021.7 2159.3 2022.2 2161.3 2022.7 2163.3 2023.2 2165.3 2023.7 2167.3 2024.1 2169.3 2024.5 2171.3 2024.8 2173.3 2025.2 2175.3 2025.5 2177.3 2025.8 2179.3 2026 2181.3 2026.3 2183.3 2026.5 2185.3 2026.7 2187.3 2026.9 2189.3 2027.1 2191.3 2027.2 2193.3 2027.4 2195.3 2027.5 2197.3 2027.6 2199.3 2027.7 2201.3 2027.8 2203.3 2027.9 2205.3 2028 2207.3 2028.1 2209.3 2028.2 2211.3 2028.2 2213.3 2028.3 2215.3 2028.3 2217.3 2028.4 2219.3 2028.4 2221.3 2028.5 2221.3 2029.2 1963.3 2026.9Z" stroke="none" stroke-width="0" fill="url(#hr)" stroke-linejoin="round" stroke-linecap="round"/>
<path d="M2051.3 2026.5 2053.3 2026.5 2055.3 2026.4 2057.3 2026.3 2059.3 2026.3 2061.3 2026.2 2063.3 2026 2065.3 2025.9 2067.3 2025.8 2069.3 2025.6 2071.3 2025.4 2073.3 2025.2 2075.3 2024.9 2077.3 2024.6 2079.3 2024.3 2081.3 2023.9 2083.3 2023.5 2085.3 2023 2087.3 2022.5 2089.3 2021.9 2091.3 2021.2 2093.3 2020.5 2095.3 2019.7 2097.3 2018.8 2099.3 2017.8 2101.3 2016.8 2103.3 2015.6 2105.3 2014.4 2107.3 2013 2109.3 2011.6 2111.3 2010.1 2113.3 2008.5 2115.3 2006.8 2117.3 2005 2119.3 2003.1 2121.3 2001.2 2123.3 1999.2 2125.3 1997.1 2127.3 1995 2129.3 1992.9 2131.3 1990.7 2133.3 1988.6 2135.3 1986.4 2137.3 1984.3 2139.3 1982.2 2141.3 1980.2 2143.3 1978.3 2145.3 1976.4 2147.3 1974.7 2149.3 1973.2 2151.3 1971.8 2153.3 1970.6 2155.3 1969.5 2157.3 1968.7 2159.3 1968.1 2161.3 1967.8 2163.3 1967.6 2165.3 1967.8 2167.3 1968.1 2169.3 1968.7 2171.3 1969.5 2173.3 1970.5 2175.3 1971.7 2177.3 1973.1 2179.3 1974.7 2181.3 1976.4 2183.3 1978.3 2185.3 1980.2 2187.3 1982.2 2189.3 1984.3 2191.3 1986.5 2193.3 1988.7 2195.3 1990.9 2197.3 1993.1 2199.3 1995.2 2201.3 1997.4 2203.3 1999.5 2205.3 2001.5 2207.3 2003.5 2209.3 2005.4 2211.3 2007.3 2213.3 2009 2215.3 2010.7 2217.3 2012.3 2219.3 2013.7 2221.3 2015.1 2223.3 2016.4 2225.3 2017.6 2227.3 2018.7 2229.3 2019.8 2231.3 2020.7 2233.3 2021.6 2235.3 2022.4 2237.3 2023.1 2239.3 2023.7 2241.3 2024.3 2243.3 2024.8 2245.3 2025.3 2247.3 2025.7 2249.3 2026.1 2251.3 2026.4 2253.3 2026.7 2255.3 2027 2257.3 2027.2 2259.3 2027.4 2261.3 2027.6 2263.3 2027.8 2265.3 2027.9 2267.3 2028.1 2269.3 2028.2 2271.3 2028.3 2273.3 2028.4 2275.3 2028.5 2275.3 2029.6 2051.3 2027.7Z" stroke="none" stroke-width="0" fill="url(#ho)" stroke-linejoin="round" stroke-linecap="round"/>
<path d="M1963.3 2026.2 1965.3 2026.2 1967.3 2026.2 1969.3 2026.1 1971.3 2026.1 1973.3 2026.1 1975.3 2026.1 1977.3 2026 1979.3 2026 1981.3 2025.9 1983.3 2025.9 1985.3 2025.8 1987.3 2025.7 1989.3 2025.6 1991.3 2025.5 1993.3 2025.4 1995.3 2025.3 1997.3 2025.1 1999.3 2025 2001.3 2024.8 2003.3 2024.6 2005.3 2024.4 2007.3 2024.2 2009.3 2023.9 2011.3 2023.6 2013.3 2023.3 2015.3 2023 2017.3 2022.6 2019.3 2022.2 2021.3 2021.8 2023.3 2021.4 2025.3 2020.9 2027.3 2020.4 2029.3 2019.8 2031.3 2019.3 2033.3 2018.6 2035.3 2018 2037.3 2017.3 2039.3 2016.6 2041.3 2015.9 2043.3 2015.2 2045.3 2014.4 2047.3 2013.6 2049.3 2012.8 2051.3 2012 2053.3 2011.1 2055.3 2010.3 2057.3 2009.4 2059.3 2008.6 2061.3 2007.8 2063.3 2007 2065.3 2006.1 2067.3 2005.4 2069.3 2004.6 2071.3 2003.9 2073.3 2003.2 2075.3 2002.6 2077.3 2002 2079.3 2001.5 2081.3 2001.1 2083.3 2000.7 2085.3 2000.4 2087.3 2000.2 2089.3 2000.1 2091.3 2000 2093.3 2000 2095.3 2000.2 2097.3 2000.4 2099.3 2000.6 2101.3 2001 2103.3 2001.4 2105.3 2001.9 2107.3 2002.5 2109.3 2003.1 2111.3 2003.8 2113.3 2004.5 2115.3 2005.3 2117.3 2006 2119.3 2006.9 2121.3 2007.7 2123.3 2008.6 2125.3 2009.4 2127.3 2010.3 2129.3 2011.2 2131.3 2012.1 2133.3 2012.9 2135.3 2013.8 2137.3 2014.6 2139.3 2015.5 2141.3 2016.3 2143.3 2017 2145.3 2017.8 2147.3 2018.5 2149.3 2019.2 2151.3 2019.9 2153.3 2020.5 2155.3 2021.1 2157.3 2021.7 2159.3 2022.2 2161.3 2022.7 2163.3 2023.2 2165.3 2023.7 2167.3 2024.1 2169.3 2024.5 2171.3 2024.8 2173.3 2025.2 2175.3 2025.5 2177.3 2025.8 2179.3 2026 2181.3 2026.3 2183.3 2026.5 2185.3 2026.7 2187.3 2026.9 2189.3 2027.1 2191.3 2027.2 2193.3 2027.4 2195.3 2027.5 2197.3 2027.6 2199.3 2027.7 2201.3 2027.8 2203.3 2027.9 2205.3 2028 2207.3 2028.1 2209.3 2028.2 2211.3 2028.2 2213.3 2028.3 2215.3 2028.3 2217.3 2028.4 2219.3 2028.4 2221.3 2028.5" stroke="#f26a6a" stroke-width="4.4" fill="none" stroke-linejoin="round" stroke-linecap="round"/>
<path d="M2051.3 2026.5 2053.3 2026.5 2055.3 2026.4 2057.3 2026.3 2059.3 2026.3 2061.3 2026.2 2063.3 2026 2065.3 2025.9 2067.3 2025.8 2069.3 2025.6 2071.3 2025.4 2073.3 2025.2 2075.3 2024.9 2077.3 2024.6 2079.3 2024.3 2081.3 2023.9 2083.3 2023.5 2085.3 2023 2087.3 2022.5 2089.3 2021.9 2091.3 2021.2 2093.3 2020.5 2095.3 2019.7 2097.3 2018.8 2099.3 2017.8 2101.3 2016.8 2103.3 2015.6 2105.3 2014.4 2107.3 2013 2109.3 2011.6 2111.3 2010.1 2113.3 2008.5 2115.3 2006.8 2117.3 2005 2119.3 2003.1 2121.3 2001.2 2123.3 1999.2 2125.3 1997.1 2127.3 1995 2129.3 1992.9 2131.3 1990.7 2133.3 1988.6 2135.3 1986.4 2137.3 1984.3 2139.3 1982.2 2141.3 1980.2 2143.3 1978.3 2145.3 1976.4 2147.3 1974.7 2149.3 1973.2 2151.3 1971.8 2153.3 1970.6 2155.3 1969.5 2157.3 1968.7 2159.3 1968.1 2161.3 1967.8 2163.3 1967.6 2165.3 1967.8 2167.3 1968.1 2169.3 1968.7 2171.3 1969.5 2173.3 1970.5 2175.3 1971.7 2177.3 1973.1 2179.3 1974.7 2181.3 1976.4 2183.3 1978.3 2185.3 1980.2 2187.3 1982.2 2189.3 1984.3 2191.3 1986.5 2193.3 1988.7 2195.3 1990.9 2197.3 1993.1 2199.3 1995.2 2201.3 1997.4 2203.3 1999.5 2205.3 2001.5 2207.3 2003.5 2209.3 2005.4 2211.3 2007.3 2213.3 2009 2215.3 2010.7 2217.3 2012.3 2219.3 2013.7 2221.3 2015.1 2223.3 2016.4 2225.3 2017.6 2227.3 2018.7 2229.3 2019.8 2231.3 2020.7 2233.3 2021.6 2235.3 2022.4 2237.3 2023.1 2239.3 2023.7 2241.3 2024.3 2243.3 2024.8 2245.3 2025.3 2247.3 2025.7 2249.3 2026.1 2251.3 2026.4 2253.3 2026.7 2255.3 2027 2257.3 2027.2 2259.3 2027.4 2261.3 2027.6 2263.3 2027.8 2265.3 2027.9 2267.3 2028.1 2269.3 2028.2 2271.3 2028.3 2273.3 2028.4 2275.3 2028.5" stroke="#f4a060" stroke-width="4.4" fill="none" stroke-linejoin="round" stroke-linecap="round"/>
<path d="M2037.3 2023.2 2039.3 2023.1 2041.3 2023.1 2043.3 2023 2045.3 2022.9 2047.3 2022.8 2049.3 2022.7 2051.3 2022.7 2053.3 2022.6 2055.3 2022.5 2057.3 2022.4 2059.3 2022.3 2061.3 2022.1 2063.3 2022 2065.3 2021.9 2067.3 2021.8 2069.3 2021.6 2071.3 2021.5 2073.3 2021.3 2075.3 2021.1 2077.3 2021 2079.3 2020.8 2081.3 2020.6 2083.3 2020.3 2085.3 2020.1 2087.3 2019.8 2089.3 2019.6 2091.3 2019.3 2093.3 2018.9 2095.3 2018.6 2097.3 2018.2 2099.3 2017.8 2101.3 2017.3 2103.3 2016.8 2105.3 2016.3 2107.3 2015.7 2109.3 2015 2111.3 2014.3 2113.3 2013.6 2115.3 2012.8 2117.3 2011.9 2119.3 2010.9 2121.3 2009.8 2123.3 2008.7 2125.3 2007.4 2127.3 2006.1 2129.3 2004.6 2131.3 2003 2133.3 2001.3 2135.3 1999.5 2137.3 1997.5 2139.3 1995.4 2141.3 1993.1 2143.3 1990.7 2145.3 1988.1 2147.3 1985.3 2149.3 1982.4 2151.3 1979.3 2153.3 1976 2155.3 1972.5 2157.3 1968.9 2159.3 1965 2161.3 1961 2163.3 1956.8 2165.3 1952.4 2167.3 1947.8 2169.3 1943 2171.3 1938.1 2173.3 1933 2175.3 1927.8 2177.3 1922.4 2179.3 1916.9 2181.3 1911.2 2183.3 1905.5 2185.3 1899.7 2187.3 1893.8 2189.3 1887.9 2191.3 1882 2193.3 1876.1 2195.3 1870.2 2197.3 1864.4 2199.3 1858.7 2201.3 1853.1 2203.3 1847.7 2205.3 1842.4 2207.3 1837.4 2209.3 1832.7 2211.3 1828.2 2213.3 1824.1 2215.3 1820.4 2217.3 1817.1 2219.3 1814.2 2221.3 1811.8 2223.3 1809.9 2225.3 1808.4 2227.3 1807.6 2229.3 1807.2 2231.3 1807.4 2233.3 1808.2 2235.3 1809.5 2237.3 1811.3 2239.3 1813.6 2241.3 1816.4 2243.3 1819.6 2245.3 1823.2 2247.3 1827.3 2249.3 1831.6 2251.3 1836.3 2253.3 1841.3 2255.3 1846.5 2257.3 1851.9 2259.3 1857.5 2261.3 1863.3 2263.3 1869.1 2265.3 1875 2267.3 1880.9 2269.3 1886.9 2271.3 1892.8 2273.3 1898.7 2275.3 1904.6 2277.3 1910.4 2279.3 1916.1 2281.3 1921.7 2283.3 1927.1 2285.3 1932.4 2287.3 1937.6 2289.3 1942.6 2291.3 1947.5 2293.3 1952.1 2295.3 1956.6 2297.3 1961 2299.3 1965.1 2301.3 1969 2303.3 1972.8 2305.3 1976.3 2307.3 1979.7 2309.3 1982.9 2311.3 1985.9 2313.3 1988.8 2315.3 1991.4 2317.3 1993.9 2319.3 1996.3 2321.3 1998.5 2323.3 2000.6 2325.3 2002.5 2327.3 2004.2 2329.3 2005.9 2331.3 2007.4 2333.3 2008.9 2335.3 2010.2 2337.3 2011.4 2339.3 2012.5 2341.3 2013.6 2343.3 2014.5 2345.3 2015.4 2347.3 2016.2 2349.3 2017 2351.3 2017.7 2353.3 2018.3 2355.3 2018.9 2357.3 2019.4 2359.3 2019.9 2361.3 2020.4 2363.3 2020.8 2365.3 2021.2 2367.3 2021.6 2369.3 2021.9 2371.3 2022.3 2373.3 2022.6 2375.3 2022.9 2377.3 2023.1 2379.3 2023.4 2381.3 2023.6 2383.3 2023.8 2385.3 2024 2387.3 2024.2 2389.3 2024.4 2391.3 2024.6 2393.3 2024.8 2395.3 2024.9 2397.3 2025.1 2399.3 2025.2 2401.3 2025.4 2403.3 2025.5 2405.3 2025.7 2407.3 2025.8 2409.3 2025.9 2411.3 2026 2413.3 2026.1 2415.3 2026.3 2417.3 2026.4 2419.3 2026.5 2421.3 2026.6" stroke="#5aa41e" stroke-width="4.2" fill="none" stroke-linejoin="round" stroke-linecap="round"/>
<path d="M1921.3 2028 2428.5 2032.5" stroke="#111" stroke-width="4.6" fill="none" stroke-linejoin="round" stroke-linecap="round"/>
<path d="M1925.3 2022.5 1927.3 2022.5 1929.3 2022.5 1931.3 2022.5 1933.3 2022.4 1935.3 2022.4 1937.3 2022.4 1939.3 2022.4 1941.3 2022.3 1943.3 2022.3 1945.3 2022.3 1947.3 2022.2 1949.3 2022.2 1951.3 2022.2 1953.3 2022.1 1955.3 2022.1 1957.3 2022 1959.3 2022 1961.3 2021.9 1963.3 2021.9 1965.3 2021.8 1967.3 2021.8 1969.3 2021.7 1971.3 2021.6 1973.3 2021.6 1975.3 2021.5 1977.3 2021.4 1979.3 2021.3 1981.3 2021.2 1983.3 2021.1 1985.3 2020.9 1987.3 2020.8 1989.3 2020.7 1991.3 2020.5 1993.3 2020.3 1995.3 2020.1 1997.3 2019.9 1999.3 2019.7 2001.3 2019.4 2003.3 2019.2 2005.3 2018.9 2007.3 2018.5 2009.3 2018.2 2011.3 2017.8 2013.3 2017.4 2015.3 2017 2017.3 2016.5 2019.3 2016 2021.3 2015.5 2023.3 2015 2025.3 2014.4 2027.3 2013.7 2029.3 2013 2031.3 2012.3 2033.3 2011.6 2035.3 2010.8 2037.3 2010 2039.3 2009.1 2041.3 2008.3 2043.3 2007.3 2045.3 2006.4 2047.3 2005.4 2049.3 2004.4 2051.3 2003.3 2053.3 2002.3 2055.3 2001.2 2057.3 2000.1 2059.3 1999 2061.3 1997.9 2063.3 1996.7 2065.3 1995.6 2067.3 1994.4 2069.3 1993.3 2071.3 1992.2 2073.3 1991 2075.3 1989.9 2077.3 1988.7 2079.3 1987.6 2081.3 1986.5 2083.3 1985.4 2085.3 1984.3 2087.3 1983.2 2089.3 1982.1 2091.3 1981 2093.3 1979.9 2095.3 1978.8 2097.3 1977.6 2099.3 1976.4 2101.3 1975.1 2103.3 1973.8 2105.3 1972.5 2107.3 1971 2109.3 1969.4 2111.3 1967.8 2113.3 1966 2115.3 1964.1 2117.3 1962.1 2119.3 1960 2121.3 1957.7 2123.3 1955.3 2125.3 1952.7 2127.3 1949.9 2129.3 1947.1 2131.3 1944 2133.3 1940.8 2135.3 1937.5 2137.3 1934.1 2139.3 1930.5 2141.3 1926.9 2143.3 1923.1 2145.3 1919.2 2147.3 1915.3 2149.3 1911.3 2151.3 1907.2 2153.3 1903.1 2155.3 1899 2157.3 1894.9 2159.3 1890.8 2161.3 1886.7 2163.3 1882.6 2165.3 1878.6 2167.3 1874.5 2169.3 1870.5 2171.3 1866.6 2173.3 1862.6 2175.3 1858.7 2177.3 1854.8 2179.3 1850.9 2181.3 1847.1 2183.3 1843.2 2185.3 1839.3 2187.3 1835.5 2189.3 1831.6 2191.3 1827.8 2193.3 1824 2195.3 1820.3 2197.3 1816.6 2199.3 1813 2201.3 1809.4 2203.3 1806 2205.3 1802.7 2207.3 1799.6 2209.3 1796.7 2211.3 1794 2213.3 1791.6 2215.3 1789.4 2217.3 1787.6 2219.3 1786.2 2221.3 1785.1 2223.3 1784.5 2225.3 1784.3 2227.3 1784.5 2229.3 1785.3 2231.3 1786.5 2233.3 1788.1 2235.3 1790.3 2237.3 1792.9 2239.3 1796 2241.3 1799.5 2243.3 1803.4 2245.3 1807.7 2247.3 1812.4 2249.3 1817.3 2251.3 1822.6 2253.3 1828.1 2255.3 1833.8 2257.3 1839.7 2259.3 1845.7 2261.3 1851.9 2263.3 1858.2 2265.3 1864.5 2267.3 1870.8 2269.3 1877.1 2271.3 1883.5 2273.3 1889.7 2275.3 1895.9 2277.3 1902.1 2279.3 1908.1 2281.3 1914 2283.3 1919.7 2285.3 1925.3 2287.3 1930.8 2289.3 1936 2291.3 1941.2 2293.3 1946.1 2295.3 1950.8 2297.3 1955.3 2299.3 1959.7 2301.3 1963.8 2303.3 1967.7 2305.3 1971.5 2307.3 1975.1 2309.3 1978.4 2311.3 1981.6 2313.3 1984.6 2315.3 1987.4 2317.3 1990 2319.3 1992.5 2321.3 1994.8 2323.3 1997 2325.3 1999 2327.3 2000.9 2329.3 2002.6 2331.3 2004.2 2333.3 2005.7 2335.3 2007.1 2337.3 2008.4 2339.3 2009.6 2341.3 2010.7 2343.3 2011.7 2345.3 2012.6 2347.3 2013.5 2349.3 2014.3 2351.3 2015 2353.3 2015.7 2355.3 2016.3 2357.3 2016.9 2359.3 2017.4 2361.3 2017.9 2363.3 2018.4 2365.3 2018.8 2367.3 2019.2 2369.3 2019.6 2371.3 2019.9 2373.3 2020.3 2375.3 2020.6 2377.3 2020.8 2379.3 2021.1 2381.3 2021.4 2383.3 2021.6 2385.3 2021.8 2387.3 2022 2389.3 2022.2 2391.3 2022.4 2393.3 2022.6 2395.3 2022.8 2397.3 2022.9 2399.3 2023.1 2401.3 2023.3 2403.3 2023.4 2405.3 2023.6 2407.3 2023.7 2409.3 2023.8 2411.3 2024 2413.3 2024.1 2415.3 2024.2 2417.3 2024.3 2419.3 2024.5 2421.3 2024.6 2423.3 2024.7 2425.3 2024.8 2427.3 2024.9" stroke="#1e9cf2" stroke-width="4.8" fill="none" stroke-linejoin="round" stroke-linecap="round"/>
</g>
<rect x="1447.4" y="1151.8" width="1063" height="897.4" fill="none" stroke="#000" stroke-width="4.4"/>
<path d="M1447.4 1462.3H2510.4M1447.4 1755.2H2510.4" stroke="#000" stroke-width="4.4" fill="none"/>
<path d="M1584.4 1462.3v-17M1797.7 1462.3v-17M2011 1462.3v-17M2224.3 1462.3v-17M2437.6 1462.3v-17" stroke="#000" stroke-width="4.2" stroke-linecap="round" fill="none"/>
<path d="M1477.8 1462.3v-10.5M1691.1 1462.3v-10.5M1904.4 1462.3v-10.5M2117.7 1462.3v-10.5M2331 1462.3v-10.5" stroke="#000" stroke-width="4.2" stroke-linecap="round" fill="none"/>
<path d="M1584.4 1755.2v-17M1797.7 1755.2v-17M2011 1755.2v-17M2224.3 1755.2v-17M2437.6 1755.2v-17" stroke="#000" stroke-width="4.2" stroke-linecap="round" fill="none"/>
<path d="M1477.8 1755.2v-10.5M1691.1 1755.2v-10.5M1904.4 1755.2v-10.5M2117.7 1755.2v-10.5M2331 1755.2v-10.5" stroke="#000" stroke-width="4.2" stroke-linecap="round" fill="none"/>
<path d="M1584.4 2049.2v-17M1797.7 2049.2v-17M2011 2049.2v-17M2224.3 2049.2v-17M2437.6 2049.2v-17" stroke="#000" stroke-width="4.2" stroke-linecap="round" fill="none"/>
<path d="M1477.8 2049.2v-10.5M1691.1 2049.2v-10.5M1904.4 2049.2v-10.5M2117.7 2049.2v-10.5M2331 2049.2v-10.5" stroke="#000" stroke-width="4.2" stroke-linecap="round" fill="none"/>
<text transform="translate(1584.4,2116.2) scale(1.099,1)" x="-45" y="0" font-size="60" textLength="90" lengthAdjust="spacing">540</text>
<text transform="translate(1797.7,2116.2) scale(1.099,1)" x="-45" y="0" font-size="60" textLength="90" lengthAdjust="spacing">537</text>
<text transform="translate(2011,2116.2) scale(1.099,1)" x="-45" y="0" font-size="60" textLength="90" lengthAdjust="spacing">534</text>
<text transform="translate(2224.3,2116.2) scale(1.099,1)" x="-45" y="0" font-size="60" textLength="90" lengthAdjust="spacing">531</text>
<text transform="translate(2437.6,2116.2) scale(1.099,1)" x="-45" y="0" font-size="60" textLength="90" lengthAdjust="spacing">528</text>
<text transform="translate(1978.9,2202.5) scale(1.130,1)" x="-242.7" y="0" font-size="60" textLength="485.5" lengthAdjust="spacing">Binding energy/eV</text>
<text transform="translate(1387.6,1600.5) rotate(-90) scale(1.130,1)" x="-251.6" y="0" font-size="60" textLength="503.2" lengthAdjust="spacing">Intensity/arb. units</text>
<text transform="translate(1337,1201) scale(1.130,1)" x="0" y="0" font-size="60" textLength="71.3" lengthAdjust="spacing">(e)</text>
<text transform="translate(1473,1223) scale(1.130,1)" x="0" y="0" font-size="60" textLength="117" lengthAdjust="spacing">O 1s</text>
<text transform="translate(2136,1295) scale(1.09,1)" font-size="60"><tspan x="0" y="0" font-size="42" textLength="32.9" lengthAdjust="spacingAndGlyphs">O</tspan><tspan x="32.9" y="7" font-size="30" textLength="22.7" lengthAdjust="spacingAndGlyphs">V</tspan></text>
<text transform="translate(2213.7,1338) scale(1.071,1)" x="0" y="0" font-size="42" textLength="109.7" lengthAdjust="spacing">O—M</text>
<text transform="translate(1976,1383.7) scale(1.074,1)" x="0" y="0" font-size="42" textLength="102.7" lengthAdjust="spacing">O—H</text>
<text transform="translate(2131.5,1612) scale(1.09,1)" font-size="60"><tspan x="0" y="0" font-size="42" textLength="32.9" lengthAdjust="spacingAndGlyphs">O</tspan><tspan x="32.9" y="7" font-size="30" textLength="22.7" lengthAdjust="spacingAndGlyphs">V</tspan></text>
<text transform="translate(2184.8,1663.9) scale(1.071,1)" x="0" y="0" font-size="42" textLength="109.7" lengthAdjust="spacing">O—M</text>
<text transform="translate(1913.7,1649.6) scale(1.074,1)" x="0" y="0" font-size="42" textLength="102.7" lengthAdjust="spacing">O—H</text>
<text transform="translate(2084.3,1916.7) scale(1.09,1)" font-size="60"><tspan x="0" y="0" font-size="42" textLength="32.9" lengthAdjust="spacingAndGlyphs">O</tspan><tspan x="32.9" y="7" font-size="30" textLength="22.7" lengthAdjust="spacingAndGlyphs">V</tspan></text>
<text transform="translate(2169.6,1967) scale(1.071,1)" x="0" y="0" font-size="42" textLength="109.7" lengthAdjust="spacing">O—M</text>
<text transform="translate(1956.4,1981.5) scale(1.074,1)" x="0" y="0" font-size="42" textLength="102.7" lengthAdjust="spacing">O—H</text>
<rect x="2896.8" y="1152.3" width="1063.2" height="1061.9" fill="#727272"/>
<rect x="2896.8" y="1152.3" width="1063.2" height="1061.9" fill="#727272" filter="url(#tem)"/>
<g clip-path="url(#cf)">
<ellipse cx="3474" cy="1241" rx="58" ry="88" transform="rotate(12 3474 1241)" stroke="#fff" stroke-width="4.6" fill="none" stroke-dasharray="17 8" stroke-linecap="butt"/>
<ellipse cx="3116" cy="1140" rx="47" ry="56" stroke="#fff" stroke-width="4.6" fill="none" stroke-dasharray="17 8" stroke-linecap="butt"/>
<ellipse cx="3862" cy="1674" rx="36" ry="74" transform="rotate(-27 3862 1674)" stroke="#fff" stroke-width="4.6" fill="none" stroke-dasharray="17 8" stroke-linecap="butt"/>
<path d="M3775 1150C3790 1180 3815 1192 3845 1190C3875 1188 3895 1200 3905 1220C3918 1240 3945 1230 3962 1200" stroke="#fff" stroke-width="4.6" fill="none" stroke-dasharray="17 8" stroke-linecap="butt"/>
<path d="M3962 1993C3925 1992 3895 2003 3872 2035C3850 2068 3828 2100 3821 2125C3815 2150 3830 2180 3855 2218" stroke="#fff" stroke-width="4.6" fill="none" stroke-dasharray="17 8" stroke-linecap="butt"/>
<path d="M2935.4 1628.6L3066.7 1615.4M2935.4 1643.7L3066.7 1630.5" stroke="#fff" stroke-width="4.4" fill="none" stroke-linecap="round"/>
<path d="M3566.5 1713L3697.3 1701.2M3566.5 1724.7L3697.3 1713" stroke="#fff" stroke-width="4.4" fill="none" stroke-linecap="round"/>
<path d="M3653 2151.4L3750 2056.2M3663.3 2159.9L3758.5 2064.7" stroke="#fff" stroke-width="4.4" fill="none" stroke-linecap="round"/>
<path d="M2989.9 1549.8L2997.7 1612M3006.5 1593.8L2997.7 1612L2984.7 1596.5" stroke="#fff" stroke-width="4.2" fill="none" stroke-linecap="round" stroke-linejoin="round"/>
<path d="M3012.2 1704L3007.6 1648.3M2998 1666.1L3007.6 1648.3L3020 1664.3" stroke="#fff" stroke-width="4.2" fill="none" stroke-linecap="round" stroke-linejoin="round"/>
<path d="M3619.5 1631.8L3628 1694M3636.6 1675.7L3628 1694L3614.8 1678.6" stroke="#fff" stroke-width="4.2" fill="none" stroke-linecap="round" stroke-linejoin="round"/>
<path d="M3641.2 1787.8L3634.5 1730M3625.5 1748.2L3634.5 1730L3647.4 1745.6" stroke="#fff" stroke-width="4.2" fill="none" stroke-linecap="round" stroke-linejoin="round"/>
<path d="M3641.2 2041L3695.6 2093.6M3691 2073.9L3695.6 2093.6L3675.7 2089.7" stroke="#fff" stroke-width="4.2" fill="none" stroke-linecap="round" stroke-linejoin="round"/>
<path d="M3770.4 2168.4L3717.7 2119.1M3722.6 2138.7L3717.7 2119.1L3737.6 2122.7" stroke="#fff" stroke-width="4.2" fill="none" stroke-linecap="round" stroke-linejoin="round"/>
<rect x="2930.8" y="2144" width="262.6" height="34" fill="#fff"/>
</g>
<text transform="translate(3079.8,1523.5) scale(1.130,1)" x="0" y="0" font-size="60" textLength="405" lengthAdjust="spacing" fill="#fff">0.147 nm (42-4)</text>
<text transform="translate(3242,2016) scale(1.130,1)" x="0" y="0" font-size="60" textLength="385.6" lengthAdjust="spacing" fill="#fff">0.239 nm (400)</text>
<text transform="translate(2980,2116.4) scale(1.130,1)" x="0" y="0" font-size="60" textLength="129.6" lengthAdjust="spacing" fill="#fff">5 nm</text>
<text transform="translate(2797,1201.5) scale(1.130,1)" x="0" y="0" font-size="60" textLength="63.2" lengthAdjust="spacing">(f)</text>
<g clip-path="url(#cg)" filter="url(#soft)">
<path d="M124.6 2424.5 126.6 2424.4 128.6 2424.3 130.6 2424.4 132.6 2424.1 134.6 2424.1 136.6 2424.2 138.6 2424.1 140.6 2424 142.6 2423.9 144.6 2423.6 146.6 2423.4 148.6 2423.2 150.6 2423 152.6 2423.2 154.6 2423 156.6 2423.1 158.6 2423.3 160.6 2423.5 162.6 2423.7 164.6 2423.8 166.6 2423.9 168.6 2423.9 170.6 2423.9 172.6 2423.9 174.6 2423.8 176.6 2423.8 178.6 2423.6 180.6 2423.9 182.6 2423.7 184.6 2423.8 186.6 2423.7 188.6 2423.8 190.6 2424.1 192.6 2423.7 194.6 2424 196.6 2423.8 198.6 2424 200.6 2423.8 202.6 2423.8 204.6 2423.7 206.6 2423.6 208.6 2423.5 210.6 2423.7 212.6 2423.6 214.6 2423.7 216.6 2423.8 218.6 2424.1 220.6 2423.7 222.6 2424 224.6 2424.3 226.6 2424.3 228.6 2424.6 230.6 2424.3 232.6 2424.8 234.6 2424.8 236.6 2424.9 238.6 2424.7 240.6 2424.9 242.6 2424.7 244.6 2424.7 246.6 2425 248.6 2424.8 250.6 2424.4 252.6 2424.5 254.6 2424.5 256.6 2424.5 258.6 2424.3 260.6 2424.5 262.6 2424.4 264.6 2424.4 266.6 2424.4 268.6 2424.3 270.6 2424.6 272.6 2424.5 274.6 2424.3 276.6 2424.6 278.6 2424.7 280.6 2424.7 282.6 2424.6 284.6 2424.7 286.6 2424.4 288.6 2424.5 290.6 2424.8 292.6 2424.7 294.6 2424.9 296.6 2424.8 298.6 2424.6 300.6 2424.7 302.6 2424.7 304.6 2424.7 306.6 2424.9 308.6 2424.9 310.6 2424.7 312.6 2424.6 314.6 2424.6 316.6 2424.4 318.6 2424.5 320.6 2424.6 322.6 2424.7 324.6 2424.6 326.6 2424.6 328.6 2424.7 330.6 2424.8 332.6 2424.7 334.6 2424.6 336.6 2424.4 338.6 2424.6 340.6 2424.6 342.6 2424.4 344.6 2424.1 346.6 2424 348.6 2424.1 350.6 2424.1 352.6 2424 354.6 2424.1 356.6 2424.1 358.6 2423.8 360.6 2423.9 362.6 2423.9 364.6 2424.1 366.6 2424.2 368.6 2424.2 370.6 2424.1 372.6 2424.1 374.6 2424.2 376.6 2424.4 378.6 2424.4 380.6 2424.3 382.6 2424.5 384.6 2424.9 386.6 2424.9 388.6 2424.7 390.6 2424.8 392.6 2424.9 394.6 2425.1 396.6 2424.9 398.6 2425 400.6 2424.9 402.6 2424.8 404.6 2424.9 406.6 2425 408.6 2424.9 410.6 2425.1 412.6 2425.3 414.6 2425.2 416.6 2425.2 418.6 2425.2 420.6 2425.1 422.6 2425.1 424.6 2425.1 426.6 2425.2 428.6 2425.1 430.6 2425.2 432.6 2425 434.6 2425 436.6 2425.2 438.6 2425.2 440.6 2425.2 442.6 2425.2 444.6 2425.2 446.6 2425 448.6 2425.2 450.6 2425.2 452.6 2425.2 454.6 2425.5 456.6 2425.6 458.6 2425.8 460.6 2425.8 462.6 2425.5 464.6 2425.6 466.6 2425.6 468.6 2425.7 470.6 2425.7 472.6 2425.6 474.6 2425.5 476.6 2425.4 478.6 2425.4 480.6 2425.6 482.6 2425.7 484.6 2425.7 486.6 2425.8 488.6 2425.7 490.6 2425.7 492.6 2425.7 494.6 2425.7 496.6 2425.6 498.6 2425.7 500.6 2425.8 502.6 2426.3 504.6 2426.2 506.6 2426.4 508.6 2426.5 510.6 2426.6 512.6 2427.1 514.6 2427.2 516.6 2427.3 518.6 2427.2 520.6 2427.4 522.6 2427.6 524.6 2427.7 526.6 2428 528.6 2428.6 530.6 2428.8 532.6 2429.4 534.6 2430 536.6 2431 538.6 2431.8 540.6 2433.5 542.6 2435.5 544.6 2438.2 546.6 2441.1 548.6 2444.3 550.6 2447.6 552.6 2450.5 554.6 2452.7 556.6 2453.4 558.6 2452.4 560.6 2449.9 562.6 2447 564.6 2444.2 566.6 2441.4 568.6 2438.8 570.6 2437.2 572.6 2435.7 574.6 2434.8 576.6 2434.1 578.6 2434 580.6 2434 582.6 2434.2 584.6 2434.3 586.6 2434.6 588.6 2435.3 590.6 2436 592.6 2437.1 594.6 2438.3 596.6 2440.1 598.6 2441.8 600.6 2444.1 602.6 2447.1 604.6 2450.7 606.6 2455.5 608.6 2461.1 610.6 2467.8 612.6 2475.7 614.6 2485 616.6 2495.5 618.6 2507 620.6 2519.4 622.6 2531.6 624.6 2543.2 626.6 2553.2 628.6 2560.1 630.6 2562.6 632.6 2559 634.6 2552 636.6 2542.6 638.6 2532.1 640.6 2521.6 642.6 2511.3 644.6 2502 646.6 2493.6 648.6 2486.7 650.6 2481.2 652.6 2476.9 654.6 2473.2 656.6 2470.5 658.6 2468.6 660.6 2466.6 662.6 2465.1 664.6 2463.4 666.6 2461.4 668.6 2459.7 670.6 2457.9 672.6 2455.9 674.6 2453.8 676.6 2451.5 678.6 2449.6 680.6 2447.4 682.6 2445.5 684.6 2443.5 686.6 2442.1 688.6 2440.6 690.6 2439.1 692.6 2437.7 694.6 2436.7 696.6 2435.4 698.6 2434.4 700.6 2433.5 702.6 2432.6 704.6 2432 706.6 2431.5 708.6 2430.9 710.6 2430.4 712.6 2429.9 714.6 2429.5 716.6 2429.2 718.6 2429 720.6 2428.8 722.6 2428.6 724.6 2428.4 726.6 2428.1 728.6 2427.7 730.6 2427.4 732.6 2427.2 734.6 2427.1 736.6 2426.7 738.6 2426.6 740.6 2426.5 742.6 2426.2 744.6 2426.1 746.6 2425.8 748.6 2425.9 750.6 2425.8 752.6 2425.9 754.6 2426.2 756.6 2426.7 758.6 2427 760.6 2427.8 762.6 2428.6 764.6 2429.8 766.6 2431 768.6 2432.3 770.6 2433 772.6 2433 774.6 2432.2 776.6 2431.1 778.6 2429.6 780.6 2428.1 782.6 2427.1 784.6 2426.1 786.6 2425.2 788.6 2424.5 790.6 2424.1 792.6 2423.6 794.6 2423.4 796.6 2423.4 798.6 2423.4 800.6 2423.1 802.6 2422.8 804.6 2422.6 806.6 2422.4 808.6 2422.3 810.6 2422.1 812.6 2422.1 814.6 2421.9 816.6 2422 818.6 2421.8 820.6 2421.6 822.6 2421.5 824.6 2421.7 826.6 2421.6 828.6 2421.5 830.6 2421.3 832.6 2421.2 834.6 2421 836.6 2420.8 838.6 2420.5 840.6 2420.4 842.6 2420.6 844.6 2420.5 846.6 2420.3 848.6 2420.3 850.6 2420.4 852.6 2420.5 854.6 2420.3 856.6 2420.1 858.6 2419.9 860.6 2420.2 862.6 2420.2 864.6 2419.9 866.6 2419.8 868.6 2419.7 870.6 2419.8 872.6 2419.7 874.6 2419.6 876.6 2419.2 878.6 2419.2 880.6 2419.2 882.6 2419.1 884.6 2419.2 886.6 2419.1 888.6 2418.7 890.6 2418.5 892.6 2418.1 894.6 2418.3 896.6 2418.4 898.6 2418.6 900.6 2418.8 902.6 2418.8 904.6 2418.8 906.6 2419 908.6 2419.2 910.6 2419.1 912.6 2419.3 914.6 2419.4 916.6 2419.6 918.6 2419.9 920.6 2420.1 922.6 2420.1 924.6 2420 926.6 2420.1 928.6 2420.3 930.6 2420.4 932.6 2420.5 934.6 2420.4 936.6 2420.5 938.6 2420.5 940.6 2420.5 942.6 2420.6 944.6 2420.8 946.6 2420.8 948.6 2420.7 950.6 2420.8 952.6 2420.9 954.6 2421.2 956.6 2421.5 958.6 2421.5 960.6 2421.4 962.6 2421.6 964.6 2421.6 966.6 2421.9 968.6 2421.9 970.6 2421.9 972.6 2422.1 974.6 2422.3 976.6 2422.2 978.6 2422.3 980.6 2422.4 982.6 2422.6 984.6 2422.8 986.6 2422.9 988.6 2423.1 990.6 2423.2 992.6 2423.2 994.6 2423.1 996.6 2423 998.6 2423.1 1000.6 2423.3 1002.6 2423.3 1004.6 2423.5 1006.6 2423.8 1008.6 2424.5 1010.6 2424.8 1012.6 2424.9 1014.6 2425.4 1016.6 2425.9 1018.6 2426.2 1020.6 2426.6 1022.6 2426.7 1024.6 2427.1 1026.6 2427.6 1028.6 2428 1030.6 2428.6 1032.6 2429.3 1034.6 2430.1 1036.6 2430.9 1038.6 2431.6 1040.6 2432.1 1042.6 2432.9 1044.6 2433.6 1046.6 2434.1 1048.6 2434.7 1050.6 2435.4 1052.6 2436 1054.6 2436.5 1056.6 2437 1058.6 2437.6 1060.6 2437.8 1062.6 2438.2 1064.6 2438.6 1066.6 2438.5 1068.6 2438.5 1070.6 2438.3 1072.6 2438.3 1074.6 2437.9 1076.6 2437.7 1078.6 2437.5 1080.6 2437.5 1082.6 2437.4 1084.6 2437.3 1086.6 2437.5 1088.6 2437.7 1090.6 2438.1 1092.6 2439 1094.6 2440.3 1096.6 2441.7 1098.6 2443.4 1100.6 2445.6 1102.6 2448 1104.6 2450.3 1106.6 2452.5 1108.6 2454.2 1110.6 2455.1 1112.6 2454.2 1114.6 2452.1 1116.6 2449.5 1118.6 2446.6 1120.6 2443.3 1122.6 2440.5 1124.6 2438.1 1126.6 2435.6 1128.6 2433.6 1130.6 2432 1132.6 2430.4 1134.6 2429.2 1136.6 2428.5 1138.6 2428 1140.6 2427.4 1142.6 2426.9 1144.6 2426.4 1146.6 2426.5 1148.6 2426.3 1150.6 2426 1152.6 2425.6 1154.6 2425.3 1156.6 2425.2 1158.6 2425.1 1160.6 2425.3 1162.6 2425.3 1164.6 2425.2 1166.6 2425.2 1168.6 2425.1 1170.6 2425 1172.6 2425.1 1174.6 2425.1 1176.6 2425.1 1178.6 2425 1180.6 2424.9 1182.6 2425.1 1184.6 2425.2 1186.6 2425" stroke="#8a8a10" stroke-width="9.2" fill="none" stroke-linejoin="round" stroke-linecap="round"/>
<path d="M124.6 2566.2 126.6 2566.2 128.6 2566.2 130.6 2566.2 132.6 2566 134.6 2566 136.6 2566.1 138.6 2566.3 140.6 2566.3 142.6 2566.2 144.6 2566.2 146.6 2566.2 148.6 2566.3 150.6 2566.3 152.6 2566.2 154.6 2566.2 156.6 2566.4 158.6 2566.3 160.6 2566.3 162.6 2566.3 164.6 2566.4 166.6 2566.2 168.6 2566.2 170.6 2566.5 172.6 2566.6 174.6 2566.7 176.6 2566.7 178.6 2566.7 180.6 2566.6 182.6 2566.6 184.6 2566.5 186.6 2566.5 188.6 2566.5 190.6 2566.4 192.6 2566.2 194.6 2566.2 196.6 2566.1 198.6 2566.3 200.6 2566.2 202.6 2566.2 204.6 2566.3 206.6 2566.5 208.6 2566.3 210.6 2566 212.6 2566 214.6 2565.8 216.6 2565.5 218.6 2565.6 220.6 2565.6 222.6 2565.7 224.6 2565.8 226.6 2565.8 228.6 2565.8 230.6 2565.9 232.6 2566.1 234.6 2566.1 236.6 2566.2 238.6 2566.2 240.6 2566.3 242.6 2566.3 244.6 2566 246.6 2566 248.6 2566.1 250.6 2566.1 252.6 2566.2 254.6 2566.4 256.6 2566.6 258.6 2566.6 260.6 2566.8 262.6 2566.8 264.6 2566.9 266.6 2566.8 268.6 2566.9 270.6 2566.8 272.6 2566.7 274.6 2566.7 276.6 2566.5 278.6 2566.5 280.6 2566.4 282.6 2566.4 284.6 2566.6 286.6 2566.5 288.6 2566.6 290.6 2566.6 292.6 2566.4 294.6 2566.3 296.6 2566.4 298.6 2566.4 300.6 2566.1 302.6 2566 304.6 2565.8 306.6 2565.8 308.6 2565.7 310.6 2565.6 312.6 2565.6 314.6 2565.5 316.6 2565.7 318.6 2565.6 320.6 2565.7 322.6 2565.6 324.6 2565.9 326.6 2565.8 328.6 2565.6 330.6 2565.6 332.6 2565.7 334.6 2565.8 336.6 2565.7 338.6 2565.6 340.6 2565.9 342.6 2566 344.6 2566.2 346.6 2566.3 348.6 2566.3 350.6 2566.3 352.6 2566.3 354.6 2566.6 356.6 2566.6 358.6 2566.7 360.6 2566.8 362.6 2566.8 364.6 2566.8 366.6 2566.9 368.6 2567.1 370.6 2567 372.6 2567.4 374.6 2567.3 376.6 2567.6 378.6 2567.5 380.6 2567.5 382.6 2567.2 384.6 2567.1 386.6 2566.9 388.6 2566.9 390.6 2567 392.6 2567.1 394.6 2567 396.6 2566.9 398.6 2567.2 400.6 2567.2 402.6 2567.2 404.6 2567.3 406.6 2567.4 408.6 2567.5 410.6 2567.5 412.6 2567.5 414.6 2567.3 416.6 2567.1 418.6 2567.3 420.6 2567 422.6 2567.1 424.6 2567.3 426.6 2567.4 428.6 2567.4 430.6 2567.5 432.6 2567.4 434.6 2567.4 436.6 2567.4 438.6 2567 440.6 2567 442.6 2566.9 444.6 2566.7 446.6 2566.5 448.6 2566.6 450.6 2566.7 452.6 2566.6 454.6 2566.7 456.6 2566.8 458.6 2566.7 460.6 2566.9 462.6 2567 464.6 2567 466.6 2567.3 468.6 2567.3 470.6 2567.2 472.6 2567.4 474.6 2567.5 476.6 2567.7 478.6 2568.1 480.6 2568.1 482.6 2568.5 484.6 2568.4 486.6 2568.4 488.6 2568.3 490.6 2568.2 492.6 2568.3 494.6 2568.7 496.6 2569 498.6 2569.5 500.6 2569.9 502.6 2570.2 504.6 2570.4 506.6 2571 508.6 2571.5 510.6 2572.1 512.6 2573 514.6 2573.8 516.6 2574.7 518.6 2575.5 520.6 2576.6 522.6 2577.5 524.6 2579 526.6 2581 528.6 2582.9 530.6 2584.9 532.6 2587.3 534.6 2589.7 536.6 2593.2 538.6 2597.3 540.6 2602.4 542.6 2609.1 544.6 2617.7 546.6 2627.9 548.6 2640.1 550.6 2653.5 552.6 2666.2 554.6 2676.3 556.6 2680.6 558.6 2676 560.6 2665.1 562.6 2651.3 564.6 2636.8 566.6 2622.9 568.6 2611.1 570.6 2601.3 572.6 2593.6 574.6 2587.7 576.6 2583.5 578.6 2580.3 580.6 2578.2 582.6 2576.6 584.6 2575.1 586.6 2574.2 588.6 2573.5 590.6 2572.8 592.6 2572.2 594.6 2572 596.6 2572.2 598.6 2571.8 600.6 2571.8 602.6 2572.1 604.6 2572.4 606.6 2573.1 608.6 2573.8 610.6 2575.4 612.6 2577.1 614.6 2579.2 616.6 2581.1 618.6 2583 620.6 2584.3 622.6 2584.1 624.6 2582.9 626.6 2581.1 628.6 2578.8 630.6 2576.7 632.6 2574.8 634.6 2573.1 636.6 2572 638.6 2571 640.6 2570.4 642.6 2569.9 644.6 2569.6 646.6 2569.1 648.6 2568.9 650.6 2568.7 652.6 2568.5 654.6 2568.4 656.6 2568.3 658.6 2568.3 660.6 2568 662.6 2567.8 664.6 2567.7 666.6 2567.4 668.6 2567.3 670.6 2567.2 672.6 2567.1 674.6 2566.9 676.6 2566.5 678.6 2566.6 680.6 2566.5 682.6 2566.2 684.6 2565.9 686.6 2566.1 688.6 2566 690.6 2565.7 692.6 2565.9 694.6 2565.9 696.6 2565.9 698.6 2565.7 700.6 2565.6 702.6 2565.7 704.6 2565.7 706.6 2565.7 708.6 2565.8 710.6 2565.9 712.6 2565.7 714.6 2566 716.6 2566.2 718.6 2566 720.6 2566.3 722.6 2566.3 724.6 2566.7 726.6 2566.9 728.6 2567 730.6 2567.3 732.6 2567.5 734.6 2567.8 736.6 2568.2 738.6 2568.9 740.6 2570.2 742.6 2571.4 744.6 2572.6 746.6 2574.4 748.6 2576.3 750.6 2578 752.6 2579.9 754.6 2581.5 756.6 2582.1 758.6 2581.7 760.6 2580.2 762.6 2578.7 764.6 2576.6 766.6 2574.4 768.6 2572.9 770.6 2571.3 772.6 2570 774.6 2569.3 776.6 2568.4 778.6 2567.7 780.6 2567.2 782.6 2566.8 784.6 2566.8 786.6 2566.3 788.6 2566.3 790.6 2566.3 792.6 2566 794.6 2565.6 796.6 2565.7 798.6 2565.4 800.6 2565.3 802.6 2565.2 804.6 2565 806.6 2565.1 808.6 2564.8 810.6 2564.7 812.6 2564.8 814.6 2564.5 816.6 2564.5 818.6 2564.4 820.6 2564.2 822.6 2564.1 824.6 2564 826.6 2563.9 828.6 2563.8 830.6 2563.8 832.6 2563.9 834.6 2563.9 836.6 2564.1 838.6 2564.2 840.6 2564 842.6 2563.9 844.6 2564 846.6 2563.9 848.6 2563.8 850.6 2563.9 852.6 2563.7 854.6 2563.6 856.6 2563.5 858.6 2563.7 860.6 2563.6 862.6 2563.6 864.6 2563.6 866.6 2563.3 868.6 2563.2 870.6 2563 872.6 2562.9 874.6 2562.7 876.6 2562.5 878.6 2562.4 880.6 2562.7 882.6 2562.8 884.6 2562.8 886.6 2563.1 888.6 2563.1 890.6 2563.1 892.6 2562.9 894.6 2562.8 896.6 2563.1 898.6 2562.8 900.6 2562.9 902.6 2563 904.6 2563 906.6 2563.2 908.6 2563.2 910.6 2563.3 912.6 2563.2 914.6 2563.1 916.6 2563.2 918.6 2563.3 920.6 2563.3 922.6 2563.4 924.6 2563.4 926.6 2562.9 928.6 2563.1 930.6 2563.2 932.6 2563.3 934.6 2563.8 936.6 2563.7 938.6 2564.1 940.6 2564.3 942.6 2564.5 944.6 2564.7 946.6 2565.1 948.6 2565.2 950.6 2565.4 952.6 2565.8 954.6 2566.4 956.6 2566.6 958.6 2567.1 960.6 2567.1 962.6 2567.3 964.6 2567.6 966.6 2568.1 968.6 2568.6 970.6 2568.8 972.6 2569.3 974.6 2569.6 976.6 2570.2 978.6 2570.6 980.6 2571.2 982.6 2571.7 984.6 2572.3 986.6 2572.7 988.6 2573.5 990.6 2574.4 992.6 2575.2 994.6 2575.9 996.6 2576.5 998.6 2577.3 1000.6 2578.8 1002.6 2579.8 1004.6 2581.1 1006.6 2581.9 1008.6 2583.1 1010.6 2584.3 1012.6 2585.8 1014.6 2586.9 1016.6 2588.4 1018.6 2589.8 1020.6 2591.1 1022.6 2592.5 1024.6 2593.9 1026.6 2595.8 1028.6 2597.3 1030.6 2598.5 1032.6 2600.3 1034.6 2602 1036.6 2603.9 1038.6 2605.9 1040.6 2607.2 1042.6 2609.1 1044.6 2610.8 1046.6 2612.4 1048.6 2614.3 1050.6 2615.9 1052.6 2617.3 1054.6 2618.6 1056.6 2619.6 1058.6 2620.8 1060.6 2622 1062.6 2623.2 1064.6 2624 1066.6 2624.5 1068.6 2625.2 1070.6 2625.7 1072.6 2626.1 1074.6 2626.3 1076.6 2626.6 1078.6 2627 1080.6 2627.9 1082.6 2628.7 1084.6 2629.9 1086.6 2631.5 1088.6 2633 1090.6 2635.1 1092.6 2637.3 1094.6 2640 1096.6 2642.8 1098.6 2645.6 1100.6 2648.3 1102.6 2650.9 1104.6 2653.6 1106.6 2655.9 1108.6 2657.2 1110.6 2658.2 1112.6 2657.9 1114.6 2656.2 1116.6 2653.3 1118.6 2649.6 1120.6 2645 1122.6 2639.9 1124.6 2634.7 1126.6 2629.5 1128.6 2624.4 1130.6 2619.3 1132.6 2614.4 1134.6 2609.9 1136.6 2605.7 1138.6 2602.1 1140.6 2598.7 1142.6 2595.7 1144.6 2592.9 1146.6 2590.3 1148.6 2588.5 1150.6 2586.4 1152.6 2584.8 1154.6 2583.3 1156.6 2582.2 1158.6 2581.2 1160.6 2580.6 1162.6 2580.6 1164.6 2580.5 1166.6 2580.8 1168.6 2581.3 1170.6 2582 1172.6 2582.7 1174.6 2583.7 1176.6 2584.6 1178.6 2585 1180.6 2584.8 1182.6 2583.8 1184.6 2582.2 1186.6 2580.5" stroke="#8f1414" stroke-width="9.2" fill="none" stroke-linejoin="round" stroke-linecap="round"/>
<path d="M124.6 2684.6 126.6 2684.8 128.6 2684.5 130.6 2684.4 132.6 2684.4 134.6 2684.6 136.6 2684.7 138.6 2684.5 140.6 2684.9 142.6 2684.8 144.6 2684.9 146.6 2684.8 148.6 2684.8 150.6 2684.9 152.6 2685 154.6 2684.9 156.6 2684.8 158.6 2684.8 160.6 2684.6 162.6 2684.6 164.6 2684.7 166.6 2684.6 168.6 2684.6 170.6 2684.5 172.6 2684.4 174.6 2684.2 176.6 2684 178.6 2684.3 180.6 2684.3 182.6 2684.2 184.6 2684.3 186.6 2684.3 188.6 2684.1 190.6 2684 192.6 2684 194.6 2684 196.6 2683.6 198.6 2683.5 200.6 2683.5 202.6 2683.4 204.6 2683.6 206.6 2683.6 208.6 2683.6 210.6 2683.7 212.6 2683.5 214.6 2683.4 216.6 2683.8 218.6 2683.7 220.6 2683.5 222.6 2683.6 224.6 2683.4 226.6 2683.5 228.6 2683.5 230.6 2683.6 232.6 2683.7 234.6 2683.7 236.6 2683.8 238.6 2683.8 240.6 2683.7 242.6 2683.6 244.6 2683.4 246.6 2683.3 248.6 2683.2 250.6 2683.1 252.6 2683.5 254.6 2683.7 256.6 2683.2 258.6 2683.2 260.6 2683.4 262.6 2683.6 264.6 2683.6 266.6 2683.8 268.6 2683.9 270.6 2683.8 272.6 2683.7 274.6 2683.8 276.6 2683.9 278.6 2684.1 280.6 2684 282.6 2684 284.6 2684 286.6 2684.2 288.6 2684.4 290.6 2684.3 292.6 2684.2 294.6 2684.3 296.6 2684.6 298.6 2684.6 300.6 2684.5 302.6 2684.5 304.6 2684.7 306.6 2684.5 308.6 2684.6 310.6 2684.6 312.6 2684.7 314.6 2684.6 316.6 2684.6 318.6 2684.7 320.6 2684.9 322.6 2685.1 324.6 2685.1 326.6 2684.9 328.6 2684.7 330.6 2684.8 332.6 2684.8 334.6 2684.7 336.6 2684.6 338.6 2684.7 340.6 2684.6 342.6 2684.6 344.6 2684.5 346.6 2684.6 348.6 2684.4 350.6 2684.4 352.6 2684.5 354.6 2684.4 356.6 2684.4 358.6 2684.2 360.6 2684 362.6 2684 364.6 2684.1 366.6 2684.5 368.6 2684.6 370.6 2684.4 372.6 2684.3 374.6 2684.5 376.6 2684.6 378.6 2684.6 380.6 2684.4 382.6 2684.1 384.6 2684.2 386.6 2684 388.6 2684.2 390.6 2684.4 392.6 2684.5 394.6 2684.4 396.6 2684.6 398.6 2684.6 400.6 2684.8 402.6 2684.8 404.6 2684.6 406.6 2684.3 408.6 2684.3 410.6 2684.3 412.6 2684.5 414.6 2684.2 416.6 2684.1 418.6 2684.1 420.6 2684.2 422.6 2684.6 424.6 2684.6 426.6 2684.8 428.6 2684.8 430.6 2684.5 432.6 2684.3 434.6 2684.5 436.6 2684.2 438.6 2684.4 440.6 2684.3 442.6 2684.1 444.6 2684.2 446.6 2684.4 448.6 2684.5 450.6 2684.6 452.6 2685 454.6 2685.2 456.6 2685.1 458.6 2685.2 460.6 2685.1 462.6 2684.9 464.6 2684.8 466.6 2684.7 468.6 2684.6 470.6 2685 472.6 2685.2 474.6 2685.2 476.6 2685.4 478.6 2685.5 480.6 2685.6 482.6 2685.9 484.6 2685.9 486.6 2685.6 488.6 2685.9 490.6 2685.8 492.6 2685.6 494.6 2685.8 496.6 2686.1 498.6 2686.3 500.6 2686.8 502.6 2687.3 504.6 2687.7 506.6 2688.1 508.6 2688.5 510.6 2689 512.6 2689.5 514.6 2690.1 516.6 2690.8 518.6 2691.7 520.6 2692.6 522.6 2693.6 524.6 2694.8 526.6 2696.5 528.6 2698 530.6 2699.9 532.6 2701.8 534.6 2704.3 536.6 2707.4 538.6 2711.4 540.6 2716 542.6 2722.1 544.6 2729.9 546.6 2739.6 548.6 2751 550.6 2763.3 552.6 2775.2 554.6 2784.6 556.6 2789.2 558.6 2784.7 560.6 2774.7 562.6 2761.9 564.6 2748.3 566.6 2735.6 568.6 2724.4 570.6 2715.3 572.6 2708.4 574.6 2703 576.6 2699 578.6 2696 580.6 2693.7 582.6 2692.5 584.6 2691.5 586.6 2690.6 588.6 2689.9 590.6 2689.3 592.6 2688.8 594.6 2688.6 596.6 2688.3 598.6 2688 600.6 2688.2 602.6 2688.4 604.6 2688.8 606.6 2689.2 608.6 2690 610.6 2691.1 612.6 2692.3 614.6 2694 616.6 2695.8 618.6 2697.9 620.6 2699.9 622.6 2701 624.6 2700.7 626.6 2699.7 628.6 2698 630.6 2695.9 632.6 2693.9 634.6 2692 636.6 2690.6 638.6 2689.9 640.6 2688.8 642.6 2688.3 644.6 2687.9 646.6 2687.9 648.6 2687.7 650.6 2687.4 652.6 2687.4 654.6 2687.1 656.6 2686.9 658.6 2686.6 660.6 2686.4 662.6 2686.1 664.6 2686.2 666.6 2685.9 668.6 2685.7 670.6 2685.7 672.6 2685.6 674.6 2685.7 676.6 2685.6 678.6 2685.6 680.6 2685.4 682.6 2685.1 684.6 2684.8 686.6 2684.4 688.6 2684.4 690.6 2684.3 692.6 2684.2 694.6 2684.2 696.6 2684.5 698.6 2684.4 700.6 2684.7 702.6 2684.7 704.6 2684.8 706.6 2684.8 708.6 2684.7 710.6 2684.9 712.6 2684.8 714.6 2684.7 716.6 2684.8 718.6 2684.8 720.6 2684.9 722.6 2684.9 724.6 2685 726.6 2685.2 728.6 2685.4 730.6 2685.6 732.6 2685.9 734.6 2686.2 736.6 2686.5 738.6 2687.1 740.6 2687.6 742.6 2688.3 744.6 2689.3 746.6 2690.8 748.6 2692.3 750.6 2693.7 752.6 2695.3 754.6 2696.9 756.6 2698.3 758.6 2699.5 760.6 2700.5 762.6 2700.9 764.6 2700.4 766.6 2699 768.6 2697.2 770.6 2695.5 772.6 2693.8 774.6 2692.1 776.6 2690.5 778.6 2688.9 780.6 2687.8 782.6 2686.8 784.6 2686 786.6 2684.9 788.6 2684.2 790.6 2683.7 792.6 2683.4 794.6 2683.2 796.6 2682.9 798.6 2682.6 800.6 2682 802.6 2681.8 804.6 2681.7 806.6 2681.6 808.6 2681.6 810.6 2681.1 812.6 2680.7 814.6 2680.6 816.6 2680.7 818.6 2680.8 820.6 2680.6 822.6 2680.5 824.6 2680.3 826.6 2680.4 828.6 2680.3 830.6 2680.1 832.6 2680.1 834.6 2679.9 836.6 2679.9 838.6 2680.2 840.6 2680.4 842.6 2680.2 844.6 2680 846.6 2680 848.6 2679.9 850.6 2680.3 852.6 2680.5 854.6 2680.4 856.6 2680.2 858.6 2680.1 860.6 2680.1 862.6 2680.1 864.6 2679.9 866.6 2679.8 868.6 2679.9 870.6 2679.8 872.6 2679.6 874.6 2679.3 876.6 2679.4 878.6 2679 880.6 2679.2 882.6 2679.4 884.6 2679.1 886.6 2679 888.6 2679 890.6 2678.8 892.6 2678.7 894.6 2678.9 896.6 2679 898.6 2679.2 900.6 2679.1 902.6 2678.9 904.6 2679 906.6 2679 908.6 2678.9 910.6 2679.2 912.6 2679.2 914.6 2679.2 916.6 2679.5 918.6 2679.6 920.6 2679.7 922.6 2679.5 924.6 2679.8 926.6 2680 928.6 2680.2 930.6 2680.2 932.6 2680.2 934.6 2680.1 936.6 2679.7 938.6 2679.6 940.6 2679.9 942.6 2680 944.6 2680.1 946.6 2680.2 948.6 2680.2 950.6 2680.3 952.6 2680.5 954.6 2680.7 956.6 2680.6 958.6 2680.5 960.6 2680.3 962.6 2680.4 964.6 2680.5 966.6 2680.2 968.6 2680.1 970.6 2680.1 972.6 2680.3 974.6 2680.4 976.6 2680.6 978.6 2680.8 980.6 2681.1 982.6 2681.1 984.6 2681.2 986.6 2681.1 988.6 2681.2 990.6 2681.2 992.6 2681.3 994.6 2681.4 996.6 2681.5 998.6 2681.6 1000.6 2681.7 1002.6 2681.8 1004.6 2681.8 1006.6 2682 1008.6 2682.1 1010.6 2682.6 1012.6 2683 1014.6 2683.4 1016.6 2683.7 1018.6 2683.9 1020.6 2684 1022.6 2684.4 1024.6 2684.6 1026.6 2684.9 1028.6 2685.1 1030.6 2685.6 1032.6 2685.6 1034.6 2686 1036.6 2686.4 1038.6 2686.9 1040.6 2687.4 1042.6 2688 1044.6 2688.3 1046.6 2689 1048.6 2689.4 1050.6 2690 1052.6 2690.4 1054.6 2691 1056.6 2691.5 1058.6 2692.3 1060.6 2693 1062.6 2693.8 1064.6 2694.6 1066.6 2695.6 1068.6 2696.3 1070.6 2696.9 1072.6 2697.8 1074.6 2698.5 1076.6 2699.2 1078.6 2700 1080.6 2700.4 1082.6 2701 1084.6 2701.8 1086.6 2702.6 1088.6 2703.8 1090.6 2705 1092.6 2707 1094.6 2709.5 1096.6 2712.8 1098.6 2716.6 1100.6 2721 1102.6 2725.9 1104.6 2730.7 1106.6 2734.9 1108.6 2738.4 1110.6 2740 1112.6 2738.6 1114.6 2734.8 1116.6 2729.7 1118.6 2724.2 1120.6 2718.7 1122.6 2713.3 1124.6 2708.2 1126.6 2704 1128.6 2700.7 1130.6 2698 1132.6 2695.9 1134.6 2693.9 1136.6 2692.5 1138.6 2691 1140.6 2690 1142.6 2689.1 1144.6 2688.6 1146.6 2688.2 1148.6 2687.7 1150.6 2687.2 1152.6 2687.1 1154.6 2687.2 1156.6 2686.9 1158.6 2686.5 1160.6 2686.2 1162.6 2686.1 1164.6 2686.1 1166.6 2686 1168.6 2685.9 1170.6 2685.6 1172.6 2685.4 1174.6 2685.2 1176.6 2685.3 1178.6 2685.4 1180.6 2685.2 1182.6 2685.1 1184.6 2684.8 1186.6 2684.7" stroke="#3cb878" stroke-width="9.2" fill="none" stroke-linejoin="round" stroke-linecap="round"/>
<path d="M124.6 2793.9 126.6 2794 128.6 2793.9 130.6 2793.8 132.6 2793.7 134.6 2793.6 136.6 2793.8 138.6 2793.7 140.6 2793.7 142.6 2793.9 144.6 2793.7 146.6 2793.7 148.6 2794 150.6 2794 152.6 2793.8 154.6 2793.9 156.6 2793.9 158.6 2793.9 160.6 2794 162.6 2794 164.6 2794.1 166.6 2794.3 168.6 2794.2 170.6 2794.2 172.6 2794.2 174.6 2794 176.6 2794.1 178.6 2794.3 180.6 2794.4 182.6 2794.4 184.6 2794.3 186.6 2794.3 188.6 2793.9 190.6 2794.1 192.6 2794.1 194.6 2794.1 196.6 2794.2 198.6 2794.2 200.6 2794.4 202.6 2794.6 204.6 2794.6 206.6 2794.3 208.6 2794.6 210.6 2794.6 212.6 2794.5 214.6 2794.7 216.6 2794.6 218.6 2794.3 220.6 2794.3 222.6 2794.1 224.6 2794.3 226.6 2794.5 228.6 2794.6 230.6 2794.6 232.6 2794.6 234.6 2794.5 236.6 2794.6 238.6 2794.5 240.6 2794.1 242.6 2793.9 244.6 2793.8 246.6 2794 248.6 2793.8 250.6 2793.8 252.6 2793.9 254.6 2793.8 256.6 2793.8 258.6 2793.8 260.6 2793.9 262.6 2793.7 264.6 2793.7 266.6 2793.7 268.6 2793.7 270.6 2793.7 272.6 2793.6 274.6 2793.8 276.6 2793.9 278.6 2794.1 280.6 2794 282.6 2794.1 284.6 2793.9 286.6 2794 288.6 2794.2 290.6 2794.2 292.6 2794.4 294.6 2794.3 296.6 2794.3 298.6 2794.2 300.6 2794.2 302.6 2794.6 304.6 2794.4 306.6 2794.2 308.6 2794.4 310.6 2794.1 312.6 2794.4 314.6 2794.2 316.6 2794 318.6 2794 320.6 2794.3 322.6 2794.3 324.6 2794.3 326.6 2794.4 328.6 2794.4 330.6 2794.4 332.6 2794.1 334.6 2794.3 336.6 2794.6 338.6 2794.5 340.6 2794.4 342.6 2794.2 344.6 2794.2 346.6 2794.2 348.6 2794 350.6 2794.2 352.6 2794.1 354.6 2794 356.6 2793.9 358.6 2793.6 360.6 2793.5 362.6 2793.5 364.6 2793.6 366.6 2793.6 368.6 2793.3 370.6 2793.1 372.6 2793.2 374.6 2793.1 376.6 2792.9 378.6 2792.9 380.6 2793 382.6 2793.3 384.6 2793.2 386.6 2793.2 388.6 2793.4 390.6 2793.2 392.6 2793.3 394.6 2793.7 396.6 2794 398.6 2794.1 400.6 2794 402.6 2794.2 404.6 2794.4 406.6 2794.5 408.6 2794.6 410.6 2794.7 412.6 2794.8 414.6 2794.6 416.6 2794.8 418.6 2794.8 420.6 2794.8 422.6 2794.6 424.6 2794.6 426.6 2794.9 428.6 2794.8 430.6 2795.2 432.6 2795.3 434.6 2795.3 436.6 2795.1 438.6 2795.2 440.6 2795.3 442.6 2794.9 444.6 2794.8 446.6 2794.6 448.6 2794.6 450.6 2794.6 452.6 2794.4 454.6 2794.5 456.6 2794.4 458.6 2794.5 460.6 2794.7 462.6 2795 464.6 2795.1 466.6 2795.1 468.6 2795.2 470.6 2795 472.6 2795.2 474.6 2795.2 476.6 2795.2 478.6 2795.3 480.6 2795.4 482.6 2795.8 484.6 2795.9 486.6 2796.3 488.6 2796.3 490.6 2796.5 492.6 2797 494.6 2797.2 496.6 2797.5 498.6 2797.9 500.6 2798.1 502.6 2797.9 504.6 2798.2 506.6 2798.5 508.6 2798.8 510.6 2799.2 512.6 2799.5 514.6 2799.9 516.6 2800.6 518.6 2801.3 520.6 2802.2 522.6 2803 524.6 2804.2 526.6 2805.1 528.6 2806.8 530.6 2808.4 532.6 2809.9 534.6 2811.7 536.6 2813.7 538.6 2816.3 540.6 2819.7 542.6 2824.1 544.6 2829.8 546.6 2836.9 548.6 2845.9 550.6 2856.7 552.6 2868.8 554.6 2881.8 556.6 2893 558.6 2901 560.6 2902 562.6 2894.5 564.6 2882.4 566.6 2868.7 568.6 2854.9 570.6 2842.4 572.6 2832 574.6 2823.8 576.6 2817.5 578.6 2812.8 580.6 2809.2 582.6 2806.6 584.6 2804.3 586.6 2802.9 588.6 2802.2 590.6 2801.5 592.6 2801.2 594.6 2800.9 596.6 2801 598.6 2801.4 600.6 2801.6 602.6 2801.9 604.6 2802.8 606.6 2803.8 608.6 2805.2 610.6 2806.7 612.6 2808.9 614.6 2811.7 616.6 2814.6 618.6 2817.7 620.6 2820.5 622.6 2822.7 624.6 2824.3 626.6 2823.7 628.6 2821.2 630.6 2818.2 632.6 2815.1 634.6 2811.9 636.6 2809.1 638.6 2806.6 640.6 2804.7 642.6 2803.1 644.6 2801.6 646.6 2800.6 648.6 2799.6 650.6 2799.2 652.6 2798.7 654.6 2798.2 656.6 2797.7 658.6 2797.1 660.6 2796.5 662.6 2796.2 664.6 2795.7 666.6 2795.5 668.6 2795.5 670.6 2795.5 672.6 2795.4 674.6 2795.5 676.6 2795.3 678.6 2795.1 680.6 2795.1 682.6 2795 684.6 2795.1 686.6 2794.8 688.6 2794.8 690.6 2794.7 692.6 2794.7 694.6 2794.6 696.6 2794.4 698.6 2794.4 700.6 2794.4 702.6 2794.3 704.6 2794.6 706.6 2794.4 708.6 2794.3 710.6 2794.2 712.6 2794.1 714.6 2794 716.6 2793.8 718.6 2793.7 720.6 2793.5 722.6 2793.4 724.6 2793.4 726.6 2793.8 728.6 2793.8 730.6 2794 732.6 2794 734.6 2794.2 736.6 2794.5 738.6 2795 740.6 2795.7 742.6 2796.7 744.6 2797.5 746.6 2798.5 748.6 2799.8 750.6 2801.1 752.6 2802.4 754.6 2803.7 756.6 2805.2 758.6 2806.9 760.6 2808.2 762.6 2809.3 764.6 2809.7 766.6 2809.3 768.6 2808.5 770.6 2807.2 772.6 2805.6 774.6 2804.4 776.6 2803.1 778.6 2801.5 780.6 2800 782.6 2798.5 784.6 2797.2 786.6 2796.3 788.6 2795.6 790.6 2794.9 792.6 2794.2 794.6 2793.8 796.6 2793.4 798.6 2792.8 800.6 2792.6 802.6 2792.3 804.6 2792.1 806.6 2791.9 808.6 2791.7 810.6 2791.5 812.6 2791.8 814.6 2791.5 816.6 2791.3 818.6 2791.2 820.6 2791.2 822.6 2791 824.6 2790.9 826.6 2790.6 828.6 2790.2 830.6 2790.4 832.6 2790.4 834.6 2790.3 836.6 2790.1 838.6 2790.2 840.6 2790 842.6 2790 844.6 2790 846.6 2789.9 848.6 2789.9 850.6 2789.8 852.6 2789.6 854.6 2789.3 856.6 2789.3 858.6 2789.4 860.6 2789.3 862.6 2789.2 864.6 2789 866.6 2789 868.6 2789.2 870.6 2788.8 872.6 2788.8 874.6 2788.5 876.6 2788.5 878.6 2788.4 880.6 2788.5 882.6 2788.5 884.6 2788.4 886.6 2788.4 888.6 2788.8 890.6 2789.1 892.6 2789 894.6 2789.1 896.6 2788.9 898.6 2788.7 900.6 2788.8 902.6 2788.9 904.6 2789 906.6 2789.3 908.6 2789 910.6 2789.2 912.6 2789.4 914.6 2789.8 916.6 2789.9 918.6 2790 920.6 2789.8 922.6 2790 924.6 2790.2 926.6 2790.3 928.6 2790.1 930.6 2789.8 932.6 2789.8 934.6 2789.7 936.6 2789.9 938.6 2789.9 940.6 2790.1 942.6 2790.2 944.6 2790.3 946.6 2790.2 948.6 2790.6 950.6 2790.5 952.6 2790.8 954.6 2790.8 956.6 2790.6 958.6 2790.7 960.6 2790.8 962.6 2790.8 964.6 2790.7 966.6 2790.7 968.6 2790.8 970.6 2791.1 972.6 2791.3 974.6 2791.8 976.6 2791.8 978.6 2791.9 980.6 2791.8 982.6 2791.8 984.6 2792 986.6 2792.1 988.6 2792.2 990.6 2792.6 992.6 2792.4 994.6 2792.5 996.6 2793 998.6 2793.1 1000.6 2793.3 1002.6 2793.2 1004.6 2793.3 1006.6 2793.5 1008.6 2793.6 1010.6 2793.8 1012.6 2793.8 1014.6 2793.7 1016.6 2794.1 1018.6 2794.5 1020.6 2794.6 1022.6 2795.2 1024.6 2795.6 1026.6 2795.8 1028.6 2796 1030.6 2796.3 1032.6 2796.5 1034.6 2797 1036.6 2797.2 1038.6 2797.8 1040.6 2798.2 1042.6 2798.8 1044.6 2799.7 1046.6 2800 1048.6 2800.8 1050.6 2801.5 1052.6 2802.1 1054.6 2802.9 1056.6 2803.3 1058.6 2804 1060.6 2804.8 1062.6 2805.2 1064.6 2805.9 1066.6 2806.6 1068.6 2807.4 1070.6 2808.1 1072.6 2808.9 1074.6 2809.5 1076.6 2810.2 1078.6 2810.3 1080.6 2810.6 1082.6 2810.9 1084.6 2811.1 1086.6 2811.7 1088.6 2812.3 1090.6 2812.9 1092.6 2814.5 1094.6 2816 1096.6 2818.3 1098.6 2821.1 1100.6 2824.6 1102.6 2828.7 1104.6 2833.2 1106.6 2838 1108.6 2842.7 1110.6 2846.8 1112.6 2850.1 1114.6 2851.2 1116.6 2849.4 1118.6 2845.9 1120.6 2840.9 1122.6 2835.2 1124.6 2829.6 1126.6 2824.2 1128.6 2819.1 1130.6 2815 1132.6 2811.2 1134.6 2808.3 1136.6 2805.8 1138.6 2803.6 1140.6 2802.1 1142.6 2800.8 1144.6 2799.9 1146.6 2799.3 1148.6 2798.7 1150.6 2798.4 1152.6 2798.1 1154.6 2797.9 1156.6 2797.6 1158.6 2797.4 1160.6 2797.3 1162.6 2797.4 1164.6 2797 1166.6 2796.9 1168.6 2796.9 1170.6 2796.8 1172.6 2796.6 1174.6 2796.5 1176.6 2796.5 1178.6 2796.5 1180.6 2796.3 1182.6 2796.2 1184.6 2796 1186.6 2796" stroke="#2a80e8" stroke-width="9.2" fill="none" stroke-linejoin="round" stroke-linecap="round"/>
<path d="M124.6 2908.7 126.6 2908.9 128.6 2908.8 130.6 2908.9 132.6 2908.9 134.6 2909 136.6 2909.1 138.6 2909.5 140.6 2909.1 142.6 2909.1 144.6 2909.1 146.6 2909 148.6 2909.1 150.6 2909.1 152.6 2909.2 154.6 2909.2 156.6 2909.1 158.6 2909 160.6 2908.8 162.6 2909 164.6 2908.9 166.6 2908.8 168.6 2908.8 170.6 2908.6 172.6 2908.6 174.6 2908.6 176.6 2908.6 178.6 2908.3 180.6 2908.5 182.6 2908.5 184.6 2908.8 186.6 2908.7 188.6 2908.7 190.6 2908.8 192.6 2908.8 194.6 2908.6 196.6 2908.6 198.6 2908.8 200.6 2908.8 202.6 2908.6 204.6 2908.7 206.6 2908.9 208.6 2909 210.6 2909 212.6 2909.3 214.6 2909.2 216.6 2909.1 218.6 2909.2 220.6 2909.1 222.6 2909.3 224.6 2909.2 226.6 2909.4 228.6 2909.2 230.6 2909.1 232.6 2908.7 234.6 2908.6 236.6 2908.5 238.6 2908.4 240.6 2908.2 242.6 2908.4 244.6 2908.3 246.6 2908.2 248.6 2908.3 250.6 2908.3 252.6 2908 254.6 2908 256.6 2907.9 258.6 2907.9 260.6 2907.9 262.6 2907.7 264.6 2907.4 266.6 2907.3 268.6 2907.4 270.6 2907.7 272.6 2907.8 274.6 2908 276.6 2908.1 278.6 2908.1 280.6 2908.3 282.6 2908.2 284.6 2908.2 286.6 2908.3 288.6 2908 290.6 2908 292.6 2908.1 294.6 2907.9 296.6 2907.9 298.6 2908 300.6 2908.2 302.6 2908.3 304.6 2908.4 306.6 2908.4 308.6 2908.4 310.6 2908.5 312.6 2908.7 314.6 2908.6 316.6 2908.6 318.6 2908.6 320.6 2908.6 322.6 2908.5 324.6 2908.7 326.6 2908.9 328.6 2909 330.6 2909.1 332.6 2909.2 334.6 2909.2 336.6 2909.5 338.6 2909.4 340.6 2909.4 342.6 2909.2 344.6 2909.4 346.6 2909.4 348.6 2909.4 350.6 2909.2 352.6 2908.8 354.6 2908.9 356.6 2908.9 358.6 2909.3 360.6 2909.3 362.6 2909.5 364.6 2909.5 366.6 2909.4 368.6 2909.3 370.6 2909.4 372.6 2909.2 374.6 2909.3 376.6 2909 378.6 2909 380.6 2908.9 382.6 2908.9 384.6 2908.6 386.6 2908.6 388.6 2908.7 390.6 2908.8 392.6 2909.1 394.6 2909.3 396.6 2909.2 398.6 2909.1 400.6 2909.1 402.6 2909.1 404.6 2909 406.6 2909.2 408.6 2909.2 410.6 2909.4 412.6 2909.5 414.6 2909.4 416.6 2909.4 418.6 2909.5 420.6 2909.5 422.6 2909.7 424.6 2909.9 426.6 2910 428.6 2910 430.6 2909.8 432.6 2909.8 434.6 2909.6 436.6 2909.7 438.6 2909.5 440.6 2909.7 442.6 2909.4 444.6 2909.2 446.6 2909.1 448.6 2909.3 450.6 2909.3 452.6 2909.5 454.6 2909.4 456.6 2909.5 458.6 2909.5 460.6 2909.6 462.6 2909.6 464.6 2909.6 466.6 2909.5 468.6 2909.4 470.6 2909.6 472.6 2909.6 474.6 2909.6 476.6 2909.7 478.6 2909.9 480.6 2909.7 482.6 2910.1 484.6 2910.4 486.6 2910.4 488.6 2910.4 490.6 2910.1 492.6 2910.1 494.6 2910.2 496.6 2910.4 498.6 2910.5 500.6 2911 502.6 2911.4 504.6 2911.7 506.6 2912.2 508.6 2912.8 510.6 2913.3 512.6 2913.8 514.6 2914.4 516.6 2915 518.6 2915.8 520.6 2916.9 522.6 2917.5 524.6 2918.3 526.6 2919.7 528.6 2921.4 530.6 2923.4 532.6 2925.3 534.6 2927.7 536.6 2930.8 538.6 2934.5 540.6 2938.6 542.6 2944.3 544.6 2951.7 546.6 2960.8 548.6 2971.3 550.6 2982.7 552.6 2994.2 554.6 3003.1 556.6 3007.5 558.6 3003.6 560.6 2994.1 562.6 2982.5 564.6 2970.1 566.6 2958.3 568.6 2948 570.6 2939.6 572.6 2933.4 574.6 2928.6 576.6 2925 578.6 2922.3 580.6 2920.7 582.6 2919.3 584.6 2918.4 586.6 2917.6 588.6 2917.5 590.6 2917.4 592.6 2917.3 594.6 2917.8 596.6 2918.2 598.6 2918.7 600.6 2919.8 602.6 2921.2 604.6 2923.2 606.6 2925.8 608.6 2929 610.6 2932.7 612.6 2936.8 614.6 2941.6 616.6 2946.3 618.6 2951.2 620.6 2955.1 622.6 2957.5 624.6 2957.8 626.6 2955.7 628.6 2951.7 630.6 2947.1 632.6 2941.9 634.6 2936.6 636.6 2932 638.6 2928.2 640.6 2924.6 642.6 2921.8 644.6 2919.7 646.6 2917.9 648.6 2916.3 650.6 2915.2 652.6 2914.3 654.6 2913.5 656.6 2912.8 658.6 2912.3 660.6 2911.9 662.6 2911.5 664.6 2911.1 666.6 2910.5 668.6 2910.5 670.6 2910.5 672.6 2910.3 674.6 2910.4 676.6 2910.4 678.6 2910.2 680.6 2910.3 682.6 2910.3 684.6 2910.1 686.6 2909.8 688.6 2909.7 690.6 2909.5 692.6 2909.2 694.6 2909.2 696.6 2909.2 698.6 2908.9 700.6 2908.8 702.6 2908.7 704.6 2908.5 706.6 2908.7 708.6 2908.5 710.6 2908.3 712.6 2908.3 714.6 2908.4 716.6 2908.2 718.6 2908.2 720.6 2908.2 722.6 2907.9 724.6 2907.8 726.6 2907.7 728.6 2907.6 730.6 2907.5 732.6 2907.7 734.6 2907.8 736.6 2907.9 738.6 2908 740.6 2908.4 742.6 2908.5 744.6 2908.8 746.6 2908.8 748.6 2909.1 750.6 2909.3 752.6 2909.7 754.6 2910.1 756.6 2910.6 758.6 2911.2 760.6 2912 762.6 2913.1 764.6 2913.8 766.6 2914.6 768.6 2915.7 770.6 2916.2 772.6 2916.2 774.6 2915.4 776.6 2914.3 778.6 2913.3 780.6 2912.1 782.6 2910.9 784.6 2910.1 786.6 2909.3 788.6 2908.6 790.6 2908 792.6 2907.6 794.6 2907.2 796.6 2906.8 798.6 2906.5 800.6 2906.2 802.6 2905.9 804.6 2905.6 806.6 2905.6 808.6 2905.3 810.6 2905.2 812.6 2904.8 814.6 2904.8 816.6 2904.9 818.6 2904.9 820.6 2904.8 822.6 2905 824.6 2904.9 826.6 2904.7 828.6 2904.6 830.6 2904.5 832.6 2904.3 834.6 2904.1 836.6 2904 838.6 2903.9 840.6 2904 842.6 2903.9 844.6 2904 846.6 2903.9 848.6 2903.4 850.6 2903.5 852.6 2903.4 854.6 2903.3 856.6 2903.5 858.6 2903.4 860.6 2903.3 862.6 2903.5 864.6 2903.4 866.6 2903.3 868.6 2903.4 870.6 2903.4 872.6 2903.6 874.6 2903.8 876.6 2903.8 878.6 2903.8 880.6 2903.6 882.6 2903.6 884.6 2903.6 886.6 2903.6 888.6 2903.9 890.6 2903.8 892.6 2903.8 894.6 2904.2 896.6 2904.1 898.6 2904.2 900.6 2904 902.6 2903.6 904.6 2903.6 906.6 2903.6 908.6 2903.5 910.6 2903.3 912.6 2903.3 914.6 2903 916.6 2903 918.6 2902.9 920.6 2903 922.6 2902.9 924.6 2903 926.6 2903.1 928.6 2903.2 930.6 2903.4 932.6 2903.5 934.6 2903.3 936.6 2903.2 938.6 2903 940.6 2903.3 942.6 2903.3 944.6 2903.4 946.6 2903.7 948.6 2903.8 950.6 2903.9 952.6 2903.7 954.6 2903.8 956.6 2903.9 958.6 2903.8 960.6 2903.8 962.6 2904.1 964.6 2903.9 966.6 2903.9 968.6 2903.7 970.6 2903.5 972.6 2903.6 974.6 2903.6 976.6 2903.9 978.6 2904 980.6 2904 982.6 2904.3 984.6 2904.5 986.6 2904.6 988.6 2904.9 990.6 2904.8 992.6 2905.2 994.6 2905.6 996.6 2905.6 998.6 2905.9 1000.6 2906.3 1002.6 2906.3 1004.6 2906.6 1006.6 2907 1008.6 2907.4 1010.6 2907.7 1012.6 2907.9 1014.6 2908.1 1016.6 2908.2 1018.6 2908.4 1020.6 2908.8 1022.6 2908.8 1024.6 2908.8 1026.6 2908.9 1028.6 2908.7 1030.6 2909.2 1032.6 2909.4 1034.6 2909.3 1036.6 2909.7 1038.6 2910 1040.6 2909.9 1042.6 2910.5 1044.6 2911 1046.6 2911.1 1048.6 2911.4 1050.6 2911.8 1052.6 2912.1 1054.6 2912.7 1056.6 2912.9 1058.6 2913.5 1060.6 2914 1062.6 2914.6 1064.6 2915 1066.6 2915.7 1068.6 2916.6 1070.6 2917.1 1072.6 2917.7 1074.6 2918.4 1076.6 2919.1 1078.6 2919.6 1080.6 2920.1 1082.6 2920.6 1084.6 2920.7 1086.6 2921.7 1088.6 2923 1090.6 2924.5 1092.6 2926.3 1094.6 2928.6 1096.6 2931.8 1098.6 2935.3 1100.6 2939.7 1102.6 2944.6 1104.6 2950.1 1106.6 2955.2 1108.6 2959.8 1110.6 2963.4 1112.6 2965.2 1114.6 2963.6 1116.6 2959.8 1118.6 2954.6 1120.6 2949 1122.6 2943.1 1124.6 2937.8 1126.6 2932.8 1128.6 2928.1 1130.6 2924.3 1132.6 2921.5 1134.6 2919 1136.6 2917.2 1138.6 2915.8 1140.6 2914.4 1142.6 2913.5 1144.6 2912.6 1146.6 2912 1148.6 2911.5 1150.6 2911.1 1152.6 2910.4 1154.6 2910.5 1156.6 2910.5 1158.6 2910.6 1160.6 2910.8 1162.6 2910.7 1164.6 2910.7 1166.6 2910.6 1168.6 2910.7 1170.6 2910.8 1172.6 2910.5 1174.6 2910.8 1176.6 2910.5 1178.6 2910.3 1180.6 2910.5 1182.6 2910.4 1184.6 2910.4 1186.6 2910.3" stroke="#f04444" stroke-width="9.2" fill="none" stroke-linejoin="round" stroke-linecap="round"/>
<path d="M124.6 3013.3 126.6 3013.5 128.6 3013.5 130.6 3013.3 132.6 3013.2 134.6 3013.3 136.6 3013.1 138.6 3013.1 140.6 3013.2 142.6 3013.1 144.6 3013.2 146.6 3013 148.6 3013.3 150.6 3013.3 152.6 3013.5 154.6 3013.5 156.6 3013.5 158.6 3013.1 160.6 3012.9 162.6 3013 164.6 3013 166.6 3013 168.6 3012.9 170.6 3013.1 172.6 3013.1 174.6 3013.3 176.6 3013.4 178.6 3013.4 180.6 3013.3 182.6 3013.3 184.6 3013.4 186.6 3013.3 188.6 3013.2 190.6 3013 192.6 3013 194.6 3013.1 196.6 3013.3 198.6 3013.3 200.6 3013.4 202.6 3013 204.6 3012.9 206.6 3012.8 208.6 3012.7 210.6 3012.8 212.6 3013 214.6 3012.8 216.6 3013.1 218.6 3012.9 220.6 3012.9 222.6 3013 224.6 3012.9 226.6 3013.1 228.6 3013.2 230.6 3013.3 232.6 3013.1 234.6 3013 236.6 3013 238.6 3013.1 240.6 3012.9 242.6 3013.1 244.6 3013.3 246.6 3013.3 248.6 3013.6 250.6 3013.5 252.6 3013.1 254.6 3013.2 256.6 3012.8 258.6 3012.8 260.6 3012.9 262.6 3013 264.6 3013.2 266.6 3013 268.6 3012.8 270.6 3012.8 272.6 3012.9 274.6 3012.7 276.6 3012.8 278.6 3012.6 280.6 3012.8 282.6 3012.9 284.6 3012.9 286.6 3012.9 288.6 3013 290.6 3013 292.6 3013.2 294.6 3013 296.6 3013.3 298.6 3013.3 300.6 3013.3 302.6 3013.1 304.6 3012.7 306.6 3012.7 308.6 3012.9 310.6 3012.5 312.6 3012.6 314.6 3012.9 316.6 3012.7 318.6 3012.9 320.6 3012.9 322.6 3012.9 324.6 3012.7 326.6 3012.7 328.6 3012.6 330.6 3012.4 332.6 3012.6 334.6 3012.6 336.6 3012.6 338.6 3012.7 340.6 3012.6 342.6 3012.7 344.6 3012.9 346.6 3012.9 348.6 3013 350.6 3013.3 352.6 3013.2 354.6 3013.1 356.6 3013.2 358.6 3013.2 360.6 3013.2 362.6 3013.2 364.6 3013.3 366.6 3013.4 368.6 3013.4 370.6 3013.4 372.6 3013.4 374.6 3013.4 376.6 3013.2 378.6 3013.3 380.6 3013.3 382.6 3013.3 384.6 3013.3 386.6 3013.5 388.6 3013.4 390.6 3013.3 392.6 3013.2 394.6 3013.2 396.6 3013.2 398.6 3013.3 400.6 3013.4 402.6 3013.4 404.6 3013.3 406.6 3013.3 408.6 3013.5 410.6 3013.6 412.6 3013.6 414.6 3013.8 416.6 3013.9 418.6 3014 420.6 3013.9 422.6 3013.9 424.6 3014 426.6 3013.8 428.6 3013.5 430.6 3013.7 432.6 3013.7 434.6 3013.8 436.6 3013.8 438.6 3013.9 440.6 3014.1 442.6 3014 444.6 3014 446.6 3014 448.6 3013.9 450.6 3013.8 452.6 3013.9 454.6 3013.6 456.6 3013.8 458.6 3014 460.6 3013.9 462.6 3013.8 464.6 3013.9 466.6 3013.9 468.6 3014.3 470.6 3014.3 472.6 3014.5 474.6 3014.6 476.6 3014.8 478.6 3014.6 480.6 3014.7 482.6 3014.9 484.6 3015 486.6 3015.3 488.6 3015.4 490.6 3015.6 492.6 3015.7 494.6 3016 496.6 3016.2 498.6 3016.5 500.6 3016.8 502.6 3017.1 504.6 3017.4 506.6 3018 508.6 3018.4 510.6 3019.2 512.6 3019.7 514.6 3020.3 516.6 3021.1 518.6 3021.9 520.6 3022.7 522.6 3023.7 524.6 3025 526.6 3026.2 528.6 3027.7 530.6 3029.3 532.6 3031.2 534.6 3033.6 536.6 3036.3 538.6 3039.4 540.6 3043.4 542.6 3048.6 544.6 3055.1 546.6 3063.1 548.6 3072.5 550.6 3082.7 552.6 3093.2 554.6 3102.9 556.6 3109.6 558.6 3110.9 560.6 3105.1 562.6 3095.4 564.6 3083.9 566.6 3072.5 568.6 3061.8 570.6 3052.5 572.6 3044.8 574.6 3038.7 576.6 3033.8 578.6 3030.4 580.6 3027.9 582.6 3025.9 584.6 3024.5 586.6 3023.7 588.6 3023.2 590.6 3022.9 592.6 3023 594.6 3023.2 596.6 3023.5 598.6 3023.9 600.6 3024.6 602.6 3025.8 604.6 3027.6 606.6 3029.7 608.6 3032.6 610.6 3036.3 612.6 3041.2 614.6 3046.8 616.6 3053.4 618.6 3060.6 620.6 3068.2 622.6 3075.4 624.6 3082 626.6 3086.2 628.6 3087.3 630.6 3084.3 632.6 3078.9 634.6 3071.8 636.6 3064.1 638.6 3056.6 640.6 3049.5 642.6 3043.2 644.6 3037.7 646.6 3033 648.6 3029.5 650.6 3026.6 652.6 3024.2 654.6 3022.6 656.6 3021.1 658.6 3020.1 660.6 3019.4 662.6 3018.9 664.6 3018.3 666.6 3017.8 668.6 3017.4 670.6 3017.1 672.6 3016.7 674.6 3016.5 676.6 3016.3 678.6 3015.9 680.6 3016 682.6 3016.1 684.6 3016 686.6 3015.9 688.6 3015.8 690.6 3015.7 692.6 3015.6 694.6 3015.5 696.6 3015.4 698.6 3015.3 700.6 3015 702.6 3014.7 704.6 3014.5 706.6 3014.7 708.6 3015 710.6 3014.9 712.6 3015.1 714.6 3015.2 716.6 3015.1 718.6 3015.4 720.6 3015.3 722.6 3015 724.6 3015.2 726.6 3015.3 728.6 3015.3 730.6 3015.6 732.6 3016 734.6 3016.2 736.6 3016.7 738.6 3017.3 740.6 3018 742.6 3019.1 744.6 3020.3 746.6 3021.6 748.6 3022.9 750.6 3024.7 752.6 3026.2 754.6 3028 756.6 3030.1 758.6 3031.9 760.6 3033.7 762.6 3035.3 764.6 3036 766.6 3036.1 768.6 3035 770.6 3033.2 772.6 3031 774.6 3028.9 776.6 3026.6 778.6 3024.5 780.6 3022.5 782.6 3020.6 784.6 3019 786.6 3017.4 788.6 3016.3 790.6 3015.2 792.6 3014.6 794.6 3014.2 796.6 3013.9 798.6 3013.5 800.6 3013.1 802.6 3012.7 804.6 3012.4 806.6 3011.7 808.6 3011.6 810.6 3011.4 812.6 3011.4 814.6 3011.4 816.6 3011.2 818.6 3011 820.6 3010.9 822.6 3011 824.6 3010.9 826.6 3011.2 828.6 3011.2 830.6 3011.4 832.6 3011.4 834.6 3011.2 836.6 3010.9 838.6 3010.7 840.6 3010.6 842.6 3010.3 844.6 3010.2 846.6 3010.4 848.6 3010.3 850.6 3010.1 852.6 3010.2 854.6 3009.8 856.6 3009.7 858.6 3009.7 860.6 3009.9 862.6 3009.7 864.6 3009.7 866.6 3009.3 868.6 3009.1 870.6 3008.7 872.6 3008.6 874.6 3008.4 876.6 3008.3 878.6 3008.5 880.6 3008.5 882.6 3008.7 884.6 3008.6 886.6 3008.5 888.6 3008.5 890.6 3008.7 892.6 3008.3 894.6 3008.4 896.6 3008.6 898.6 3008.6 900.6 3008.4 902.6 3008.4 904.6 3008.5 906.6 3008.6 908.6 3008.4 910.6 3008.4 912.6 3008.5 914.6 3008.5 916.6 3008.7 918.6 3008.6 920.6 3008.7 922.6 3008.9 924.6 3009 926.6 3009.1 928.6 3009.1 930.6 3009.1 932.6 3009.2 934.6 3009.5 936.6 3009.5 938.6 3009.4 940.6 3009.5 942.6 3009.7 944.6 3009.5 946.6 3009.8 948.6 3009.8 950.6 3010.2 952.6 3010 954.6 3010 956.6 3010.2 958.6 3010.3 960.6 3010.3 962.6 3010.4 964.6 3010.8 966.6 3011.1 968.6 3011.3 970.6 3011.6 972.6 3012 974.6 3012.1 976.6 3012.1 978.6 3012.4 980.6 3012.6 982.6 3013.1 984.6 3013.7 986.6 3013.7 988.6 3014.4 990.6 3014.5 992.6 3015.1 994.6 3015.5 996.6 3015.7 998.6 3016.3 1000.6 3016.6 1002.6 3017.1 1004.6 3017.6 1006.6 3018.1 1008.6 3018.7 1010.6 3019.2 1012.6 3019.8 1014.6 3020.3 1016.6 3021.1 1018.6 3022 1020.6 3022.7 1022.6 3023.2 1024.6 3024.1 1026.6 3025 1028.6 3025.6 1030.6 3026.7 1032.6 3027.5 1034.6 3028.6 1036.6 3029.6 1038.6 3030.8 1040.6 3032 1042.6 3033 1044.6 3033.9 1046.6 3034.8 1048.6 3035.8 1050.6 3036.8 1052.6 3037.7 1054.6 3038.7 1056.6 3039.7 1058.6 3040.2 1060.6 3040.8 1062.6 3041.5 1064.6 3041.8 1066.6 3041.9 1068.6 3041.9 1070.6 3042 1072.6 3041.9 1074.6 3041.8 1076.6 3041.4 1078.6 3041.1 1080.6 3041 1082.6 3040.6 1084.6 3040.6 1086.6 3040.4 1088.6 3040.6 1090.6 3041.2 1092.6 3042.2 1094.6 3043.5 1096.6 3045.3 1098.6 3047.9 1100.6 3051.2 1102.6 3054.7 1104.6 3058.6 1106.6 3062.8 1108.6 3067 1110.6 3070.4 1112.6 3072.8 1114.6 3073.8 1116.6 3072.3 1118.6 3068.7 1120.6 3064 1122.6 3058.7 1124.6 3053.5 1126.6 3048.4 1128.6 3043.5 1130.6 3039.1 1132.6 3035.4 1134.6 3032.3 1136.6 3029.3 1138.6 3026.9 1140.6 3024.9 1142.6 3023.5 1144.6 3022.3 1146.6 3021.1 1148.6 3020.1 1150.6 3019.5 1152.6 3018.8 1154.6 3018.3 1156.6 3017.6 1158.6 3017.2 1160.6 3016.9 1162.6 3016.8 1164.6 3016.2 1166.6 3016 1168.6 3015.9 1170.6 3015.8 1172.6 3015.5 1174.6 3015.4 1176.6 3015.4 1178.6 3015.4 1180.6 3015.4 1182.6 3015.1 1184.6 3015.2 1186.6 3015.2" stroke="#555555" stroke-width="9.2" fill="none" stroke-linejoin="round" stroke-linecap="round"/>
</g>
<rect x="124.6" y="2286.8" width="1063" height="850.9" fill="none" stroke="#000" stroke-width="4.4"/>
<path d="M324.5 3137.7v-17M524.3 3137.7v-17M724.2 3137.7v-17M924 3137.7v-17M1123.9 3137.7v-17" stroke="#000" stroke-width="4.2" stroke-linecap="round" fill="none"/>
<path d="M224.5 3137.7v-10.5M424.4 3137.7v-10.5M624.2 3137.7v-10.5M824.1 3137.7v-10.5M1024 3137.7v-10.5" stroke="#000" stroke-width="4.2" stroke-linecap="round" fill="none"/>
<text transform="translate(124.6,3204.7) scale(1.099,1)" x="-60" y="0" font-size="60" textLength="120" lengthAdjust="spacing">2600</text>
<text transform="translate(324.5,3204.7) scale(1.099,1)" x="-60" y="0" font-size="60" textLength="120" lengthAdjust="spacing">2400</text>
<text transform="translate(524.3,3204.7) scale(1.099,1)" x="-60" y="0" font-size="60" textLength="120" lengthAdjust="spacing">2200</text>
<text transform="translate(724.2,3204.7) scale(1.099,1)" x="-60" y="0" font-size="60" textLength="120" lengthAdjust="spacing">2000</text>
<text transform="translate(924,3204.7) scale(1.099,1)" x="-60" y="0" font-size="60" textLength="120" lengthAdjust="spacing">1800</text>
<text transform="translate(1123.9,3204.7) scale(1.099,1)" x="-60" y="0" font-size="60" textLength="120" lengthAdjust="spacing">1600</text>
<text transform="translate(653.1,3291) scale(1.09,1)" font-size="60"><tspan x="-258.2" y="0" textLength="460.4" lengthAdjust="spacing">Wavenumber/cm</tspan><tspan x="204.1" y="-22" font-size="42" textLength="54.1" lengthAdjust="spacingAndGlyphs">−1</tspan></text>
<text transform="translate(64.8,2712.2) rotate(-90) scale(1.130,1)" x="-225.4" y="0" font-size="60" textLength="450.9" lengthAdjust="spacing">Transmittance/%</text>
<text transform="translate(14,2336) scale(1.130,1)" x="0" y="0" font-size="60" textLength="74.5" lengthAdjust="spacing">(g)</text>
<text transform="translate(148,2402.6) scale(1.130,1)" x="0" y="0" font-size="60" textLength="263" lengthAdjust="spacing">PBA-3h-N</text>
<text transform="translate(148,2540.8) scale(1.130,1)" x="0" y="0" font-size="60" textLength="264.6" lengthAdjust="spacing">PBA-3h-O</text>
<text transform="translate(148,2656.9) scale(1.130,1)" x="0" y="0" font-size="60" textLength="263" lengthAdjust="spacing">PBA-3h-A</text>
<text transform="translate(148,2769.7) scale(1.130,1)" x="0" y="0" font-size="60" textLength="263" lengthAdjust="spacing">PBA-2h-A</text>
<text transform="translate(148,2883) scale(1.130,1)" x="0" y="0" font-size="60" textLength="263" lengthAdjust="spacing">PBA-1h-A</text>
<text transform="translate(148,2993.6) scale(1.130,1)" x="0" y="0" font-size="60" textLength="233.1" lengthAdjust="spacing">PBA-raw</text>
<g clip-path="url(#ch)">
<path d="M1447.1 2744.9 1450.1 2748.6 1453.2 2733.2 1456.2 2727.8 1459.2 2737.6 1462.2 2750.9 1465.2 2741 1468.2 2726.3 1471.2 2727.2 1474.2 2732.3 1477.2 2741.3 1480.2 2730.7 1483.2 2726.1 1486.2 2724.6 1489.2 2726.4 1492.2 2717.5 1495.2 2730 1498.3 2731 1501.3 2742.6 1504.3 2728.2 1507.3 2738.1 1510.3 2727.4 1513.3 2740.6 1516.3 2731.6 1519.3 2725.6 1522.3 2725 1525.3 2735.2 1528.3 2724.3 1531.3 2735.6 1534.4 2739.7 1537.4 2740.4 1540.4 2742 1543.5 2720.9 1546.5 2731 1549.5 2724.3 1552.6 2733.6 1555.6 2728.4 1558.7 2729 1561.7 2731.8 1564.7 2722.6 1567.8 2728 1570.8 2719.1 1573.8 2743.2 1576.9 2721.7 1579.9 2723.9 1583 2708.8 1586 2711.9 1589 2715.8 1592.1 2726.4 1595.1 2725.7 1598.1 2724.4 1601.2 2715.5 1604.2 2735.7 1607.2 2713.3 1610.3 2713.9 1613.3 2722.4 1616.4 2707.8 1619.4 2718.1 1622.4 2722.7 1625.5 2709.6 1628.5 2712.9 1631.5 2707 1634.6 2700.5 1637.6 2680.1 1640.7 2692.8 1643.7 2703.8 1646.7 2687.5 1649.8 2694.5 1652.8 2705.3 1655.8 2714.8 1658.9 2691.3 1661.9 2696.9 1665 2701 1668 2701 1671 2686.4 1674.1 2712.4 1677.1 2690.4 1680.1 2701.4 1683.2 2688.2 1686.2 2692.3 1689.2 2697.4 1692.3 2686 1695.3 2682.9 1698.4 2672 1701.4 2673 1704.4 2662.6 1707.5 2687.6 1710.5 2658.9 1713.5 2649 1716.6 2687.8 1719.6 2684.1 1722.7 2669.2 1725.7 2674.2 1728.7 2661.1 1731.8 2662.3 1734.8 2668.2 1737.8 2667.2 1740.9 2658.7 1743.9 2670.3 1746.9 2664.1 1750 2658 1753 2644.5 1756.1 2652.5 1759.1 2648.4 1762.1 2651.6 1765.2 2652 1768.2 2642.2 1771.2 2648.2 1774.3 2648.8 1777.3 2641.9 1780.4 2658.4 1783.4 2622.1 1786.4 2633 1789.5 2618.7 1792.5 2628.2 1795.5 2646.2 1798.6 2607.7 1801.6 2616.6 1804.7 2622.8 1807.7 2617.6 1810.7 2621.5 1813.8 2601.9 1816.8 2619.9 1819.8 2602.4 1822.9 2596.9 1825.9 2611.2 1828.9 2607.1 1832 2592.5 1835 2588.8 1838.1 2594.1 1841.1 2590.3 1844.1 2586.3 1847.2 2575.2 1850.2 2559 1853.4 2581.9 1856.6 2570 1859.8 2557.5 1863 2547.7 1866.1 2546.2 1869.3 2542.2 1872.5 2523.1 1875.7 2547.8 1878.9 2537.6 1882.1 2526.6 1885.3 2524.9 1888.5 2518.3 1891.7 2521.1 1894.8 2513.4 1898 2521.5 1901.2 2520.4 1904.4 2499 1907.6 2493.8 1910.8 2486.7 1914 2488.8 1917.2 2482.3 1920.4 2485 1923.5 2482.4 1926.7 2481.1 1929.9 2463.6 1933.1 2481.1 1936.3 2467.5 1939.5 2469.2 1942.7 2465.4 1945.9 2451.3 1949.1 2465.4 1952.2 2446.2 1955.4 2468.3 1958.6 2463.8 1961.8 2477.5 1965 2474.5 1968.2 2489 1971.4 2527 1974.6 2547 1977.8 2583.3 1980.9 2606.8 1984.1 2635.8 1987.3 2661.5 1990.5 2694.9 1993.7 2724.5 1996.9 2750.6 2000.1 2775.4 2003.3 2806.6 2006.5 2833.4 2009.6 2856.3 2012.8 2877.3 2016 2900.2 2019.2 2920.6 2022.4 2932.2 2025.6 2950 2028.8 2967.7 2032 2964.9 2035.2 2979.6 2038.3 2994.9 2041.5 2978.9 2044.7 2974.3 2047.9 2962.4 2051.1 2946.1 2054.3 2976.7 2057.5 2952.3 2060.7 2944.9 2063.9 2950.6 2067 2935.2 2070.2 2926.7 2073.4 2914.4 2076.6 2915.7 2079.8 2907.1 2083 2894.5 2086.2 2885.5 2089.4 2879.5 2092.6 2880.6 2095.7 2873.1 2098.9 2874.6 2102.1 2872.6 2105.3 2859.7 2108.5 2854.4 2111.7 2864.1 2114.9 2850.9 2118.1 2828.4 2121.2 2827.2 2124.4 2828.3 2127.6 2811.8 2130.8 2821.9 2134 2798.4 2137.2 2794.3 2140.4 2812.3 2143.6 2803.7 2146.8 2781.3 2149.9 2793.3 2153.1 2801.9 2156.3 2784.6 2159.5 2779.7 2162.7 2781.3 2165.9 2781.7 2169.1 2778.4 2172.1 2786.9 2175.2 2779.2 2178.2 2790.9 2181.2 2805.9 2184.3 2776.9 2187.3 2789.9 2190.3 2788 2193.4 2755.9 2196.4 2768.9 2199.5 2765.5 2202.5 2760.3 2205.5 2764.3 2208.6 2751.4 2211.6 2755.8 2214.6 2746.7 2217.7 2745.8 2220.7 2739.4 2223.7 2761.5 2226.8 2741.3 2229.8 2734.6 2232.9 2760.2 2235.9 2756.2 2238.9 2738.8 2242 2734 2245 2732 2248 2743.6 2251.1 2732.6 2254.1 2729.3 2257.2 2739.1 2260.2 2728.7 2263.2 2726.9 2266.3 2746.1 2269.3 2739.9 2272.3 2745.3 2275.4 2740.7 2278.4 2745 2281.4 2733.2 2284.5 2742.9 2287.5 2741 2290.6 2730.2 2293.6 2720.5 2296.6 2730.5 2299.7 2725.8 2302.7 2730.2 2305.7 2722.9 2308.8 2731.5 2311.8 2731.1 2314.9 2742.1 2317.9 2741.1 2320.9 2728.3 2324 2737.3 2327 2719.1 2330 2734.7 2333.1 2725.1 2336.1 2733.8 2339.1 2726.7 2342.2 2724.5 2345.2 2718 2348.3 2731.3 2351.3 2724.3 2354.3 2730.4 2357.4 2729.2 2360.4 2709.5 2363.4 2732.2 2366.5 2723.1 2369.5 2729.9 2372.6 2729.9 2375.6 2712.5 2378.6 2721.3 2381.7 2722.6 2384.7 2726.3 2387.7 2730 2390.8 2714.7 2393.8 2715.6 2396.9 2721.8 2399.9 2702.2 2402.9 2731.9 2406 2710.4 2409 2725.7 2412 2712 2415.1 2725.6 2418.1 2720.7 2421.1 2716.1 2424.2 2700.8 2427.3 2713.3 2430.3 2713.4 2433.4 2715.4 2436.5 2704.4 2439.6 2712 2442.6 2711.2 2445.7 2719.1 2448.8 2709.6 2451.9 2716 2454.9 2726.5 2458 2718 2461.1 2731.4 2464.2 2718.2 2467.2 2711.3 2470.3 2723.6 2473.4 2715.3 2476.5 2706.9 2479.5 2703.6 2482.6 2707.4 2485.7 2709.2 2488.8 2717.5 2491.8 2711.6 2494.9 2705.2 2498 2698.6 2501.1 2711.2 2504.1 2714.5 2507.2 2722.5 2510.3 2706.9" stroke="#3dba78" stroke-width="9.5" fill="none" stroke-linejoin="round" stroke-linecap="round"/>
<path d="M1447.1 2717.6 1450.1 2731.3 1453.2 2733.2 1456.2 2728.7 1459.2 2719 1462.2 2721.1 1465.2 2743.4 1468.2 2723.2 1471.2 2742.3 1474.2 2737.6 1477.2 2717.4 1480.2 2728.8 1483.2 2733.4 1486.2 2737.4 1489.2 2738 1492.2 2735.5 1495.2 2728.9 1498.3 2728.4 1501.3 2726.8 1504.3 2733.4 1507.3 2722.1 1510.3 2720.4 1513.3 2736.6 1516.3 2728.4 1519.3 2730.8 1522.3 2720.3 1525.3 2713.1 1528.3 2717.3 1531.3 2713.9 1534.4 2717.2 1537.4 2712.9 1540.4 2727.4 1543.5 2726 1546.5 2725.3 1549.5 2718.9 1552.6 2714.4 1555.6 2727 1558.7 2721.1 1561.7 2719.3 1564.7 2719.8 1567.8 2711.9 1570.8 2716.4 1573.8 2707.6 1576.9 2721 1579.9 2720.2 1583 2723.9 1586 2720.8 1589 2716.3 1592.1 2717.7 1595.1 2722.5 1598.1 2717.1 1601.2 2725.7 1604.2 2727.5 1607.2 2717.7 1610.3 2714.3 1613.3 2727 1616.4 2725.1 1619.4 2720.5 1622.4 2716.3 1625.5 2713.1 1628.5 2710.9 1631.5 2717.3 1634.6 2707.1 1637.6 2705.7 1640.7 2713.1 1643.7 2721.7 1646.7 2721.4 1649.8 2714.7 1652.8 2718.4 1655.8 2712.7 1658.9 2713.4 1661.9 2711.6 1665 2715.3 1668 2707.7 1671 2709.3 1674.1 2707.6 1677.1 2707.7 1680.1 2721.1 1683.2 2702.4 1686.2 2698.2 1689.2 2706.6 1692.3 2703.8 1695.3 2702.9 1698.4 2695.7 1701.4 2691.1 1704.4 2695.4 1707.5 2689.8 1710.5 2697.2 1713.5 2707.2 1716.6 2694.8 1719.6 2697.2 1722.7 2702.4 1725.7 2687.1 1728.7 2695.9 1731.8 2687.9 1734.8 2685.8 1737.8 2683.1 1740.9 2680.4 1743.9 2691 1746.9 2687.4 1750 2683 1753 2687.6 1756.1 2676.6 1759.1 2669.3 1762.1 2690.9 1765.2 2680.4 1768.2 2685.3 1771.2 2670.9 1774.3 2664.3 1777.3 2669.4 1780.4 2680.3 1783.4 2675.5 1786.4 2667.5 1789.5 2671 1792.5 2665.6 1795.5 2666.4 1798.6 2659.4 1801.6 2648.3 1804.7 2658.3 1807.7 2660.4 1810.7 2649.7 1813.8 2661.2 1816.8 2653.2 1819.8 2657.7 1822.9 2649.8 1825.9 2652.1 1828.9 2643.1 1832 2636 1835 2657 1838.1 2650.3 1841.1 2647.9 1844.1 2639.5 1847.2 2648.9 1850.2 2635.3 1853.4 2642 1856.6 2641.7 1859.8 2635.2 1863 2622.4 1866.1 2628.1 1869.3 2620.3 1872.5 2616.2 1875.7 2618.5 1878.9 2603.7 1882.1 2598.8 1885.3 2587.1 1888.5 2605.1 1891.7 2587 1894.8 2595.8 1898 2585.6 1901.2 2587.6 1904.4 2577.1 1907.6 2575 1910.8 2565.5 1914 2566.1 1917.2 2553.2 1920.4 2560.6 1923.5 2536.8 1926.7 2540.6 1929.9 2536 1933.1 2535.9 1936.3 2530.5 1939.5 2522.9 1942.7 2521.5 1945.9 2499.4 1949.1 2509.3 1952.2 2509.7 1955.4 2504.7 1958.6 2517.6 1961.8 2517.9 1965 2530.9 1968.2 2530.5 1971.4 2562.5 1974.6 2587.8 1977.8 2599.9 1980.9 2627.9 1984.1 2643.2 1987.3 2664.6 1990.5 2689.8 1993.7 2712.8 1996.9 2731.5 2000.1 2751.6 2003.3 2772.5 2006.5 2796.2 2009.6 2820.1 2012.8 2841.4 2016 2855.9 2019.2 2875 2022.4 2884.8 2025.6 2902.1 2028.8 2908.1 2032 2911.3 2035.2 2934.8 2038.3 2928.3 2041.5 2922 2044.7 2912.2 2047.9 2920.3 2051.1 2906.1 2054.3 2899.3 2057.5 2887.8 2060.7 2900.4 2063.9 2897 2067 2887.8 2070.2 2871 2073.4 2862.1 2076.6 2875.4 2079.8 2861 2083 2858.4 2086.2 2829.6 2089.4 2839.1 2092.6 2835.7 2095.7 2827.6 2098.9 2833.6 2102.1 2824.5 2105.3 2819.4 2108.5 2815.9 2111.7 2810.3 2114.9 2802 2118.1 2798.3 2121.2 2805.3 2124.4 2792.1 2127.6 2776.8 2130.8 2786.1 2134 2782.1 2137.2 2773.9 2140.4 2773.3 2143.6 2766.6 2146.8 2783.6 2149.9 2766.8 2153.1 2762.9 2156.3 2769.2 2159.5 2765.5 2162.7 2770.6 2165.9 2764.7 2169.1 2766.7 2172.1 2760.9 2175.2 2759.8 2178.2 2752.2 2181.2 2752.5 2184.3 2756.6 2187.3 2751 2190.3 2762.6 2193.4 2757.4 2196.4 2766.5 2199.5 2761.9 2202.5 2752.4 2205.5 2772.7 2208.6 2758.7 2211.6 2741.5 2214.6 2746.9 2217.7 2738.8 2220.7 2734.9 2223.7 2738.5 2226.8 2732.6 2229.8 2738.1 2232.9 2722.9 2235.9 2735.2 2238.9 2741.5 2242 2731.3 2245 2739.1 2248 2736.7 2251.1 2718.7 2254.1 2724.8 2257.2 2725.4 2260.2 2737.5 2263.2 2726.4 2266.3 2716.4 2269.3 2726.1 2272.3 2728.1 2275.4 2729.9 2278.4 2728.5 2281.4 2729 2284.5 2722.9 2287.5 2726.7 2290.6 2722.4 2293.6 2721.6 2296.6 2721.9 2299.7 2727.2 2302.7 2722.8 2305.7 2726.7 2308.8 2717.3 2311.8 2710.2 2314.9 2719.4 2317.9 2725.9 2320.9 2720.4 2324 2719.6 2327 2712.9 2330 2723.2 2333.1 2713.3 2336.1 2707.9 2339.1 2720.5 2342.2 2717.9 2345.2 2725.2 2348.3 2710.7 2351.3 2708.9 2354.3 2718.7 2357.4 2727.2 2360.4 2719.4 2363.4 2721.2 2366.5 2710.2 2369.5 2719.5 2372.6 2706.5 2375.6 2704.2 2378.6 2718.7 2381.7 2720.9 2384.7 2709.8 2387.7 2714.5 2390.8 2717.3 2393.8 2711.2 2396.9 2709.7 2399.9 2711.7 2402.9 2707.2 2406 2707.4 2409 2718.4 2412 2730.5 2415.1 2716 2418.1 2717 2421.1 2731.6 2424.2 2719.8 2427.3 2720.2 2430.3 2731.3 2433.4 2723.4 2436.5 2723.4 2439.6 2706.9 2442.6 2726.5 2445.7 2715.7 2448.8 2723 2451.9 2719.5 2454.9 2726 2458 2722.4 2461.1 2729.8 2464.2 2716.1 2467.2 2726.4 2470.3 2722.4 2473.4 2719.2 2476.5 2713.3 2479.5 2720.1 2482.6 2717.9 2485.7 2722.4 2488.8 2721.4 2491.8 2715.9 2494.9 2718.1 2498 2717.3 2501.1 2709.4 2504.1 2710.7 2507.2 2716.6 2510.3 2713" stroke="#4d4d4d" stroke-width="9.5" fill="none" stroke-linejoin="round" stroke-linecap="round"/>
</g>
<rect x="1447.4" y="2286.8" width="1063" height="850.9" fill="none" stroke="#000" stroke-width="4.4"/>
<path d="M1713.2 3137.7v-17M1978.9 3137.7v-17M2244.7 3137.7v-17" stroke="#000" stroke-width="4.2" stroke-linecap="round" fill="none"/>
<path d="M1580.3 3137.7v-10.5M1846 3137.7v-10.5M2111.8 3137.7v-10.5M2377.5 3137.7v-10.5" stroke="#000" stroke-width="4.2" stroke-linecap="round" fill="none"/>
<text transform="translate(1447.4,3204.7) scale(1.099,1)" x="-60" y="0" font-size="60" textLength="120" lengthAdjust="spacing">3300</text>
<text transform="translate(1713.2,3204.7) scale(1.099,1)" x="-60" y="0" font-size="60" textLength="120" lengthAdjust="spacing">3320</text>
<text transform="translate(1978.9,3204.7) scale(1.099,1)" x="-60" y="0" font-size="60" textLength="120" lengthAdjust="spacing">3340</text>
<text transform="translate(2244.7,3204.7) scale(1.099,1)" x="-60" y="0" font-size="60" textLength="120" lengthAdjust="spacing">3360</text>
<text transform="translate(2510.4,3204.7) scale(1.099,1)" x="-60" y="0" font-size="60" textLength="120" lengthAdjust="spacing">3380</text>
<text transform="translate(1978.9,3291) scale(1.130,1)" x="-272.8" y="0" font-size="60" textLength="545.5" lengthAdjust="spacing">Magnetic filed/Guass</text>
<text transform="translate(1387.6,2712.2) rotate(-90) scale(1.130,1)" x="-251.6" y="0" font-size="60" textLength="503.2" lengthAdjust="spacing">Intensity/arb. units</text>
<text transform="translate(1337,2336) scale(1.130,1)" x="0" y="0" font-size="60" textLength="77.8" lengthAdjust="spacing">(h)</text>
<path d="M2046.6 2343H2140.4" stroke="#5a5a5a" stroke-width="5" fill="none"/>
<text transform="translate(2164,2362.5) scale(1.130,1)" x="0" y="0" font-size="60" textLength="233.1" lengthAdjust="spacing">PBA-raw</text>
<path d="M2046.6 2414.3H2140.4" stroke="#3dba78" stroke-width="5" fill="none"/>
<text transform="translate(2164,2433.8) scale(1.130,1)" x="0" y="0" font-size="60" textLength="263" lengthAdjust="spacing">PBA-3h-A</text>
<text transform="translate(2062,2608) scale(1.09,1)" font-size="60"><tspan x="0" y="0" font-style="italic" textLength="29" lengthAdjust="spacingAndGlyphs">g</tspan><tspan x="29" y="0" textLength="78.3" lengthAdjust="spacingAndGlyphs"> = </tspan><tspan x="107.3" y="0" textLength="137.8" lengthAdjust="spacing">2.002</tspan></text>
<path d="M2164 2632L2034.3 2679.4" stroke="#111" stroke-width="6" fill="none"/>
<path d="M2008 2689L2041.1 2686.5L2035 2669.6Z" fill="#111"/>
<rect x="2896.7" y="2286.8" width="1063.2" height="1016.5" fill="#fff"/>
<g clip-path="url(#ci)">
<g filter="url(#b14)">
<path d="M2800 2946L3150 2950L3480 2966L3700 2972L4060 2972L4060 3400L2800 3400Z" fill="#020202"/>
</g>
<g filter="url(#b14)" opacity="0.5"><path d="M3520 3000L3650 2992L3990 2994L3990 3040L3780 3060L3600 3045Z" fill="#444"/></g>
<g filter="url(#b3)"><path d="M3040 3020C3100 2972 3180 2934 3283 2934C3380 2934 3450 2965 3500 3000C3540 3030 3570 3050 3640 3070L3640 3100L3000 3100Z" fill="#020202"/></g>
<rect x="2896.7" y="3140" width="1063.2" height="164" fill="#000" filter="url(#spk)"/>
<rect x="2876.7" y="3120" width="1103.2" height="46" fill="#030303" filter="url(#b5)"/>
<g filter="url(#b3)">
<path d="M2880 3082 2900 3084 2925 3080 2950 3088 2975 3092 3000 3094 3030 3098 3060 3100 3085 3103 3100 3098 3115 3106 3140 3104 3170 3110 3200 3112 3240 3113 3280 3112 3320 3108 3350 3106 3380 3110 3420 3112 3460 3116 3500 3120 3540 3124 3580 3130 3610 3136 3610 3140 3560 3143 3500 3146 3440 3146 3380 3146 3330 3143 3290 3140 3240 3144 3200 3142 3160 3140 3120 3136 3080 3138 3040 3134 3000 3130 2950 3128 2900 3126 2880 3126Z" stroke="none" stroke-width="0" fill="#3d3d3d" stroke-linejoin="round" stroke-linecap="round"/>
<ellipse cx="3222.7" cy="3124" rx="12.7" ry="2.6" fill="#4c4c4c"/>
<ellipse cx="3577.7" cy="3137.4" rx="12.4" ry="3.8" fill="#303030"/>
<ellipse cx="3309" cy="3125.9" rx="12.6" ry="2.6" fill="#242424"/>
<ellipse cx="3150" cy="3114" rx="6.7" ry="4.3" fill="#585858"/>
<ellipse cx="2950.7" cy="3114.1" rx="8.4" ry="3.6" fill="#303030"/>
<ellipse cx="2959.4" cy="3121.5" rx="14.7" ry="4.6" fill="#585858"/>
<ellipse cx="2961.9" cy="3123.6" rx="16.3" ry="2.5" fill="#242424"/>
<ellipse cx="3560.5" cy="3136.9" rx="15.5" ry="4.2" fill="#6a6a6a"/>
<ellipse cx="3502.2" cy="3134.3" rx="10.6" ry="2.3" fill="#484848"/>
<ellipse cx="3184.8" cy="3121.2" rx="10.2" ry="3.5" fill="#4c4c4c"/>
<ellipse cx="3335.7" cy="3120.4" rx="6.5" ry="5.1" fill="#2c2c2c"/>
<ellipse cx="3142.3" cy="3114.1" rx="13" ry="4.7" fill="#4c4c4c"/>
<ellipse cx="3071.6" cy="3109.7" rx="8.8" ry="4.3" fill="#303030"/>
<ellipse cx="3240" cy="3113.2" rx="14.7" ry="3.7" fill="#484848"/>
<ellipse cx="2917.5" cy="3112.4" rx="4.6" ry="2.8" fill="#484848"/>
<ellipse cx="2969.8" cy="3110.7" rx="6.3" ry="4.8" fill="#4c4c4c"/>
<ellipse cx="3194.8" cy="3119.6" rx="11.8" ry="4.9" fill="#484848"/>
<ellipse cx="3212.3" cy="3114.8" rx="7.7" ry="3.9" fill="#303030"/>
<ellipse cx="3227.1" cy="3129.7" rx="6.2" ry="5.7" fill="#2c2c2c"/>
<ellipse cx="3023.7" cy="3119.1" rx="6.9" ry="4.4" fill="#2c2c2c"/>
<ellipse cx="3522.5" cy="3136.7" rx="6.3" ry="5.2" fill="#484848"/>
<ellipse cx="2927.2" cy="3111" rx="16.8" ry="6" fill="#484848"/>
<ellipse cx="3005.3" cy="3123" rx="15.5" ry="4.7" fill="#2c2c2c"/>
<ellipse cx="3334.8" cy="3122.4" rx="10.9" ry="3.9" fill="#6a6a6a"/>
<ellipse cx="3140.5" cy="3121.3" rx="9.8" ry="5" fill="#242424"/>
<ellipse cx="3098.1" cy="3124.3" rx="7.6" ry="5.8" fill="#484848"/>
<ellipse cx="3335.4" cy="3125.4" rx="14.3" ry="4.9" fill="#484848"/>
<ellipse cx="3073.4" cy="3118.7" rx="13" ry="2.5" fill="#2c2c2c"/>
<ellipse cx="3185.8" cy="3113.9" rx="9.7" ry="5.9" fill="#484848"/>
<ellipse cx="3287.7" cy="3127.5" rx="16.2" ry="3" fill="#4c4c4c"/>
<ellipse cx="3184" cy="3121" rx="15.7" ry="5.2" fill="#484848"/>
<ellipse cx="3278.7" cy="3131.5" rx="12.3" ry="3.5" fill="#585858"/>
<ellipse cx="2911.6" cy="3113.3" rx="15.7" ry="5.2" fill="#4c4c4c"/>
<ellipse cx="3519.1" cy="3135" rx="14.3" ry="3.5" fill="#4c4c4c"/>
<ellipse cx="3383" cy="3124.7" rx="7.5" ry="5.2" fill="#6a6a6a"/>
<ellipse cx="3268.3" cy="3125.2" rx="5.6" ry="4.1" fill="#6a6a6a"/>
<ellipse cx="3361.8" cy="3128.5" rx="4.9" ry="3.4" fill="#4c4c4c"/>
<ellipse cx="3366" cy="3123.1" rx="5.2" ry="3.2" fill="#6a6a6a"/>
<ellipse cx="3022.2" cy="3116.6" rx="12.3" ry="3.7" fill="#585858"/>
<ellipse cx="2920.2" cy="3106.5" rx="9.8" ry="2.7" fill="#6a6a6a"/>
<ellipse cx="3304.1" cy="3124.1" rx="15.5" ry="2.4" fill="#585858"/>
<ellipse cx="2905.3" cy="3101.6" rx="7.6" ry="2.8" fill="#242424"/>
<ellipse cx="3101.3" cy="3115.7" rx="5.9" ry="5.6" fill="#2c2c2c"/>
<ellipse cx="3010.4" cy="3110.1" rx="11.9" ry="5.4" fill="#585858"/>
<ellipse cx="3212.9" cy="3126" rx="4.6" ry="5.1" fill="#242424"/>
<ellipse cx="3265.8" cy="3127.4" rx="9.1" ry="4.7" fill="#6a6a6a"/>
<rect x="3075" y="3098" width="5.2" height="22.1" fill="#0a0a0a"/>
<rect x="3096" y="3098" width="7.3" height="26.2" fill="#0a0a0a"/>
<rect x="3108" y="3098" width="8" height="20.3" fill="#0a0a0a"/>
<rect x="3128" y="3098" width="8.1" height="37.9" fill="#0a0a0a"/>
<rect x="3150" y="3098" width="7.5" height="23.4" fill="#0a0a0a"/>
<rect x="3176" y="3098" width="6.9" height="36" fill="#0a0a0a"/>
<rect x="3190" y="3098" width="5.5" height="29.9" fill="#0a0a0a"/>
<rect x="3215" y="3098" width="6.7" height="27.3" fill="#0a0a0a"/>
<rect x="3232" y="3098" width="6.6" height="32.5" fill="#0a0a0a"/>
<rect x="3262" y="3098" width="6.1" height="36.3" fill="#0a0a0a"/>
<rect x="3290" y="3098" width="8.2" height="32.1" fill="#0a0a0a"/>
<rect x="3302" y="3098" width="5.6" height="25.2" fill="#0a0a0a"/>
</g>
<path d="M3264.5 2499.5H3372.5V2612C3372.5 2624 3362 2628 3352 2631C3335 2638.5 3305 2638.5 3288 2631C3276 2628 3266 2623 3266 2612Z" fill="#020202"/>
<path d="M3022.6 3026.6H3323.8" stroke="#f4ee22" stroke-width="4.6" fill="none" stroke-linecap="round"/>
<path d="M3022.6 3026.6L3193.2 2906.7" stroke="#f4ee22" stroke-width="4.6" fill="none" stroke-linecap="round"/>
<path d="M3071.9 2995.9C3090.6 2997.3 3097.2 3010.6 3097.2 3026.6" stroke="#f4ee22" stroke-width="4.6" fill="none" stroke-linecap="round"/>
<path d="M3093 2978.6C3150 2945 3215 2929.3 3283 2929.3C3360 2929.3 3430 2951 3485 2987" stroke="#f4ee22" stroke-width="4.6" fill="none" stroke-linecap="round"/>
</g>
<rect x="2896.7" y="2286.8" width="1063.2" height="1016.5" fill="none" stroke="#000" stroke-width="4.0"/>
<text transform="translate(3123.5,3010.6) scale(1.09,1)" font-size="60" fill="#fff"><tspan x="0" y="0" textLength="107.5" lengthAdjust="spacing">53.9</tspan><tspan x="109.4" y="-11" font-size="37.2" textLength="15" lengthAdjust="spacingAndGlyphs">°</tspan></text>
<text transform="translate(2922,2362) scale(1.105,1)" x="0" y="0" font-size="60" textLength="53.3" lengthAdjust="spacing">1s</text>
<text transform="translate(3503,2362) scale(1.130,1)" x="0" y="0" font-size="60" textLength="383.1" lengthAdjust="spacing">NiFePBA-3h-A</text>
<text transform="translate(2797,2336) scale(1.130,1)" x="0" y="0" font-size="60" textLength="61.6" lengthAdjust="spacing">(i)</text>
</svg>
</body></html>
